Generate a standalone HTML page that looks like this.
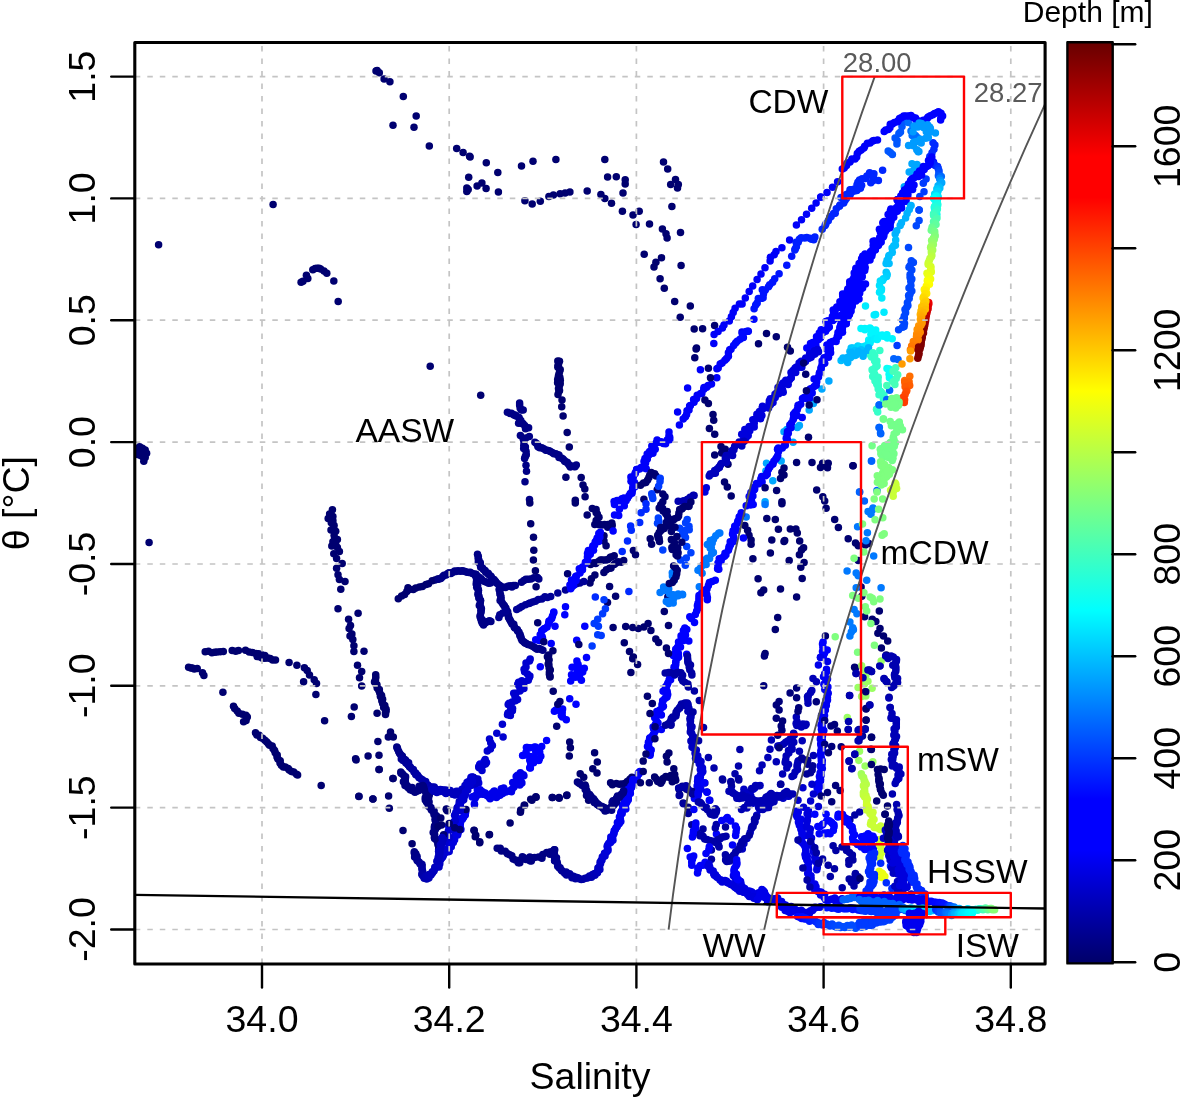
<!DOCTYPE html>
<html><head><meta charset="utf-8"><title>T-S diagram</title>
<style>html,body{margin:0;padding:0;background:#fff}svg{display:block}text{font-family:"Liberation Sans",Arial,Helvetica,sans-serif}</style>
</head><body>
<svg width="1181" height="1099" viewBox="0 0 1181 1099">
<rect width="1181" height="1099" fill="#fff"/>
<defs><clipPath id="cp"><rect x="134.8" y="42.5" width="910.3" height="921.5"/></clipPath>
<linearGradient id="jet" x1="0" y1="1" x2="0" y2="0">
<stop offset="0.0012" stop-color="#00006a"/>
<stop offset="0.0621" stop-color="#0000b4"/>
<stop offset="0.1230" stop-color="#0000ff"/>
<stop offset="0.1784" stop-color="#0000ff"/>
<stop offset="0.3832" stop-color="#00ffff"/>
<stop offset="0.5022" stop-color="#7fff7f"/>
<stop offset="0.6213" stop-color="#ffff00"/>
<stop offset="0.8316" stop-color="#ff0000"/>
<stop offset="0.8759" stop-color="#ff0000"/>
<stop offset="0.9977" stop-color="#6a0000"/>
</linearGradient></defs>
<g clip-path="url(#cp)">
<circle cx="377.1" cy="70.5" r="3.75" fill="#000070"/>
<circle cx="379.3" cy="72.7" r="3.75" fill="#000070"/>
<circle cx="376.0" cy="71.1" r="3.75" fill="#000070"/>
<circle cx="384.1" cy="78.9" r="3.75" fill="#000070"/>
<circle cx="389.9" cy="81.7" r="3.75" fill="#000070"/>
<circle cx="403.3" cy="96.5" r="3.75" fill="#000070"/>
<circle cx="416.2" cy="116.0" r="3.75" fill="#000070"/>
<circle cx="393.0" cy="125.3" r="3.75" fill="#000070"/>
<circle cx="414.0" cy="127.2" r="3.75" fill="#000070"/>
<circle cx="429.3" cy="145.9" r="3.75" fill="#000070"/>
<circle cx="273.1" cy="204.6" r="3.75" fill="#000070"/>
<circle cx="158.6" cy="244.8" r="3.75" fill="#000070"/>
<circle cx="301.1" cy="282.3" r="3.75" fill="#000070"/>
<circle cx="303.0" cy="281.2" r="3.75" fill="#000070"/>
<circle cx="306.4" cy="275.3" r="3.75" fill="#000070"/>
<circle cx="307.8" cy="278.4" r="3.75" fill="#000070"/>
<circle cx="312.8" cy="269.7" r="3.75" fill="#000070"/>
<circle cx="315.1" cy="268.6" r="3.75" fill="#000070"/>
<circle cx="317.0" cy="268.3" r="3.75" fill="#000070"/>
<circle cx="319.0" cy="268.3" r="3.75" fill="#000070"/>
<circle cx="320.6" cy="268.9" r="3.75" fill="#000070"/>
<circle cx="324.0" cy="271.1" r="3.75" fill="#000070"/>
<circle cx="326.8" cy="273.3" r="3.75" fill="#000070"/>
<circle cx="333.8" cy="280.9" r="3.75" fill="#000070"/>
<circle cx="338.2" cy="301.6" r="3.75" fill="#000070"/>
<circle cx="456.7" cy="148.5" r="3.75" fill="#000070"/>
<circle cx="463.1" cy="152.6" r="3.75" fill="#000070"/>
<circle cx="469.6" cy="156.3" r="3.75" fill="#000070"/>
<circle cx="470.1" cy="157.1" r="3.75" fill="#000070"/>
<circle cx="486.3" cy="162.7" r="3.75" fill="#000070"/>
<circle cx="497.8" cy="172.5" r="3.75" fill="#000070"/>
<circle cx="468.7" cy="177.2" r="3.75" fill="#000070"/>
<circle cx="481.9" cy="183.1" r="3.75" fill="#000070"/>
<circle cx="477.1" cy="185.9" r="3.75" fill="#000070"/>
<circle cx="486.1" cy="188.4" r="3.75" fill="#000070"/>
<circle cx="466.8" cy="188.1" r="3.75" fill="#000070"/>
<circle cx="466.8" cy="191.5" r="3.75" fill="#000070"/>
<circle cx="468.2" cy="189.5" r="3.75" fill="#000070"/>
<circle cx="498.4" cy="192.0" r="3.75" fill="#000070"/>
<circle cx="521.5" cy="166.1" r="3.75" fill="#000070"/>
<circle cx="533.0" cy="161.3" r="3.75" fill="#000070"/>
<circle cx="555.9" cy="159.4" r="3.75" fill="#000070"/>
<circle cx="524.9" cy="200.7" r="3.75" fill="#000070"/>
<circle cx="532.2" cy="204.1" r="3.75" fill="#000070"/>
<circle cx="540.3" cy="201.3" r="3.75" fill="#000070"/>
<circle cx="548.9" cy="196.5" r="3.75" fill="#000070"/>
<circle cx="553.4" cy="195.1" r="3.75" fill="#000070"/>
<circle cx="560.1" cy="193.7" r="3.75" fill="#000070"/>
<circle cx="565.1" cy="192.9" r="3.75" fill="#000070"/>
<circle cx="569.9" cy="192.0" r="3.75" fill="#000070"/>
<circle cx="587.2" cy="190.9" r="3.75" fill="#000070"/>
<circle cx="604.8" cy="159.4" r="3.75" fill="#000070"/>
<circle cx="607.6" cy="177.0" r="3.75" fill="#000070"/>
<circle cx="616.3" cy="176.7" r="3.75" fill="#000070"/>
<circle cx="625.2" cy="179.7" r="3.75" fill="#000070"/>
<circle cx="625.2" cy="183.9" r="3.75" fill="#000070"/>
<circle cx="623.0" cy="192.9" r="3.75" fill="#000070"/>
<circle cx="600.9" cy="194.6" r="3.75" fill="#000070"/>
<circle cx="604.8" cy="198.5" r="3.75" fill="#000070"/>
<circle cx="611.5" cy="203.2" r="3.75" fill="#000070"/>
<circle cx="622.4" cy="211.3" r="3.75" fill="#000070"/>
<circle cx="633.0" cy="215.0" r="3.75" fill="#000070"/>
<circle cx="639.2" cy="211.3" r="3.75" fill="#000070"/>
<circle cx="636.1" cy="224.5" r="3.75" fill="#000070"/>
<circle cx="649.5" cy="223.9" r="3.75" fill="#000070"/>
<circle cx="663.5" cy="161.9" r="3.75" fill="#000070"/>
<circle cx="667.7" cy="169.1" r="3.75" fill="#000070"/>
<circle cx="675.5" cy="179.5" r="3.75" fill="#000070"/>
<circle cx="670.7" cy="184.5" r="3.75" fill="#000070"/>
<circle cx="678.3" cy="184.5" r="3.75" fill="#000070"/>
<circle cx="677.5" cy="187.9" r="3.75" fill="#000070"/>
<circle cx="671.9" cy="206.6" r="3.75" fill="#000070"/>
<circle cx="680.5" cy="232.6" r="3.75" fill="#000070"/>
<circle cx="662.4" cy="228.9" r="3.75" fill="#000070"/>
<circle cx="666.0" cy="233.7" r="3.75" fill="#000070"/>
<circle cx="667.1" cy="238.1" r="3.75" fill="#000070"/>
<circle cx="644.2" cy="254.3" r="3.75" fill="#000070"/>
<circle cx="661.5" cy="257.7" r="3.75" fill="#000070"/>
<circle cx="655.9" cy="262.2" r="3.75" fill="#000070"/>
<circle cx="654.0" cy="266.9" r="3.75" fill="#000070"/>
<circle cx="681.1" cy="265.5" r="3.75" fill="#000070"/>
<circle cx="660.1" cy="278.7" r="3.75" fill="#000070"/>
<circle cx="664.3" cy="288.2" r="3.75" fill="#000070"/>
<circle cx="674.7" cy="301.6" r="3.75" fill="#000070"/>
<circle cx="690.3" cy="306.0" r="3.75" fill="#000070"/>
<circle cx="680.2" cy="317.2" r="3.75" fill="#000070"/>
<circle cx="694.2" cy="329.0" r="3.75" fill="#000070"/>
<circle cx="702.6" cy="328.7" r="3.75" fill="#000070"/>
<circle cx="714.6" cy="325.6" r="3.75" fill="#000070"/>
<circle cx="696.5" cy="348.0" r="3.75" fill="#000070"/>
<circle cx="139.6" cy="451.0" r="3.75" fill="#000070"/>
<circle cx="141.8" cy="452.9" r="3.75" fill="#000070"/>
<circle cx="142.4" cy="456.6" r="3.75" fill="#000070"/>
<circle cx="140.1" cy="455.2" r="3.75" fill="#000070"/>
<circle cx="138.2" cy="452.4" r="3.75" fill="#000070"/>
<circle cx="430.2" cy="366.3" r="3.75" fill="#000070"/>
<circle cx="136.2" cy="451.0" r="3.75" fill="#000070"/>
<circle cx="139.6" cy="446.8" r="3.75" fill="#000070"/>
<circle cx="142.4" cy="448.2" r="3.75" fill="#000070"/>
<circle cx="145.2" cy="450.1" r="3.75" fill="#000070"/>
<circle cx="146.6" cy="453.2" r="3.75" fill="#000070"/>
<circle cx="145.2" cy="457.4" r="3.75" fill="#000070"/>
<circle cx="143.8" cy="461.3" r="3.75" fill="#000070"/>
<circle cx="137.4" cy="454.6" r="3.75" fill="#000070"/>
<circle cx="149.1" cy="542.4" r="3.75" fill="#000070"/>
<circle cx="332.4" cy="509.7" r="3.75" fill="#000070"/>
<circle cx="329.6" cy="513.9" r="3.75" fill="#000070"/>
<circle cx="328.2" cy="518.6" r="3.75" fill="#000070"/>
<circle cx="332.9" cy="520.8" r="3.75" fill="#000070"/>
<circle cx="334.1" cy="525.6" r="3.75" fill="#000070"/>
<circle cx="331.0" cy="530.1" r="3.75" fill="#000070"/>
<circle cx="335.7" cy="531.2" r="3.75" fill="#000070"/>
<circle cx="334.6" cy="539.0" r="3.75" fill="#000070"/>
<circle cx="337.4" cy="539.6" r="3.75" fill="#000070"/>
<circle cx="332.9" cy="541.8" r="3.75" fill="#000070"/>
<circle cx="331.8" cy="546.0" r="3.75" fill="#000070"/>
<circle cx="337.4" cy="547.4" r="3.75" fill="#000070"/>
<circle cx="339.4" cy="551.6" r="3.75" fill="#000070"/>
<circle cx="333.8" cy="553.8" r="3.75" fill="#000070"/>
<circle cx="336.6" cy="558.6" r="3.75" fill="#000070"/>
<circle cx="342.2" cy="563.6" r="3.75" fill="#000070"/>
<circle cx="336.6" cy="568.3" r="3.75" fill="#000070"/>
<circle cx="338.0" cy="574.8" r="3.75" fill="#000070"/>
<circle cx="339.4" cy="579.5" r="3.75" fill="#000070"/>
<circle cx="345.0" cy="581.5" r="3.75" fill="#000070"/>
<circle cx="340.8" cy="589.3" r="3.75" fill="#000070"/>
<circle cx="332.9" cy="516.6" r="3.75" fill="#000070"/>
<circle cx="331.3" cy="522.8" r="3.75" fill="#000070"/>
<circle cx="333.5" cy="528.4" r="3.75" fill="#000070"/>
<circle cx="334.1" cy="535.6" r="3.75" fill="#000070"/>
<circle cx="335.7" cy="544.6" r="3.75" fill="#000070"/>
<circle cx="338.0" cy="608.8" r="3.75" fill="#000070"/>
<circle cx="358.1" cy="613.3" r="3.75" fill="#000070"/>
<circle cx="348.6" cy="619.2" r="3.75" fill="#000070"/>
<circle cx="350.5" cy="625.6" r="3.75" fill="#000070"/>
<circle cx="349.1" cy="628.4" r="3.75" fill="#000070"/>
<circle cx="351.9" cy="634.0" r="3.75" fill="#000070"/>
<circle cx="350.0" cy="636.0" r="3.75" fill="#000070"/>
<circle cx="352.8" cy="639.6" r="3.75" fill="#000070"/>
<circle cx="353.9" cy="645.7" r="3.75" fill="#000070"/>
<circle cx="353.9" cy="651.6" r="3.75" fill="#000070"/>
<circle cx="364.0" cy="651.3" r="3.75" fill="#000070"/>
<circle cx="398.3" cy="598.8" r="3.75" fill="#000070"/>
<circle cx="401.6" cy="596.1" r="3.75" fill="#000070"/>
<circle cx="404.6" cy="594.4" r="3.75" fill="#000070"/>
<circle cx="406.8" cy="591.5" r="3.75" fill="#000070"/>
<circle cx="408.3" cy="589.1" r="3.75" fill="#000070"/>
<circle cx="408.0" cy="587.7" r="3.75" fill="#000070"/>
<circle cx="409.3" cy="589.4" r="3.75" fill="#000070"/>
<circle cx="413.3" cy="589.4" r="3.75" fill="#000070"/>
<circle cx="415.8" cy="587.9" r="3.75" fill="#000070"/>
<circle cx="419.5" cy="587.0" r="3.75" fill="#000070"/>
<circle cx="422.4" cy="586.4" r="3.75" fill="#000070"/>
<circle cx="426.0" cy="584.6" r="3.75" fill="#000070"/>
<circle cx="428.5" cy="583.7" r="3.75" fill="#000070"/>
<circle cx="432.2" cy="580.7" r="3.75" fill="#000070"/>
<circle cx="435.0" cy="580.1" r="3.75" fill="#000070"/>
<circle cx="437.7" cy="579.0" r="3.75" fill="#000070"/>
<circle cx="205.2" cy="651.7" r="3.75" fill="#000070"/>
<circle cx="208.5" cy="651.3" r="3.75" fill="#000070"/>
<circle cx="211.9" cy="652.7" r="3.75" fill="#000070"/>
<circle cx="214.6" cy="652.3" r="3.75" fill="#000070"/>
<circle cx="216.9" cy="652.0" r="3.75" fill="#000070"/>
<circle cx="220.1" cy="651.8" r="3.75" fill="#000070"/>
<circle cx="223.3" cy="651.4" r="3.75" fill="#000070"/>
<circle cx="232.2" cy="650.5" r="3.75" fill="#000070"/>
<circle cx="235.7" cy="651.3" r="3.75" fill="#000070"/>
<circle cx="238.5" cy="650.4" r="3.75" fill="#000070"/>
<circle cx="245.5" cy="650.2" r="3.75" fill="#000070"/>
<circle cx="249.2" cy="652.0" r="3.75" fill="#000070"/>
<circle cx="252.5" cy="652.5" r="3.75" fill="#000070"/>
<circle cx="255.9" cy="653.6" r="3.75" fill="#000070"/>
<circle cx="258.7" cy="653.7" r="3.75" fill="#000070"/>
<circle cx="261.6" cy="654.7" r="3.75" fill="#000070"/>
<circle cx="264.8" cy="655.5" r="3.75" fill="#000070"/>
<circle cx="903.3" cy="121.9" r="3.75" fill="#0057ff"/>
<circle cx="902.0" cy="126.6" r="3.75" fill="#0057ff"/>
<circle cx="900.5" cy="132.0" r="3.75" fill="#0057ff"/>
<circle cx="898.9" cy="133.5" r="3.75" fill="#0057ff"/>
<circle cx="895.1" cy="137.9" r="3.75" fill="#0057ff"/>
<circle cx="897.1" cy="140.4" r="3.75" fill="#0057ff"/>
<circle cx="896.9" cy="144.1" r="3.75" fill="#0057ff"/>
<circle cx="888.2" cy="151.1" r="3.75" fill="#0057ff"/>
<circle cx="892.4" cy="154.6" r="3.75" fill="#0057ff"/>
<circle cx="890.3" cy="152.5" r="3.75" fill="#0057ff"/>
<circle cx="908.3" cy="122.6" r="3.75" fill="#006eff"/>
<circle cx="913.0" cy="126.2" r="3.75" fill="#006eff"/>
<circle cx="911.0" cy="131.0" r="3.75" fill="#006eff"/>
<circle cx="912.2" cy="135.4" r="3.75" fill="#006eff"/>
<circle cx="915.4" cy="135.5" r="3.75" fill="#006eff"/>
<circle cx="917.3" cy="137.6" r="3.75" fill="#006eff"/>
<circle cx="933.0" cy="142.7" r="3.75" fill="#002aff"/>
<circle cx="934.9" cy="145.1" r="3.75" fill="#002aff"/>
<circle cx="933.9" cy="149.3" r="3.75" fill="#002aff"/>
<circle cx="932.0" cy="152.8" r="3.75" fill="#002aff"/>
<circle cx="929.8" cy="156.6" r="3.75" fill="#002aff"/>
<circle cx="912.0" cy="163.7" r="3.75" fill="#00a7ff"/>
<circle cx="909.2" cy="172.1" r="3.75" fill="#00a7ff"/>
<circle cx="914.8" cy="166.5" r="3.75" fill="#00a7ff"/>
<circle cx="917.0" cy="164.4" r="3.75" fill="#00a7ff"/>
<circle cx="913.4" cy="170.7" r="3.75" fill="#00a7ff"/>
<circle cx="904.3" cy="186.8" r="3.75" fill="#00a7ff"/>
<circle cx="923.3" cy="183.3" r="3.75" fill="#003bff"/>
<circle cx="924.0" cy="191.7" r="3.75" fill="#003bff"/>
<circle cx="919.8" cy="196.6" r="3.75" fill="#003bff"/>
<circle cx="919.1" cy="209.9" r="3.75" fill="#003bff"/>
<circle cx="926.1" cy="179.1" r="3.75" fill="#003bff"/>
<circle cx="910.6" cy="205.7" r="3.75" fill="#00a7ff"/>
<circle cx="842.3" cy="169.1" r="3.75" fill="#0000f9"/>
<circle cx="844.2" cy="167.9" r="3.75" fill="#0000f9"/>
<circle cx="846.5" cy="165.6" r="3.75" fill="#0000f9"/>
<circle cx="846.8" cy="163.6" r="3.75" fill="#0000f9"/>
<circle cx="850.0" cy="161.9" r="3.75" fill="#0000f9"/>
<circle cx="851.9" cy="159.1" r="3.75" fill="#0000f9"/>
<circle cx="855.0" cy="159.0" r="3.75" fill="#0000f9"/>
<circle cx="856.7" cy="156.9" r="3.75" fill="#0000f9"/>
<circle cx="857.3" cy="153.6" r="3.75" fill="#0000f9"/>
<circle cx="859.2" cy="151.3" r="3.75" fill="#0000f9"/>
<circle cx="861.2" cy="150.0" r="3.75" fill="#0000f9"/>
<circle cx="863.9" cy="147.9" r="3.75" fill="#0000f9"/>
<circle cx="864.7" cy="146.3" r="3.75" fill="#0000f9"/>
<circle cx="867.4" cy="143.3" r="3.75" fill="#0000f9"/>
<circle cx="870.1" cy="143.0" r="3.75" fill="#0000f9"/>
<circle cx="872.6" cy="141.1" r="3.75" fill="#0000f9"/>
<circle cx="874.0" cy="140.4" r="3.75" fill="#0000f9"/>
<circle cx="877.5" cy="139.9" r="3.75" fill="#0000f9"/>
<circle cx="884.2" cy="131.6" r="3.75" fill="#0000ff"/>
<circle cx="885.7" cy="129.9" r="3.75" fill="#0000ff"/>
<circle cx="888.3" cy="129.5" r="3.75" fill="#0000ff"/>
<circle cx="889.9" cy="127.7" r="3.75" fill="#0000ff"/>
<circle cx="890.3" cy="124.3" r="3.75" fill="#0000ff"/>
<circle cx="892.4" cy="124.1" r="3.75" fill="#0000ff"/>
<circle cx="894.4" cy="122.6" r="3.75" fill="#0000ff"/>
<circle cx="897.4" cy="121.8" r="3.75" fill="#0000ff"/>
<circle cx="897.9" cy="120.9" r="3.75" fill="#0000ff"/>
<circle cx="899.5" cy="118.5" r="3.75" fill="#0000ff"/>
<circle cx="901.2" cy="117.7" r="3.75" fill="#0000ff"/>
<circle cx="903.7" cy="116.1" r="3.75" fill="#0000ff"/>
<circle cx="906.0" cy="115.9" r="3.75" fill="#0000ff"/>
<circle cx="908.8" cy="116.0" r="3.75" fill="#0000ff"/>
<circle cx="911.0" cy="115.4" r="3.75" fill="#0000ff"/>
<circle cx="913.2" cy="117.6" r="3.75" fill="#0000ff"/>
<circle cx="915.5" cy="118.0" r="3.75" fill="#0000ff"/>
<circle cx="915.8" cy="119.6" r="3.75" fill="#0000ff"/>
<circle cx="918.8" cy="121.1" r="3.75" fill="#0000ff"/>
<circle cx="920.3" cy="121.8" r="3.75" fill="#0000ff"/>
<circle cx="920.4" cy="124.3" r="3.75" fill="#0000ff"/>
<circle cx="921.6" cy="122.6" r="3.75" fill="#0000ff"/>
<circle cx="923.3" cy="120.2" r="3.75" fill="#0000ff"/>
<circle cx="925.5" cy="120.3" r="3.75" fill="#0000ff"/>
<circle cx="927.2" cy="118.4" r="3.75" fill="#0000ff"/>
<circle cx="928.1" cy="117.0" r="3.75" fill="#0000ff"/>
<circle cx="930.4" cy="115.7" r="3.75" fill="#0000ff"/>
<circle cx="932.8" cy="114.8" r="3.75" fill="#0000ff"/>
<circle cx="934.6" cy="113.4" r="3.75" fill="#0000ff"/>
<circle cx="937.2" cy="112.4" r="3.75" fill="#0000ff"/>
<circle cx="938.5" cy="111.7" r="3.75" fill="#0000ff"/>
<circle cx="941.0" cy="113.3" r="3.75" fill="#0000ff"/>
<circle cx="942.6" cy="116.1" r="3.75" fill="#0000ff"/>
<circle cx="940.8" cy="117.9" r="3.75" fill="#0000ff"/>
<circle cx="940.6" cy="120.1" r="3.75" fill="#0000ff"/>
<circle cx="913.0" cy="131.8" r="3.75" fill="#009bff"/>
<circle cx="914.1" cy="126.1" r="3.75" fill="#009bff"/>
<circle cx="917.9" cy="127.0" r="3.75" fill="#009bff"/>
<circle cx="919.2" cy="123.0" r="3.75" fill="#009bff"/>
<circle cx="921.5" cy="123.4" r="3.75" fill="#009bff"/>
<circle cx="927.2" cy="127.7" r="3.75" fill="#009bff"/>
<circle cx="929.6" cy="126.9" r="3.75" fill="#009bff"/>
<circle cx="926.3" cy="131.7" r="3.75" fill="#009bff"/>
<circle cx="935.4" cy="133.1" r="3.75" fill="#009bff"/>
<circle cx="929.8" cy="132.0" r="3.75" fill="#009bff"/>
<circle cx="928.3" cy="137.6" r="3.75" fill="#009bff"/>
<circle cx="925.7" cy="138.2" r="3.75" fill="#009bff"/>
<circle cx="920.4" cy="139.3" r="3.75" fill="#009bff"/>
<circle cx="921.2" cy="143.0" r="3.75" fill="#009bff"/>
<circle cx="916.5" cy="141.5" r="3.75" fill="#009bff"/>
<circle cx="913.6" cy="142.2" r="3.75" fill="#009bff"/>
<circle cx="908.6" cy="145.5" r="3.75" fill="#009bff"/>
<circle cx="913.5" cy="145.7" r="3.75" fill="#009bff"/>
<circle cx="916.8" cy="149.8" r="3.75" fill="#009bff"/>
<circle cx="918.9" cy="151.5" r="3.75" fill="#009bff"/>
<circle cx="918.2" cy="151.7" r="3.75" fill="#009bff"/>
<circle cx="923.4" cy="127.6" r="3.75" fill="#009bff"/>
<circle cx="927.5" cy="124.8" r="3.75" fill="#009bff"/>
<circle cx="930.4" cy="128.4" r="3.75" fill="#009bff"/>
<circle cx="841.0" cy="197.6" r="3.75" fill="#0025ff"/>
<circle cx="846.3" cy="194.4" r="3.75" fill="#0025ff"/>
<circle cx="848.5" cy="193.4" r="3.75" fill="#0025ff"/>
<circle cx="850.0" cy="189.8" r="3.75" fill="#0025ff"/>
<circle cx="851.2" cy="189.7" r="3.75" fill="#0025ff"/>
<circle cx="854.5" cy="188.9" r="3.75" fill="#0025ff"/>
<circle cx="857.0" cy="184.8" r="3.75" fill="#0025ff"/>
<circle cx="857.9" cy="182.3" r="3.75" fill="#0025ff"/>
<circle cx="859.5" cy="180.0" r="3.75" fill="#0025ff"/>
<circle cx="862.1" cy="178.7" r="3.75" fill="#0025ff"/>
<circle cx="865.8" cy="178.6" r="3.75" fill="#0025ff"/>
<circle cx="866.9" cy="176.1" r="3.75" fill="#0025ff"/>
<circle cx="869.6" cy="172.7" r="3.75" fill="#0025ff"/>
<circle cx="873.9" cy="173.7" r="3.75" fill="#0025ff"/>
<circle cx="873.5" cy="177.4" r="3.75" fill="#0025ff"/>
<circle cx="873.3" cy="180.6" r="3.75" fill="#0025ff"/>
<circle cx="870.8" cy="182.8" r="3.75" fill="#0025ff"/>
<circle cx="878.4" cy="180.5" r="3.75" fill="#0025ff"/>
<circle cx="882.6" cy="170.3" r="3.75" fill="#0025ff"/>
<circle cx="928.7" cy="302.6" r="3.75" fill="#f10000"/>
<circle cx="928.7" cy="304.3" r="3.75" fill="#e90000"/>
<circle cx="927.8" cy="306.4" r="3.75" fill="#e20000"/>
<circle cx="928.1" cy="308.8" r="3.75" fill="#db0000"/>
<circle cx="927.2" cy="310.6" r="3.75" fill="#d40000"/>
<circle cx="927.0" cy="312.4" r="3.75" fill="#cc0000"/>
<circle cx="926.4" cy="314.8" r="3.75" fill="#c50000"/>
<circle cx="926.0" cy="316.4" r="3.75" fill="#bd0000"/>
<circle cx="925.7" cy="318.5" r="3.75" fill="#b50000"/>
<circle cx="925.6" cy="320.8" r="3.75" fill="#ad0000"/>
<circle cx="925.1" cy="322.6" r="3.75" fill="#a40000"/>
<circle cx="924.8" cy="325.0" r="3.75" fill="#9c0000"/>
<circle cx="924.3" cy="326.9" r="3.75" fill="#940000"/>
<circle cx="923.9" cy="328.7" r="3.75" fill="#8c0000"/>
<circle cx="923.4" cy="330.9" r="3.75" fill="#890000"/>
<circle cx="923.5" cy="333.1" r="3.75" fill="#870000"/>
<circle cx="922.3" cy="334.7" r="3.75" fill="#850000"/>
<circle cx="922.3" cy="337.1" r="3.75" fill="#830000"/>
<circle cx="921.9" cy="338.9" r="3.75" fill="#820000"/>
<circle cx="921.3" cy="340.9" r="3.75" fill="#800000"/>
<circle cx="921.1" cy="342.6" r="3.75" fill="#7f0000"/>
<circle cx="921.1" cy="345.1" r="3.75" fill="#7f0000"/>
<circle cx="920.4" cy="347.1" r="3.75" fill="#7f0000"/>
<circle cx="919.9" cy="349.0" r="3.75" fill="#7f0000"/>
<circle cx="931.5" cy="160.1" r="3.75" fill="#0008ff"/>
<circle cx="933.5" cy="162.1" r="3.75" fill="#0011ff"/>
<circle cx="933.6" cy="163.7" r="3.75" fill="#001aff"/>
<circle cx="935.2" cy="165.6" r="3.75" fill="#0022ff"/>
<circle cx="937.6" cy="166.5" r="3.75" fill="#002bff"/>
<circle cx="938.2" cy="168.4" r="3.75" fill="#0036ff"/>
<circle cx="939.0" cy="170.8" r="3.75" fill="#0041ff"/>
<circle cx="938.9" cy="173.0" r="3.75" fill="#004cff"/>
<circle cx="938.4" cy="175.7" r="3.75" fill="#0057ff"/>
<circle cx="941.3" cy="176.5" r="3.75" fill="#006aff"/>
<circle cx="939.6" cy="178.6" r="3.75" fill="#007eff"/>
<circle cx="940.3" cy="180.6" r="3.75" fill="#0093ff"/>
<circle cx="941.7" cy="182.7" r="3.75" fill="#00a7ff"/>
<circle cx="940.3" cy="184.1" r="3.75" fill="#00a7ff"/>
<circle cx="938.1" cy="185.8" r="3.75" fill="#00b2ff"/>
<circle cx="939.8" cy="187.9" r="3.75" fill="#00bdff"/>
<circle cx="936.8" cy="189.1" r="3.75" fill="#00c8ff"/>
<circle cx="937.9" cy="191.3" r="3.75" fill="#00d3ff"/>
<circle cx="934.7" cy="193.9" r="3.75" fill="#00daff"/>
<circle cx="937.8" cy="196.0" r="3.75" fill="#00e1ff"/>
<circle cx="938.2" cy="197.6" r="3.75" fill="#00e8ff"/>
<circle cx="937.2" cy="200.3" r="3.75" fill="#00efff"/>
<circle cx="936.9" cy="202.0" r="3.75" fill="#00f4ff"/>
<circle cx="937.3" cy="204.3" r="3.75" fill="#00f8ff"/>
<circle cx="935.6" cy="205.5" r="3.75" fill="#00fcff"/>
<circle cx="934.3" cy="207.4" r="3.75" fill="#02fffd"/>
<circle cx="936.4" cy="209.2" r="3.75" fill="#06fff9"/>
<circle cx="934.4" cy="212.5" r="3.75" fill="#0afff5"/>
<circle cx="936.9" cy="214.6" r="3.75" fill="#0efff1"/>
<circle cx="936.0" cy="195.9" r="3.75" fill="#00f6ff"/>
<circle cx="933.5" cy="198.2" r="3.75" fill="#00feff"/>
<circle cx="934.8" cy="199.7" r="3.75" fill="#06fff9"/>
<circle cx="936.4" cy="201.8" r="3.75" fill="#0dfff2"/>
<circle cx="937.4" cy="202.9" r="3.75" fill="#15ffea"/>
<circle cx="937.8" cy="204.8" r="3.75" fill="#1cffe3"/>
<circle cx="934.6" cy="206.5" r="3.75" fill="#23ffdc"/>
<circle cx="937.4" cy="209.0" r="3.75" fill="#2affd4"/>
<circle cx="936.6" cy="210.7" r="3.75" fill="#31ffcd"/>
<circle cx="934.8" cy="212.4" r="3.75" fill="#37ffc7"/>
<circle cx="933.5" cy="214.0" r="3.75" fill="#3dffc2"/>
<circle cx="933.6" cy="215.4" r="3.75" fill="#43ffbc"/>
<circle cx="937.0" cy="217.9" r="3.75" fill="#49ffb6"/>
<circle cx="935.9" cy="219.5" r="3.75" fill="#4effb0"/>
<circle cx="933.5" cy="221.8" r="3.75" fill="#54ffaa"/>
<circle cx="935.0" cy="223.5" r="3.75" fill="#5affa4"/>
<circle cx="936.0" cy="224.5" r="3.75" fill="#60ff9f"/>
<circle cx="932.2" cy="227.0" r="3.75" fill="#65ff99"/>
<circle cx="932.3" cy="227.9" r="3.75" fill="#6bff93"/>
<circle cx="931.3" cy="230.2" r="3.75" fill="#71ff8d"/>
<circle cx="934.7" cy="231.6" r="3.75" fill="#76ff88"/>
<circle cx="934.7" cy="234.1" r="3.75" fill="#7bff83"/>
<circle cx="935.2" cy="236.1" r="3.75" fill="#80ff7e"/>
<circle cx="933.5" cy="237.9" r="3.75" fill="#85ff79"/>
<circle cx="934.3" cy="239.2" r="3.75" fill="#8aff74"/>
<circle cx="931.6" cy="240.5" r="3.75" fill="#8fff70"/>
<circle cx="932.7" cy="242.5" r="3.75" fill="#93ff6b"/>
<circle cx="933.3" cy="244.5" r="3.75" fill="#98ff66"/>
<circle cx="931.3" cy="246.0" r="3.75" fill="#9dff61"/>
<circle cx="930.6" cy="247.4" r="3.75" fill="#a2ff5c"/>
<circle cx="932.7" cy="249.9" r="3.75" fill="#a7ff57"/>
<circle cx="931.4" cy="251.1" r="3.75" fill="#acff53"/>
<circle cx="931.4" cy="252.9" r="3.75" fill="#b1ff4e"/>
<circle cx="931.8" cy="254.9" r="3.75" fill="#b5ff49"/>
<circle cx="931.5" cy="256.6" r="3.75" fill="#baff44"/>
<circle cx="930.1" cy="258.3" r="3.75" fill="#bfff3f"/>
<circle cx="929.3" cy="260.4" r="3.75" fill="#c4ff3b"/>
<circle cx="928.3" cy="262.8" r="3.75" fill="#c9ff36"/>
<circle cx="928.2" cy="264.5" r="3.75" fill="#ceff31"/>
<circle cx="930.8" cy="266.6" r="3.75" fill="#d3ff2c"/>
<circle cx="930.8" cy="268.1" r="3.75" fill="#d7ff27"/>
<circle cx="930.7" cy="270.2" r="3.75" fill="#dcff23"/>
<circle cx="931.3" cy="272.1" r="3.75" fill="#e0ff1f"/>
<circle cx="927.0" cy="273.2" r="3.75" fill="#e4ff1a"/>
<circle cx="928.0" cy="274.9" r="3.75" fill="#e9ff16"/>
<circle cx="929.1" cy="276.8" r="3.75" fill="#edff12"/>
<circle cx="930.6" cy="278.9" r="3.75" fill="#f1ff0e"/>
<circle cx="927.4" cy="280.2" r="3.75" fill="#f5ff0a"/>
<circle cx="927.5" cy="281.7" r="3.75" fill="#faff05"/>
<circle cx="929.4" cy="284.2" r="3.75" fill="#feff01"/>
<circle cx="926.3" cy="286.0" r="3.75" fill="#fffc00"/>
<circle cx="926.4" cy="287.5" r="3.75" fill="#fff700"/>
<circle cx="924.3" cy="289.4" r="3.75" fill="#fff200"/>
<circle cx="925.8" cy="290.5" r="3.75" fill="#ffed00"/>
<circle cx="926.7" cy="293.4" r="3.75" fill="#ffe800"/>
<circle cx="925.0" cy="293.8" r="3.75" fill="#ffe300"/>
<circle cx="923.7" cy="296.7" r="3.75" fill="#ffde00"/>
<circle cx="923.1" cy="297.9" r="3.75" fill="#ffd900"/>
<circle cx="925.5" cy="300.2" r="3.75" fill="#ffd400"/>
<circle cx="925.8" cy="301.6" r="3.75" fill="#ffcf00"/>
<circle cx="923.7" cy="302.9" r="3.75" fill="#ffcb00"/>
<circle cx="925.3" cy="305.8" r="3.75" fill="#ffc600"/>
<circle cx="921.7" cy="306.8" r="3.75" fill="#ffc200"/>
<circle cx="925.3" cy="309.3" r="3.75" fill="#ffbd00"/>
<circle cx="921.0" cy="311.0" r="3.75" fill="#ffb900"/>
<circle cx="923.3" cy="312.4" r="3.75" fill="#ffb400"/>
<circle cx="920.3" cy="314.4" r="3.75" fill="#ffb000"/>
<circle cx="921.7" cy="315.9" r="3.75" fill="#ffab00"/>
<circle cx="921.4" cy="317.2" r="3.75" fill="#ffa700"/>
<circle cx="920.4" cy="319.4" r="3.75" fill="#ffa200"/>
<circle cx="921.8" cy="321.7" r="3.75" fill="#ff9e00"/>
<circle cx="922.1" cy="323.0" r="3.75" fill="#ff9a00"/>
<circle cx="921.0" cy="325.2" r="3.75" fill="#ff9800"/>
<circle cx="918.7" cy="325.8" r="3.75" fill="#ff9600"/>
<circle cx="919.4" cy="327.9" r="3.75" fill="#ff9300"/>
<circle cx="917.2" cy="329.4" r="3.75" fill="#ff9100"/>
<circle cx="920.2" cy="332.3" r="3.75" fill="#ff8e00"/>
<circle cx="916.7" cy="333.9" r="3.75" fill="#ff8c00"/>
<circle cx="918.6" cy="334.8" r="3.75" fill="#ff8a00"/>
<circle cx="916.5" cy="336.4" r="3.75" fill="#ff8700"/>
<circle cx="918.2" cy="339.8" r="3.75" fill="#ff8500"/>
<circle cx="917.0" cy="340.8" r="3.75" fill="#ff8300"/>
<circle cx="913.3" cy="341.5" r="3.75" fill="#ff8000"/>
<circle cx="916.7" cy="345.2" r="3.75" fill="#ff7e00"/>
<circle cx="915.8" cy="346.8" r="3.75" fill="#ff7b00"/>
<circle cx="911.6" cy="345.9" r="3.75" fill="#ff7900"/>
<circle cx="911.9" cy="348.8" r="3.75" fill="#ff7600"/>
<circle cx="910.4" cy="349.8" r="3.75" fill="#ff7400"/>
<circle cx="892.6" cy="214.7" r="3.75" fill="#0000ff"/>
<circle cx="892.3" cy="212.7" r="3.75" fill="#0000ff"/>
<circle cx="895.3" cy="212.1" r="3.75" fill="#0000ff"/>
<circle cx="897.3" cy="211.3" r="3.75" fill="#0000ff"/>
<circle cx="897.6" cy="209.4" r="3.75" fill="#0000ff"/>
<circle cx="897.9" cy="208.0" r="3.75" fill="#0000ff"/>
<circle cx="898.2" cy="206.1" r="3.75" fill="#0000ff"/>
<circle cx="898.7" cy="204.4" r="3.75" fill="#0000ff"/>
<circle cx="898.1" cy="201.3" r="3.75" fill="#0000ff"/>
<circle cx="897.5" cy="199.8" r="3.75" fill="#0000ff"/>
<circle cx="899.6" cy="199.0" r="3.75" fill="#0000ff"/>
<circle cx="903.4" cy="200.2" r="3.75" fill="#0000ff"/>
<circle cx="900.8" cy="196.0" r="3.75" fill="#0000ff"/>
<circle cx="906.3" cy="196.6" r="3.75" fill="#0000ff"/>
<circle cx="907.8" cy="195.7" r="3.75" fill="#0000ff"/>
<circle cx="902.6" cy="193.0" r="3.75" fill="#0000ff"/>
<circle cx="907.9" cy="193.1" r="3.75" fill="#0000ff"/>
<circle cx="904.5" cy="190.1" r="3.75" fill="#0000ff"/>
<circle cx="907.2" cy="188.1" r="3.75" fill="#0000ff"/>
<circle cx="908.5" cy="187.4" r="3.75" fill="#0000ff"/>
<circle cx="912.6" cy="189.5" r="3.75" fill="#0000ff"/>
<circle cx="908.4" cy="183.9" r="3.75" fill="#0000ff"/>
<circle cx="911.6" cy="184.0" r="3.75" fill="#0000ff"/>
<circle cx="914.0" cy="185.1" r="3.75" fill="#0000ff"/>
<circle cx="910.6" cy="180.5" r="3.75" fill="#0000ff"/>
<circle cx="912.1" cy="178.7" r="3.75" fill="#0000ff"/>
<circle cx="914.0" cy="177.7" r="3.75" fill="#0000ff"/>
<circle cx="916.2" cy="176.5" r="3.75" fill="#0000ff"/>
<circle cx="918.5" cy="176.5" r="3.75" fill="#0000ff"/>
<circle cx="917.0" cy="174.0" r="3.75" fill="#0000ff"/>
<circle cx="919.8" cy="174.3" r="3.75" fill="#0000ff"/>
<circle cx="921.6" cy="175.1" r="3.75" fill="#0000ff"/>
<circle cx="919.6" cy="171.1" r="3.75" fill="#0000ff"/>
<circle cx="922.7" cy="169.2" r="3.75" fill="#0000ff"/>
<circle cx="924.2" cy="169.6" r="3.75" fill="#0000ff"/>
<circle cx="923.4" cy="166.4" r="3.75" fill="#0000ff"/>
<circle cx="926.8" cy="166.4" r="3.75" fill="#0000ff"/>
<circle cx="928.1" cy="165.5" r="3.75" fill="#0000ff"/>
<circle cx="928.9" cy="164.9" r="3.75" fill="#0000ff"/>
<circle cx="930.2" cy="162.8" r="3.75" fill="#0000ff"/>
<circle cx="928.5" cy="160.4" r="3.75" fill="#0000ff"/>
<circle cx="929.8" cy="160.7" r="3.75" fill="#0000ff"/>
<circle cx="931.8" cy="156.9" r="3.75" fill="#0000ff"/>
<circle cx="846.1" cy="323.6" r="3.75" fill="#0000ff"/>
<circle cx="840.5" cy="319.2" r="3.75" fill="#0000ff"/>
<circle cx="841.1" cy="318.8" r="3.75" fill="#0000ff"/>
<circle cx="844.7" cy="318.4" r="3.75" fill="#0000ff"/>
<circle cx="841.3" cy="315.3" r="3.75" fill="#0000ff"/>
<circle cx="847.0" cy="315.9" r="3.75" fill="#0000ff"/>
<circle cx="843.5" cy="313.7" r="3.75" fill="#0000ff"/>
<circle cx="847.4" cy="313.3" r="3.75" fill="#0000ff"/>
<circle cx="846.4" cy="310.5" r="3.75" fill="#0000ff"/>
<circle cx="842.8" cy="308.8" r="3.75" fill="#0000ff"/>
<circle cx="846.8" cy="307.8" r="3.75" fill="#0000ff"/>
<circle cx="847.5" cy="306.8" r="3.75" fill="#0000ff"/>
<circle cx="845.2" cy="304.6" r="3.75" fill="#0000ff"/>
<circle cx="848.5" cy="302.4" r="3.75" fill="#0000ff"/>
<circle cx="846.2" cy="302.0" r="3.75" fill="#0000ff"/>
<circle cx="845.7" cy="299.6" r="3.75" fill="#0000ff"/>
<circle cx="849.3" cy="299.7" r="3.75" fill="#0000ff"/>
<circle cx="849.6" cy="296.7" r="3.75" fill="#0000ff"/>
<circle cx="849.5" cy="295.1" r="3.75" fill="#0000ff"/>
<circle cx="848.3" cy="293.9" r="3.75" fill="#0000ff"/>
<circle cx="847.2" cy="291.6" r="3.75" fill="#0000ff"/>
<circle cx="849.9" cy="290.8" r="3.75" fill="#0000ff"/>
<circle cx="855.1" cy="291.3" r="3.75" fill="#0000ff"/>
<circle cx="851.3" cy="288.0" r="3.75" fill="#0000ff"/>
<circle cx="855.7" cy="288.6" r="3.75" fill="#0000ff"/>
<circle cx="852.9" cy="285.2" r="3.75" fill="#0000ff"/>
<circle cx="857.3" cy="285.9" r="3.75" fill="#0000ff"/>
<circle cx="854.7" cy="284.4" r="3.75" fill="#0000ff"/>
<circle cx="857.7" cy="283.1" r="3.75" fill="#0000ff"/>
<circle cx="855.2" cy="279.6" r="3.75" fill="#0000ff"/>
<circle cx="854.9" cy="278.4" r="3.75" fill="#0000ff"/>
<circle cx="857.4" cy="278.2" r="3.75" fill="#0000ff"/>
<circle cx="861.9" cy="277.2" r="3.75" fill="#0000ff"/>
<circle cx="862.2" cy="275.9" r="3.75" fill="#0000ff"/>
<circle cx="859.4" cy="273.4" r="3.75" fill="#0000ff"/>
<circle cx="860.6" cy="272.3" r="3.75" fill="#0000ff"/>
<circle cx="859.4" cy="270.1" r="3.75" fill="#0000ff"/>
<circle cx="864.7" cy="270.4" r="3.75" fill="#0000ff"/>
<circle cx="863.2" cy="269.1" r="3.75" fill="#0000ff"/>
<circle cx="865.2" cy="267.4" r="3.75" fill="#0000ff"/>
<circle cx="863.9" cy="265.7" r="3.75" fill="#0000ff"/>
<circle cx="863.9" cy="264.1" r="3.75" fill="#0000ff"/>
<circle cx="863.8" cy="263.0" r="3.75" fill="#0000ff"/>
<circle cx="865.4" cy="261.9" r="3.75" fill="#0000ff"/>
<circle cx="863.7" cy="258.6" r="3.75" fill="#0000ff"/>
<circle cx="868.8" cy="259.6" r="3.75" fill="#0000ff"/>
<circle cx="870.0" cy="260.0" r="3.75" fill="#0000ff"/>
<circle cx="865.7" cy="255.2" r="3.75" fill="#0000ff"/>
<circle cx="869.2" cy="254.7" r="3.75" fill="#0000ff"/>
<circle cx="871.8" cy="256.0" r="3.75" fill="#0000ff"/>
<circle cx="870.5" cy="251.8" r="3.75" fill="#0000ff"/>
<circle cx="872.3" cy="251.0" r="3.75" fill="#0000ff"/>
<circle cx="872.0" cy="250.5" r="3.75" fill="#0000ff"/>
<circle cx="875.1" cy="250.1" r="3.75" fill="#0000ff"/>
<circle cx="874.9" cy="247.9" r="3.75" fill="#0000ff"/>
<circle cx="873.2" cy="245.2" r="3.75" fill="#0000ff"/>
<circle cx="876.9" cy="244.5" r="3.75" fill="#0000ff"/>
<circle cx="878.8" cy="244.2" r="3.75" fill="#0000ff"/>
<circle cx="873.1" cy="241.3" r="3.75" fill="#0000ff"/>
<circle cx="879.3" cy="242.4" r="3.75" fill="#0000ff"/>
<circle cx="879.4" cy="240.5" r="3.75" fill="#0000ff"/>
<circle cx="879.7" cy="239.3" r="3.75" fill="#0000ff"/>
<circle cx="880.7" cy="237.3" r="3.75" fill="#0000ff"/>
<circle cx="883.2" cy="236.9" r="3.75" fill="#0000ff"/>
<circle cx="883.9" cy="235.6" r="3.75" fill="#0000ff"/>
<circle cx="880.4" cy="231.9" r="3.75" fill="#0000ff"/>
<circle cx="884.4" cy="231.3" r="3.75" fill="#0000ff"/>
<circle cx="879.4" cy="229.3" r="3.75" fill="#0000ff"/>
<circle cx="886.7" cy="229.5" r="3.75" fill="#0000ff"/>
<circle cx="886.2" cy="228.9" r="3.75" fill="#0000ff"/>
<circle cx="884.0" cy="226.3" r="3.75" fill="#0000ff"/>
<circle cx="882.8" cy="222.8" r="3.75" fill="#0000ff"/>
<circle cx="885.2" cy="221.5" r="3.75" fill="#0000ff"/>
<circle cx="884.0" cy="221.4" r="3.75" fill="#0000ff"/>
<circle cx="889.2" cy="220.9" r="3.75" fill="#0000ff"/>
<circle cx="891.1" cy="220.9" r="3.75" fill="#0000ff"/>
<circle cx="890.9" cy="218.7" r="3.75" fill="#0000ff"/>
<circle cx="889.6" cy="216.5" r="3.75" fill="#0000ff"/>
<circle cx="888.1" cy="214.6" r="3.75" fill="#0000ff"/>
<circle cx="891.2" cy="212.9" r="3.75" fill="#0000ff"/>
<circle cx="891.8" cy="212.9" r="3.75" fill="#0000ff"/>
<circle cx="893.6" cy="211.0" r="3.75" fill="#0000ff"/>
<circle cx="894.0" cy="210.4" r="3.75" fill="#0000ff"/>
<circle cx="895.3" cy="209.9" r="3.75" fill="#0000ff"/>
<circle cx="896.3" cy="207.7" r="3.75" fill="#0000ff"/>
<circle cx="899.1" cy="207.6" r="3.75" fill="#0000ff"/>
<circle cx="901.6" cy="208.1" r="3.75" fill="#0000ff"/>
<circle cx="899.2" cy="204.0" r="3.75" fill="#0000ff"/>
<circle cx="901.2" cy="204.4" r="3.75" fill="#0000ff"/>
<circle cx="897.1" cy="199.8" r="3.75" fill="#0000ff"/>
<circle cx="904.3" cy="201.4" r="3.75" fill="#0000ff"/>
<circle cx="905.1" cy="201.2" r="3.75" fill="#0000ff"/>
<circle cx="906.1" cy="200.4" r="3.75" fill="#0000ff"/>
<circle cx="902.4" cy="196.7" r="3.75" fill="#0000ff"/>
<circle cx="903.7" cy="195.5" r="3.75" fill="#0000ff"/>
<circle cx="838.6" cy="336.3" r="3.75" fill="#0000ff"/>
<circle cx="838.5" cy="334.3" r="3.75" fill="#0000ff"/>
<circle cx="839.2" cy="332.2" r="3.75" fill="#0000ff"/>
<circle cx="842.5" cy="332.3" r="3.75" fill="#0000ff"/>
<circle cx="842.4" cy="328.9" r="3.75" fill="#0000ff"/>
<circle cx="841.8" cy="326.9" r="3.75" fill="#0000ff"/>
<circle cx="843.1" cy="324.8" r="3.75" fill="#0000ff"/>
<circle cx="846.2" cy="323.7" r="3.75" fill="#0000ff"/>
<circle cx="845.4" cy="322.5" r="3.75" fill="#0000ff"/>
<circle cx="844.4" cy="319.0" r="3.75" fill="#0000ff"/>
<circle cx="847.6" cy="318.7" r="3.75" fill="#0000ff"/>
<circle cx="847.7" cy="317.4" r="3.75" fill="#0000ff"/>
<circle cx="849.5" cy="314.2" r="3.75" fill="#0000ff"/>
<circle cx="845.6" cy="311.0" r="3.75" fill="#0000ff"/>
<circle cx="849.3" cy="310.4" r="3.75" fill="#0000ff"/>
<circle cx="850.0" cy="309.3" r="3.75" fill="#0000ff"/>
<circle cx="848.9" cy="305.3" r="3.75" fill="#0000ff"/>
<circle cx="852.2" cy="305.5" r="3.75" fill="#0000ff"/>
<circle cx="850.6" cy="303.9" r="3.75" fill="#0000ff"/>
<circle cx="850.3" cy="300.1" r="3.75" fill="#0000ff"/>
<circle cx="855.9" cy="301.0" r="3.75" fill="#0000ff"/>
<circle cx="855.9" cy="298.6" r="3.75" fill="#0000ff"/>
<circle cx="852.4" cy="295.4" r="3.75" fill="#0000ff"/>
<circle cx="856.4" cy="294.6" r="3.75" fill="#0000ff"/>
<circle cx="806.8" cy="347.9" r="3.75" fill="#0000ff"/>
<circle cx="809.5" cy="348.1" r="3.75" fill="#0000ff"/>
<circle cx="811.2" cy="348.6" r="3.75" fill="#0000ff"/>
<circle cx="810.5" cy="343.6" r="3.75" fill="#0000ff"/>
<circle cx="815.9" cy="345.6" r="3.75" fill="#0000ff"/>
<circle cx="812.8" cy="342.6" r="3.75" fill="#0000ff"/>
<circle cx="814.5" cy="342.7" r="3.75" fill="#0000ff"/>
<circle cx="816.0" cy="340.9" r="3.75" fill="#0000ff"/>
<circle cx="818.3" cy="339.8" r="3.75" fill="#0000ff"/>
<circle cx="816.5" cy="336.8" r="3.75" fill="#0000ff"/>
<circle cx="820.5" cy="337.8" r="3.75" fill="#0000ff"/>
<circle cx="819.7" cy="334.3" r="3.75" fill="#0000ff"/>
<circle cx="819.3" cy="333.1" r="3.75" fill="#0000ff"/>
<circle cx="821.3" cy="332.7" r="3.75" fill="#0000ff"/>
<circle cx="823.1" cy="332.4" r="3.75" fill="#0000ff"/>
<circle cx="821.2" cy="329.8" r="3.75" fill="#0000ff"/>
<circle cx="825.6" cy="331.3" r="3.75" fill="#0000ff"/>
<circle cx="827.1" cy="328.7" r="3.75" fill="#0000ff"/>
<circle cx="828.6" cy="327.3" r="3.75" fill="#0000ff"/>
<circle cx="829.3" cy="327.0" r="3.75" fill="#0000ff"/>
<circle cx="827.0" cy="323.3" r="3.75" fill="#0000ff"/>
<circle cx="825.9" cy="321.4" r="3.75" fill="#0000ff"/>
<circle cx="828.1" cy="320.7" r="3.75" fill="#0000ff"/>
<circle cx="832.9" cy="320.5" r="3.75" fill="#0000ff"/>
<circle cx="832.9" cy="319.9" r="3.75" fill="#0000ff"/>
<circle cx="834.1" cy="319.0" r="3.75" fill="#0000ff"/>
<circle cx="832.4" cy="316.6" r="3.75" fill="#0000ff"/>
<circle cx="836.0" cy="315.2" r="3.75" fill="#0000ff"/>
<circle cx="833.7" cy="312.4" r="3.75" fill="#0000ff"/>
<circle cx="833.2" cy="309.9" r="3.75" fill="#0000ff"/>
<circle cx="835.1" cy="309.7" r="3.75" fill="#0000ff"/>
<circle cx="837.1" cy="308.1" r="3.75" fill="#0000ff"/>
<circle cx="836.8" cy="307.0" r="3.75" fill="#0000ff"/>
<circle cx="839.6" cy="306.4" r="3.75" fill="#0000ff"/>
<circle cx="842.6" cy="305.5" r="3.75" fill="#0000ff"/>
<circle cx="839.9" cy="301.8" r="3.75" fill="#0000ff"/>
<circle cx="842.1" cy="301.5" r="3.75" fill="#0000ff"/>
<circle cx="842.7" cy="301.1" r="3.75" fill="#0000ff"/>
<circle cx="845.5" cy="299.1" r="3.75" fill="#0000ff"/>
<circle cx="843.4" cy="297.0" r="3.75" fill="#0000ff"/>
<circle cx="842.7" cy="296.0" r="3.75" fill="#0000ff"/>
<circle cx="842.6" cy="294.1" r="3.75" fill="#0000ff"/>
<circle cx="848.2" cy="293.7" r="3.75" fill="#0000ff"/>
<circle cx="848.1" cy="292.3" r="3.75" fill="#0000ff"/>
<circle cx="848.0" cy="290.3" r="3.75" fill="#0000ff"/>
<circle cx="847.8" cy="289.1" r="3.75" fill="#0000ff"/>
<circle cx="850.5" cy="287.1" r="3.75" fill="#0000ff"/>
<circle cx="852.0" cy="286.7" r="3.75" fill="#0000ff"/>
<circle cx="849.8" cy="284.8" r="3.75" fill="#0000ff"/>
<circle cx="849.7" cy="281.7" r="3.75" fill="#0000ff"/>
<circle cx="854.2" cy="284.0" r="3.75" fill="#0000ff"/>
<circle cx="854.3" cy="281.9" r="3.75" fill="#0000ff"/>
<circle cx="852.9" cy="279.6" r="3.75" fill="#0000ff"/>
<circle cx="854.5" cy="277.7" r="3.75" fill="#0000ff"/>
<circle cx="854.2" cy="276.9" r="3.75" fill="#0000ff"/>
<circle cx="854.2" cy="273.1" r="3.75" fill="#0000ff"/>
<circle cx="858.5" cy="274.3" r="3.75" fill="#0000ff"/>
<circle cx="856.1" cy="271.1" r="3.75" fill="#0000ff"/>
<circle cx="856.1" cy="269.3" r="3.75" fill="#0000ff"/>
<circle cx="855.9" cy="268.3" r="3.75" fill="#0000ff"/>
<circle cx="859.8" cy="267.3" r="3.75" fill="#0000ff"/>
<circle cx="859.8" cy="266.3" r="3.75" fill="#0000ff"/>
<circle cx="859.1" cy="263.6" r="3.75" fill="#0000ff"/>
<circle cx="861.0" cy="262.1" r="3.75" fill="#0000ff"/>
<circle cx="863.9" cy="263.4" r="3.75" fill="#0000ff"/>
<circle cx="863.1" cy="259.5" r="3.75" fill="#0000ff"/>
<circle cx="861.6" cy="258.8" r="3.75" fill="#0000ff"/>
<circle cx="862.7" cy="256.3" r="3.75" fill="#0000ff"/>
<circle cx="863.6" cy="256.2" r="3.75" fill="#0000ff"/>
<circle cx="865.0" cy="253.9" r="3.75" fill="#0000ff"/>
<circle cx="869.5" cy="255.5" r="3.75" fill="#0000ff"/>
<circle cx="871.0" cy="254.6" r="3.75" fill="#0000ff"/>
<circle cx="872.1" cy="253.8" r="3.75" fill="#0000ff"/>
<circle cx="872.2" cy="252.6" r="3.75" fill="#0000ff"/>
<circle cx="873.1" cy="249.4" r="3.75" fill="#0000ff"/>
<circle cx="875.4" cy="249.4" r="3.75" fill="#0000ff"/>
<circle cx="873.8" cy="247.0" r="3.75" fill="#0000ff"/>
<circle cx="874.6" cy="244.8" r="3.75" fill="#0000ff"/>
<circle cx="878.3" cy="245.4" r="3.75" fill="#0000ff"/>
<circle cx="874.7" cy="241.1" r="3.75" fill="#0000ff"/>
<circle cx="877.4" cy="242.6" r="3.75" fill="#0000ff"/>
<circle cx="881.2" cy="242.1" r="3.75" fill="#0000ff"/>
<circle cx="879.7" cy="237.4" r="3.75" fill="#0000ff"/>
<circle cx="880.5" cy="238.3" r="3.75" fill="#0000ff"/>
<circle cx="882.2" cy="236.0" r="3.75" fill="#0000ff"/>
<circle cx="882.6" cy="234.8" r="3.75" fill="#0000ff"/>
<circle cx="882.6" cy="232.9" r="3.75" fill="#0000ff"/>
<circle cx="880.7" cy="230.1" r="3.75" fill="#0000ff"/>
<circle cx="885.3" cy="231.4" r="3.75" fill="#0000ff"/>
<circle cx="884.8" cy="229.6" r="3.75" fill="#0000ff"/>
<circle cx="886.5" cy="226.9" r="3.75" fill="#0000ff"/>
<circle cx="890.0" cy="227.7" r="3.75" fill="#0000ff"/>
<circle cx="890.0" cy="226.6" r="3.75" fill="#0000ff"/>
<circle cx="890.3" cy="223.6" r="3.75" fill="#0000ff"/>
<circle cx="888.8" cy="221.2" r="3.75" fill="#0000ff"/>
<circle cx="890.4" cy="220.4" r="3.75" fill="#0000ff"/>
<circle cx="890.0" cy="219.0" r="3.75" fill="#0000ff"/>
<circle cx="889.9" cy="215.8" r="3.75" fill="#0000ff"/>
<circle cx="893.7" cy="217.2" r="3.75" fill="#0000ff"/>
<circle cx="892.1" cy="213.9" r="3.75" fill="#0000ff"/>
<circle cx="893.9" cy="213.2" r="3.75" fill="#0000ff"/>
<circle cx="890.3" cy="210.9" r="3.75" fill="#0000ff"/>
<circle cx="890.9" cy="208.9" r="3.75" fill="#0000ff"/>
<circle cx="827.1" cy="349.4" r="3.75" fill="#0000ff"/>
<circle cx="828.0" cy="349.7" r="3.75" fill="#0000ff"/>
<circle cx="826.9" cy="345.0" r="3.75" fill="#0000ff"/>
<circle cx="829.9" cy="345.4" r="3.75" fill="#0000ff"/>
<circle cx="830.2" cy="342.4" r="3.75" fill="#0000ff"/>
<circle cx="832.5" cy="341.4" r="3.75" fill="#0000ff"/>
<circle cx="836.1" cy="341.4" r="3.75" fill="#0000ff"/>
<circle cx="835.8" cy="340.1" r="3.75" fill="#0000ff"/>
<circle cx="837.2" cy="336.8" r="3.75" fill="#0000ff"/>
<circle cx="837.9" cy="335.8" r="3.75" fill="#0000ff"/>
<circle cx="838.9" cy="333.3" r="3.75" fill="#0000ff"/>
<circle cx="838.0" cy="332.6" r="3.75" fill="#0000ff"/>
<circle cx="839.7" cy="330.4" r="3.75" fill="#0000ff"/>
<circle cx="839.8" cy="327.4" r="3.75" fill="#0000ff"/>
<circle cx="840.9" cy="325.6" r="3.75" fill="#0000ff"/>
<circle cx="840.8" cy="324.5" r="3.75" fill="#0000ff"/>
<circle cx="842.7" cy="321.3" r="3.75" fill="#0000ff"/>
<circle cx="845.5" cy="321.7" r="3.75" fill="#0000ff"/>
<circle cx="846.4" cy="319.7" r="3.75" fill="#0000ff"/>
<circle cx="847.0" cy="316.6" r="3.75" fill="#0000ff"/>
<circle cx="847.0" cy="315.5" r="3.75" fill="#0000ff"/>
<circle cx="848.9" cy="315.1" r="3.75" fill="#0000ff"/>
<circle cx="848.2" cy="311.9" r="3.75" fill="#0000ff"/>
<circle cx="851.1" cy="311.0" r="3.75" fill="#0000ff"/>
<circle cx="850.7" cy="307.6" r="3.75" fill="#0000ff"/>
<circle cx="852.0" cy="306.5" r="3.75" fill="#0000ff"/>
<circle cx="852.2" cy="303.6" r="3.75" fill="#0000ff"/>
<circle cx="852.2" cy="301.7" r="3.75" fill="#0000ff"/>
<circle cx="853.0" cy="300.2" r="3.75" fill="#0000ff"/>
<circle cx="854.5" cy="298.0" r="3.75" fill="#0000ff"/>
<circle cx="859.0" cy="299.1" r="3.75" fill="#0000ff"/>
<circle cx="855.4" cy="293.8" r="3.75" fill="#0000ff"/>
<circle cx="858.9" cy="294.0" r="3.75" fill="#0000ff"/>
<circle cx="859.7" cy="293.1" r="3.75" fill="#0000ff"/>
<circle cx="860.2" cy="289.7" r="3.75" fill="#0000ff"/>
<circle cx="862.6" cy="287.9" r="3.75" fill="#0000ff"/>
<circle cx="859.9" cy="285.4" r="3.75" fill="#0000ff"/>
<circle cx="860.5" cy="283.9" r="3.75" fill="#0000ff"/>
<circle cx="865.5" cy="284.1" r="3.75" fill="#0000ff"/>
<circle cx="911.0" cy="205.5" r="3.75" fill="#00b2ff"/>
<circle cx="909.3" cy="209.6" r="3.75" fill="#00b2ff"/>
<circle cx="907.1" cy="213.4" r="3.75" fill="#00b2ff"/>
<circle cx="905.6" cy="217.9" r="3.75" fill="#00b2ff"/>
<circle cx="901.5" cy="222.7" r="3.75" fill="#00b2ff"/>
<circle cx="900.2" cy="225.6" r="3.75" fill="#00b2ff"/>
<circle cx="896.8" cy="230.8" r="3.75" fill="#00b2ff"/>
<circle cx="895.2" cy="234.1" r="3.75" fill="#00b2ff"/>
<circle cx="895.7" cy="240.1" r="3.75" fill="#00beff"/>
<circle cx="893.8" cy="245.8" r="3.75" fill="#00beff"/>
<circle cx="895.4" cy="245.2" r="3.75" fill="#00beff"/>
<circle cx="892.1" cy="248.1" r="3.75" fill="#00beff"/>
<circle cx="892.3" cy="252.5" r="3.75" fill="#00beff"/>
<circle cx="889.0" cy="255.4" r="3.75" fill="#00beff"/>
<circle cx="888.7" cy="257.0" r="3.75" fill="#00beff"/>
<circle cx="887.1" cy="260.2" r="3.75" fill="#00beff"/>
<circle cx="889.1" cy="263.5" r="3.75" fill="#00beff"/>
<circle cx="886.1" cy="263.5" r="3.75" fill="#00beff"/>
<circle cx="886.2" cy="272.3" r="3.75" fill="#00c9ff"/>
<circle cx="887.2" cy="274.4" r="3.75" fill="#00ccff"/>
<circle cx="886.6" cy="276.5" r="3.75" fill="#00d0ff"/>
<circle cx="883.4" cy="278.8" r="3.75" fill="#00d3ff"/>
<circle cx="882.6" cy="280.6" r="3.75" fill="#00d8ff"/>
<circle cx="880.3" cy="281.1" r="3.75" fill="#00deff"/>
<circle cx="879.5" cy="285.5" r="3.75" fill="#00e1ff"/>
<circle cx="881.5" cy="288.9" r="3.75" fill="#00e3ff"/>
<circle cx="881.3" cy="290.4" r="3.75" fill="#00e6ff"/>
<circle cx="879.5" cy="292.2" r="3.75" fill="#00e8ff"/>
<circle cx="881.8" cy="298.0" r="3.75" fill="#00ebff"/>
<circle cx="865.5" cy="306.0" r="3.75" fill="#00ebff"/>
<circle cx="874.2" cy="315.1" r="3.75" fill="#00ebff"/>
<circle cx="884.0" cy="312.3" r="3.75" fill="#00ebff"/>
<circle cx="875.6" cy="314.4" r="3.75" fill="#00ebff"/>
<circle cx="861.0" cy="328.6" r="3.75" fill="#00f6ff"/>
<circle cx="864.9" cy="328.6" r="3.75" fill="#00f6ff"/>
<circle cx="864.9" cy="329.7" r="3.75" fill="#00f6ff"/>
<circle cx="869.9" cy="327.9" r="3.75" fill="#00f6ff"/>
<circle cx="870.5" cy="328.8" r="3.75" fill="#00f6ff"/>
<circle cx="876.5" cy="333.9" r="3.75" fill="#00f6ff"/>
<circle cx="875.7" cy="330.0" r="3.75" fill="#00f6ff"/>
<circle cx="870.9" cy="334.3" r="3.75" fill="#00f6ff"/>
<circle cx="874.0" cy="334.2" r="3.75" fill="#00f6ff"/>
<circle cx="868.7" cy="340.1" r="3.75" fill="#00f6ff"/>
<circle cx="849.9" cy="351.6" r="3.75" fill="#00beff"/>
<circle cx="851.2" cy="347.9" r="3.75" fill="#00c3ff"/>
<circle cx="853.0" cy="348.0" r="3.75" fill="#00c8ff"/>
<circle cx="855.2" cy="348.4" r="3.75" fill="#00ceff"/>
<circle cx="857.9" cy="346.1" r="3.75" fill="#00d3ff"/>
<circle cx="860.3" cy="346.8" r="3.75" fill="#00d8ff"/>
<circle cx="865.0" cy="348.0" r="3.75" fill="#00ddff"/>
<circle cx="864.6" cy="346.2" r="3.75" fill="#00e2ff"/>
<circle cx="867.9" cy="344.3" r="3.75" fill="#00e7ff"/>
<circle cx="870.0" cy="343.0" r="3.75" fill="#00ebff"/>
<circle cx="870.8" cy="340.6" r="3.75" fill="#00edff"/>
<circle cx="874.6" cy="338.8" r="3.75" fill="#00efff"/>
<circle cx="877.1" cy="339.4" r="3.75" fill="#00f1ff"/>
<circle cx="877.8" cy="338.2" r="3.75" fill="#00f3ff"/>
<circle cx="882.1" cy="335.1" r="3.75" fill="#00f5ff"/>
<circle cx="883.3" cy="336.2" r="3.75" fill="#00f6ff"/>
<circle cx="886.9" cy="334.8" r="3.75" fill="#00f6ff"/>
<circle cx="887.3" cy="338.0" r="3.75" fill="#00f6ff"/>
<circle cx="892.2" cy="338.8" r="3.75" fill="#00f6ff"/>
<circle cx="919.1" cy="210.0" r="3.75" fill="#0047ff"/>
<circle cx="919.1" cy="220.5" r="3.75" fill="#0047ff"/>
<circle cx="916.3" cy="225.7" r="3.75" fill="#0047ff"/>
<circle cx="908.5" cy="247.4" r="3.75" fill="#0047ff"/>
<circle cx="911.3" cy="260.8" r="3.75" fill="#0047ff"/>
<circle cx="913.4" cy="262.4" r="3.75" fill="#0047ff"/>
<circle cx="910.2" cy="265.5" r="3.75" fill="#0047ff"/>
<circle cx="909.0" cy="267.3" r="3.75" fill="#0047ff"/>
<circle cx="911.8" cy="270.1" r="3.75" fill="#0047ff"/>
<circle cx="910.1" cy="274.5" r="3.75" fill="#0047ff"/>
<circle cx="910.1" cy="277.4" r="3.75" fill="#0047ff"/>
<circle cx="911.8" cy="278.9" r="3.75" fill="#0047ff"/>
<circle cx="910.8" cy="281.2" r="3.75" fill="#0047ff"/>
<circle cx="910.9" cy="285.5" r="3.75" fill="#0047ff"/>
<circle cx="909.0" cy="287.9" r="3.75" fill="#0047ff"/>
<circle cx="911.8" cy="291.1" r="3.75" fill="#0047ff"/>
<circle cx="910.0" cy="294.3" r="3.75" fill="#0047ff"/>
<circle cx="908.6" cy="295.4" r="3.75" fill="#0047ff"/>
<circle cx="909.2" cy="298.6" r="3.75" fill="#0047ff"/>
<circle cx="907.4" cy="302.7" r="3.75" fill="#0047ff"/>
<circle cx="907.9" cy="305.6" r="3.75" fill="#0047ff"/>
<circle cx="906.6" cy="307.5" r="3.75" fill="#0047ff"/>
<circle cx="905.0" cy="309.4" r="3.75" fill="#0047ff"/>
<circle cx="905.6" cy="312.8" r="3.75" fill="#0047ff"/>
<circle cx="904.2" cy="316.3" r="3.75" fill="#0047ff"/>
<circle cx="904.4" cy="317.9" r="3.75" fill="#0047ff"/>
<circle cx="902.6" cy="320.2" r="3.75" fill="#0047ff"/>
<circle cx="904.5" cy="323.5" r="3.75" fill="#0047ff"/>
<circle cx="904.1" cy="326.5" r="3.75" fill="#0047ff"/>
<circle cx="902.5" cy="327.3" r="3.75" fill="#0047ff"/>
<circle cx="898.6" cy="329.7" r="3.75" fill="#0047ff"/>
<circle cx="897.1" cy="345.6" r="3.75" fill="#003bff"/>
<circle cx="742.1" cy="303.9" r="3.75" fill="#0000f9"/>
<circle cx="745.3" cy="297.9" r="3.75" fill="#0000f9"/>
<circle cx="749.2" cy="291.6" r="3.75" fill="#0000f9"/>
<circle cx="752.7" cy="285.9" r="3.75" fill="#0000f9"/>
<circle cx="757.1" cy="279.6" r="3.75" fill="#0000f9"/>
<circle cx="761.0" cy="274.1" r="3.75" fill="#0000f9"/>
<circle cx="765.0" cy="267.7" r="3.75" fill="#0000f9"/>
<circle cx="770.1" cy="261.1" r="3.75" fill="#0000f9"/>
<circle cx="770.4" cy="257.3" r="3.75" fill="#0000f9"/>
<circle cx="774.2" cy="254.7" r="3.75" fill="#0000f9"/>
<circle cx="776.0" cy="251.5" r="3.75" fill="#0000f9"/>
<circle cx="781.9" cy="247.8" r="3.75" fill="#0000f9"/>
<circle cx="789.6" cy="240.1" r="3.75" fill="#0000f9"/>
<circle cx="796.4" cy="224.9" r="3.75" fill="#0000f9"/>
<circle cx="801.5" cy="219.8" r="3.75" fill="#0000f9"/>
<circle cx="806.5" cy="214.2" r="3.75" fill="#0000f9"/>
<circle cx="811.7" cy="208.3" r="3.75" fill="#0000f9"/>
<circle cx="816.1" cy="203.1" r="3.75" fill="#0000f9"/>
<circle cx="820.7" cy="197.1" r="3.75" fill="#0000f9"/>
<circle cx="820.9" cy="197.3" r="3.75" fill="#0000f9"/>
<circle cx="827.0" cy="192.5" r="3.75" fill="#0000f9"/>
<circle cx="832.5" cy="187.3" r="3.75" fill="#0000f9"/>
<circle cx="837.6" cy="181.8" r="3.75" fill="#0000f9"/>
<circle cx="753.9" cy="319.3" r="3.75" fill="#0008ff"/>
<circle cx="754.1" cy="308.8" r="3.75" fill="#0014ff"/>
<circle cx="755.7" cy="305.0" r="3.75" fill="#0014ff"/>
<circle cx="757.2" cy="303.1" r="3.75" fill="#0014ff"/>
<circle cx="758.3" cy="298.4" r="3.75" fill="#0014ff"/>
<circle cx="761.6" cy="298.3" r="3.75" fill="#0014ff"/>
<circle cx="763.1" cy="297.8" r="3.75" fill="#0014ff"/>
<circle cx="763.5" cy="293.7" r="3.75" fill="#0014ff"/>
<circle cx="762.3" cy="289.8" r="3.75" fill="#0014ff"/>
<circle cx="765.3" cy="290.0" r="3.75" fill="#0014ff"/>
<circle cx="768.5" cy="286.8" r="3.75" fill="#0014ff"/>
<circle cx="769.7" cy="284.8" r="3.75" fill="#0014ff"/>
<circle cx="772.6" cy="282.3" r="3.75" fill="#0014ff"/>
<circle cx="774.7" cy="278.8" r="3.75" fill="#0014ff"/>
<circle cx="779.1" cy="273.8" r="3.75" fill="#0014ff"/>
<circle cx="786.8" cy="265.3" r="3.75" fill="#0014ff"/>
<circle cx="791.7" cy="256.2" r="3.75" fill="#0014ff"/>
<circle cx="794.8" cy="249.9" r="3.75" fill="#001fff"/>
<circle cx="795.3" cy="248.8" r="3.75" fill="#001fff"/>
<circle cx="796.4" cy="246.8" r="3.75" fill="#001fff"/>
<circle cx="796.1" cy="242.3" r="3.75" fill="#001fff"/>
<circle cx="798.2" cy="242.2" r="3.75" fill="#001fff"/>
<circle cx="799.4" cy="239.3" r="3.75" fill="#001fff"/>
<circle cx="801.2" cy="237.7" r="3.75" fill="#001fff"/>
<circle cx="804.6" cy="237.9" r="3.75" fill="#001fff"/>
<circle cx="806.8" cy="237.4" r="3.75" fill="#001fff"/>
<circle cx="809.9" cy="238.3" r="3.75" fill="#001fff"/>
<circle cx="811.5" cy="239.3" r="3.75" fill="#001fff"/>
<circle cx="813.8" cy="239.7" r="3.75" fill="#001fff"/>
<circle cx="814.9" cy="237.1" r="3.75" fill="#001fff"/>
<circle cx="822.2" cy="229.2" r="3.75" fill="#0025ff"/>
<circle cx="825.1" cy="225.4" r="3.75" fill="#0025ff"/>
<circle cx="825.8" cy="223.9" r="3.75" fill="#0025ff"/>
<circle cx="828.3" cy="220.7" r="3.75" fill="#0025ff"/>
<circle cx="829.7" cy="217.6" r="3.75" fill="#0025ff"/>
<circle cx="831.1" cy="216.5" r="3.75" fill="#0025ff"/>
<circle cx="833.6" cy="213.4" r="3.75" fill="#0025ff"/>
<circle cx="835.2" cy="213.2" r="3.75" fill="#0025ff"/>
<circle cx="836.3" cy="208.7" r="3.75" fill="#0025ff"/>
<circle cx="839.5" cy="206.2" r="3.75" fill="#0025ff"/>
<circle cx="840.0" cy="205.0" r="3.75" fill="#0025ff"/>
<circle cx="843.7" cy="202.9" r="3.75" fill="#0025ff"/>
<circle cx="844.9" cy="200.5" r="3.75" fill="#0025ff"/>
<circle cx="846.4" cy="198.4" r="3.75" fill="#0025ff"/>
<circle cx="846.2" cy="197.0" r="3.75" fill="#0025ff"/>
<circle cx="850.0" cy="194.9" r="3.75" fill="#0025ff"/>
<circle cx="851.3" cy="192.6" r="3.75" fill="#0025ff"/>
<circle cx="854.4" cy="191.0" r="3.75" fill="#0025ff"/>
<circle cx="856.9" cy="190.4" r="3.75" fill="#0025ff"/>
<circle cx="860.4" cy="188.3" r="3.75" fill="#0025ff"/>
<circle cx="861.6" cy="185.3" r="3.75" fill="#0025ff"/>
<circle cx="742.0" cy="331.9" r="3.75" fill="#0000ef"/>
<circle cx="748.3" cy="331.2" r="3.75" fill="#0000ef"/>
<circle cx="743.4" cy="337.5" r="3.75" fill="#0000ef"/>
<circle cx="766.5" cy="333.6" r="3.75" fill="#000070"/>
<circle cx="776.3" cy="336.8" r="3.75" fill="#000070"/>
<circle cx="758.5" cy="343.8" r="3.75" fill="#000070"/>
<circle cx="787.5" cy="347.3" r="3.75" fill="#000070"/>
<circle cx="739.4" cy="304.1" r="3.75" fill="#0000f9"/>
<circle cx="735.1" cy="308.2" r="3.75" fill="#0000f9"/>
<circle cx="733.2" cy="312.5" r="3.75" fill="#0000f9"/>
<circle cx="731.4" cy="316.7" r="3.75" fill="#0000f9"/>
<circle cx="729.3" cy="320.9" r="3.75" fill="#0000f9"/>
<circle cx="724.0" cy="325.0" r="3.75" fill="#0000f9"/>
<circle cx="722.4" cy="328.0" r="3.75" fill="#0000f9"/>
<circle cx="718.1" cy="331.6" r="3.75" fill="#0000f9"/>
<circle cx="714.1" cy="334.4" r="3.75" fill="#0000f9"/>
<circle cx="713.8" cy="343.6" r="3.75" fill="#0000f9"/>
<circle cx="747.7" cy="331.2" r="3.75" fill="#0008ff"/>
<circle cx="746.1" cy="331.4" r="3.75" fill="#0008ff"/>
<circle cx="742.3" cy="333.8" r="3.75" fill="#0008ff"/>
<circle cx="742.5" cy="337.5" r="3.75" fill="#0008ff"/>
<circle cx="740.0" cy="339.2" r="3.75" fill="#0008ff"/>
<circle cx="737.2" cy="341.3" r="3.75" fill="#0008ff"/>
<circle cx="735.6" cy="342.9" r="3.75" fill="#0008ff"/>
<circle cx="733.6" cy="345.6" r="3.75" fill="#0008ff"/>
<circle cx="731.0" cy="349.2" r="3.75" fill="#0008ff"/>
<circle cx="828.9" cy="380.9" r="3.75" fill="#00a7ff"/>
<circle cx="821.9" cy="388.9" r="3.75" fill="#00a7ff"/>
<circle cx="813.4" cy="403.6" r="3.75" fill="#00a7ff"/>
<circle cx="809.2" cy="409.9" r="3.75" fill="#00a7ff"/>
<circle cx="799.4" cy="425.4" r="3.75" fill="#00a7ff"/>
<circle cx="786.8" cy="429.6" r="3.75" fill="#00a7ff"/>
<circle cx="793.1" cy="442.2" r="3.75" fill="#00a7ff"/>
<circle cx="766.5" cy="463.2" r="3.75" fill="#00a7ff"/>
<circle cx="781.2" cy="461.1" r="3.75" fill="#00a7ff"/>
<circle cx="765.8" cy="470.9" r="3.75" fill="#00a7ff"/>
<circle cx="772.8" cy="480.7" r="3.75" fill="#00a7ff"/>
<circle cx="765.1" cy="501.7" r="3.75" fill="#00a7ff"/>
<circle cx="784.0" cy="431.7" r="3.75" fill="#00a7ff"/>
<circle cx="797.3" cy="427.5" r="3.75" fill="#00a7ff"/>
<circle cx="817.6" cy="349.6" r="3.75" fill="#0000dc"/>
<circle cx="818.5" cy="351.7" r="3.75" fill="#0000dc"/>
<circle cx="814.5" cy="350.8" r="3.75" fill="#0000dc"/>
<circle cx="814.9" cy="354.0" r="3.75" fill="#0000dc"/>
<circle cx="813.1" cy="354.6" r="3.75" fill="#0000dc"/>
<circle cx="809.6" cy="353.6" r="3.75" fill="#0000dc"/>
<circle cx="811.1" cy="357.3" r="3.75" fill="#0000dc"/>
<circle cx="809.0" cy="358.3" r="3.75" fill="#0000dc"/>
<circle cx="805.7" cy="358.0" r="3.75" fill="#0000dc"/>
<circle cx="805.6" cy="360.3" r="3.75" fill="#0000dc"/>
<circle cx="805.5" cy="361.6" r="3.75" fill="#0000dc"/>
<circle cx="801.2" cy="361.2" r="3.75" fill="#0000dc"/>
<circle cx="799.1" cy="362.9" r="3.75" fill="#0000dc"/>
<circle cx="801.8" cy="367.3" r="3.75" fill="#0000dc"/>
<circle cx="798.9" cy="367.2" r="3.75" fill="#0000dc"/>
<circle cx="796.6" cy="367.1" r="3.75" fill="#0000dc"/>
<circle cx="795.1" cy="368.0" r="3.75" fill="#0000dc"/>
<circle cx="793.0" cy="370.4" r="3.75" fill="#0000dc"/>
<circle cx="795.7" cy="372.5" r="3.75" fill="#0000dc"/>
<circle cx="791.9" cy="372.8" r="3.75" fill="#0000dc"/>
<circle cx="791.0" cy="372.4" r="3.75" fill="#0000dc"/>
<circle cx="791.2" cy="377.6" r="3.75" fill="#0000dc"/>
<circle cx="791.1" cy="378.0" r="3.75" fill="#0000dc"/>
<circle cx="789.5" cy="379.8" r="3.75" fill="#0000dc"/>
<circle cx="787.1" cy="381.7" r="3.75" fill="#0000dc"/>
<circle cx="785.8" cy="380.2" r="3.75" fill="#0000dc"/>
<circle cx="788.2" cy="384.4" r="3.75" fill="#0000dc"/>
<circle cx="783.1" cy="383.0" r="3.75" fill="#0000dc"/>
<circle cx="782.0" cy="384.6" r="3.75" fill="#0000dc"/>
<circle cx="782.5" cy="389.4" r="3.75" fill="#0000dc"/>
<circle cx="778.0" cy="387.4" r="3.75" fill="#0000dc"/>
<circle cx="783.2" cy="392.2" r="3.75" fill="#0000dc"/>
<circle cx="778.8" cy="393.7" r="3.75" fill="#0000dc"/>
<circle cx="777.0" cy="392.4" r="3.75" fill="#0000dc"/>
<circle cx="775.0" cy="394.2" r="3.75" fill="#0000dc"/>
<circle cx="775.2" cy="397.6" r="3.75" fill="#0000dc"/>
<circle cx="773.8" cy="398.0" r="3.75" fill="#0000dc"/>
<circle cx="770.3" cy="398.8" r="3.75" fill="#0000dc"/>
<circle cx="773.0" cy="402.4" r="3.75" fill="#0000dc"/>
<circle cx="769.3" cy="401.0" r="3.75" fill="#0000dc"/>
<circle cx="770.4" cy="404.8" r="3.75" fill="#0000dc"/>
<circle cx="768.9" cy="404.6" r="3.75" fill="#0000dc"/>
<circle cx="768.6" cy="408.0" r="3.75" fill="#0000dc"/>
<circle cx="762.5" cy="406.2" r="3.75" fill="#0000dc"/>
<circle cx="762.3" cy="407.9" r="3.75" fill="#0000dc"/>
<circle cx="762.7" cy="409.1" r="3.75" fill="#0000dc"/>
<circle cx="759.5" cy="411.4" r="3.75" fill="#0000dc"/>
<circle cx="761.9" cy="415.4" r="3.75" fill="#0000dc"/>
<circle cx="760.6" cy="414.4" r="3.75" fill="#0000dc"/>
<circle cx="756.9" cy="414.3" r="3.75" fill="#0000dc"/>
<circle cx="760.6" cy="418.8" r="3.75" fill="#0000dc"/>
<circle cx="755.6" cy="418.8" r="3.75" fill="#0000dc"/>
<circle cx="752.8" cy="419.8" r="3.75" fill="#0000dc"/>
<circle cx="753.9" cy="420.6" r="3.75" fill="#0000dc"/>
<circle cx="754.2" cy="423.2" r="3.75" fill="#0000dc"/>
<circle cx="754.2" cy="427.0" r="3.75" fill="#0000dc"/>
<circle cx="749.3" cy="426.5" r="3.75" fill="#0000dc"/>
<circle cx="749.0" cy="427.5" r="3.75" fill="#0000dc"/>
<circle cx="749.8" cy="430.8" r="3.75" fill="#0000dc"/>
<circle cx="744.8" cy="429.4" r="3.75" fill="#0000dc"/>
<circle cx="746.6" cy="431.1" r="3.75" fill="#0000dc"/>
<circle cx="748.2" cy="435.6" r="3.75" fill="#0000dc"/>
<circle cx="741.7" cy="434.2" r="3.75" fill="#0000dc"/>
<circle cx="745.9" cy="438.0" r="3.75" fill="#0000dc"/>
<circle cx="743.8" cy="438.5" r="3.75" fill="#0000dc"/>
<circle cx="744.4" cy="440.7" r="3.75" fill="#0000dc"/>
<circle cx="830.4" cy="349.0" r="3.75" fill="#0000f9"/>
<circle cx="829.9" cy="349.5" r="3.75" fill="#0000f9"/>
<circle cx="830.6" cy="352.8" r="3.75" fill="#0000f9"/>
<circle cx="827.7" cy="355.8" r="3.75" fill="#0000f9"/>
<circle cx="828.5" cy="357.2" r="3.75" fill="#0000f9"/>
<circle cx="824.0" cy="357.8" r="3.75" fill="#0000f9"/>
<circle cx="822.1" cy="361.0" r="3.75" fill="#0000f9"/>
<circle cx="824.7" cy="363.3" r="3.75" fill="#0000f9"/>
<circle cx="822.0" cy="365.0" r="3.75" fill="#0000f9"/>
<circle cx="821.1" cy="367.8" r="3.75" fill="#0000f9"/>
<circle cx="821.1" cy="368.7" r="3.75" fill="#0000f9"/>
<circle cx="819.7" cy="372.4" r="3.75" fill="#0000f9"/>
<circle cx="819.3" cy="373.5" r="3.75" fill="#0000f9"/>
<circle cx="818.5" cy="377.0" r="3.75" fill="#0000f9"/>
<circle cx="814.1" cy="379.0" r="3.75" fill="#0000f9"/>
<circle cx="816.7" cy="381.8" r="3.75" fill="#0000f9"/>
<circle cx="816.2" cy="385.3" r="3.75" fill="#0000f9"/>
<circle cx="814.2" cy="386.4" r="3.75" fill="#0000f9"/>
<circle cx="811.8" cy="388.5" r="3.75" fill="#0000f9"/>
<circle cx="810.2" cy="389.1" r="3.75" fill="#0000f9"/>
<circle cx="812.2" cy="393.1" r="3.75" fill="#0000f9"/>
<circle cx="809.2" cy="393.8" r="3.75" fill="#0000f9"/>
<circle cx="809.8" cy="398.0" r="3.75" fill="#0000f9"/>
<circle cx="806.3" cy="398.5" r="3.75" fill="#0000f9"/>
<circle cx="804.2" cy="397.6" r="3.75" fill="#0000f9"/>
<circle cx="802.5" cy="398.5" r="3.75" fill="#0000f9"/>
<circle cx="800.7" cy="404.2" r="3.75" fill="#0000f9"/>
<circle cx="798.1" cy="405.2" r="3.75" fill="#0000f9"/>
<circle cx="798.1" cy="407.0" r="3.75" fill="#0000f9"/>
<circle cx="797.2" cy="409.8" r="3.75" fill="#0000f9"/>
<circle cx="795.1" cy="412.2" r="3.75" fill="#0000f9"/>
<circle cx="793.5" cy="414.3" r="3.75" fill="#0000f9"/>
<circle cx="796.9" cy="415.4" r="3.75" fill="#0000f9"/>
<circle cx="793.6" cy="418.1" r="3.75" fill="#0000f9"/>
<circle cx="793.2" cy="419.5" r="3.75" fill="#0000f9"/>
<circle cx="791.5" cy="423.0" r="3.75" fill="#0000f9"/>
<circle cx="789.8" cy="424.9" r="3.75" fill="#0000f9"/>
<circle cx="790.4" cy="427.5" r="3.75" fill="#0000f9"/>
<circle cx="791.0" cy="427.8" r="3.75" fill="#0000f9"/>
<circle cx="787.5" cy="431.4" r="3.75" fill="#0000f9"/>
<circle cx="788.3" cy="433.3" r="3.75" fill="#0000f9"/>
<circle cx="787.2" cy="434.6" r="3.75" fill="#0000f9"/>
<circle cx="786.2" cy="438.2" r="3.75" fill="#0000f9"/>
<circle cx="787.4" cy="439.6" r="3.75" fill="#0000f9"/>
<circle cx="784.9" cy="444.2" r="3.75" fill="#0000f9"/>
<circle cx="785.3" cy="445.2" r="3.75" fill="#0000f9"/>
<circle cx="782.3" cy="447.9" r="3.75" fill="#0000f9"/>
<circle cx="778.3" cy="448.1" r="3.75" fill="#0000f9"/>
<circle cx="777.5" cy="449.2" r="3.75" fill="#0000f9"/>
<circle cx="778.5" cy="451.5" r="3.75" fill="#0000f9"/>
<circle cx="777.7" cy="455.8" r="3.75" fill="#0000f9"/>
<circle cx="776.8" cy="457.6" r="3.75" fill="#0000f9"/>
<circle cx="775.8" cy="459.0" r="3.75" fill="#0000f9"/>
<circle cx="773.9" cy="461.2" r="3.75" fill="#0000f9"/>
<circle cx="772.5" cy="464.0" r="3.75" fill="#0000f9"/>
<circle cx="773.0" cy="464.1" r="3.75" fill="#0000f9"/>
<circle cx="769.9" cy="467.0" r="3.75" fill="#0000f9"/>
<circle cx="768.5" cy="469.2" r="3.75" fill="#0000f9"/>
<circle cx="767.0" cy="472.9" r="3.75" fill="#0000f9"/>
<circle cx="767.2" cy="474.2" r="3.75" fill="#0000f9"/>
<circle cx="765.5" cy="475.7" r="3.75" fill="#0000f9"/>
<circle cx="761.7" cy="476.6" r="3.75" fill="#0000f9"/>
<circle cx="760.8" cy="479.0" r="3.75" fill="#0000f9"/>
<circle cx="762.1" cy="481.9" r="3.75" fill="#0000f9"/>
<circle cx="758.8" cy="483.7" r="3.75" fill="#0000f9"/>
<circle cx="756.5" cy="483.6" r="3.75" fill="#0000f9"/>
<circle cx="754.5" cy="487.2" r="3.75" fill="#0000f9"/>
<circle cx="754.7" cy="489.1" r="3.75" fill="#0000f9"/>
<circle cx="754.0" cy="489.9" r="3.75" fill="#0000f9"/>
<circle cx="750.9" cy="492.5" r="3.75" fill="#0000f9"/>
<circle cx="752.9" cy="496.1" r="3.75" fill="#0000f9"/>
<circle cx="749.2" cy="496.6" r="3.75" fill="#0000f9"/>
<circle cx="751.5" cy="500.8" r="3.75" fill="#0000f9"/>
<circle cx="802.2" cy="417.6" r="3.75" fill="#0000f9"/>
<circle cx="790.3" cy="351.1" r="3.75" fill="#000070"/>
<circle cx="803.6" cy="363.0" r="3.75" fill="#000070"/>
<circle cx="805.7" cy="374.2" r="3.75" fill="#000070"/>
<circle cx="806.4" cy="390.7" r="3.75" fill="#000070"/>
<circle cx="817.0" cy="399.7" r="3.75" fill="#000070"/>
<circle cx="809.2" cy="405.0" r="3.75" fill="#000070"/>
<circle cx="808.5" cy="437.3" r="3.75" fill="#000070"/>
<circle cx="796.6" cy="462.5" r="3.75" fill="#000070"/>
<circle cx="812.0" cy="462.5" r="3.75" fill="#000070"/>
<circle cx="822.6" cy="463.2" r="3.75" fill="#000070"/>
<circle cx="828.2" cy="463.2" r="3.75" fill="#000070"/>
<circle cx="820.5" cy="467.4" r="3.75" fill="#000070"/>
<circle cx="827.5" cy="467.8" r="3.75" fill="#000070"/>
<circle cx="853.1" cy="465.7" r="3.75" fill="#000070"/>
<circle cx="784.0" cy="468.1" r="3.75" fill="#000070"/>
<circle cx="781.9" cy="472.3" r="3.75" fill="#000070"/>
<circle cx="784.0" cy="475.1" r="3.75" fill="#000070"/>
<circle cx="780.5" cy="478.6" r="3.75" fill="#000070"/>
<circle cx="765.1" cy="487.7" r="3.75" fill="#000070"/>
<circle cx="776.6" cy="490.5" r="3.75" fill="#000070"/>
<circle cx="816.7" cy="490.1" r="3.75" fill="#000070"/>
<circle cx="822.8" cy="496.8" r="3.75" fill="#000070"/>
<circle cx="824.7" cy="501.0" r="3.75" fill="#000070"/>
<circle cx="781.9" cy="501.7" r="3.75" fill="#000070"/>
<circle cx="841.1" cy="360.4" r="3.75" fill="#00beff"/>
<circle cx="846.4" cy="360.1" r="3.75" fill="#00beff"/>
<circle cx="849.7" cy="357.0" r="3.75" fill="#00beff"/>
<circle cx="850.4" cy="357.8" r="3.75" fill="#00beff"/>
<circle cx="854.9" cy="355.6" r="3.75" fill="#00beff"/>
<circle cx="855.1" cy="350.6" r="3.75" fill="#00beff"/>
<circle cx="860.6" cy="352.8" r="3.75" fill="#00beff"/>
<circle cx="861.1" cy="349.8" r="3.75" fill="#00beff"/>
<circle cx="866.2" cy="352.1" r="3.75" fill="#00beff"/>
<circle cx="870.5" cy="354.9" r="3.75" fill="#36ffc9"/>
<circle cx="871.5" cy="356.9" r="3.75" fill="#36ffc9"/>
<circle cx="874.6" cy="360.7" r="3.75" fill="#36ffc9"/>
<circle cx="876.9" cy="361.0" r="3.75" fill="#36ffc9"/>
<circle cx="876.3" cy="366.5" r="3.75" fill="#36ffc9"/>
<circle cx="874.4" cy="368.4" r="3.75" fill="#36ffc9"/>
<circle cx="872.8" cy="370.7" r="3.75" fill="#36ffc9"/>
<circle cx="872.7" cy="376.6" r="3.75" fill="#36ffc9"/>
<circle cx="875.2" cy="378.8" r="3.75" fill="#36ffc9"/>
<circle cx="878.0" cy="381.1" r="3.75" fill="#36ffc9"/>
<circle cx="876.8" cy="384.3" r="3.75" fill="#36ffc9"/>
<circle cx="878.3" cy="386.3" r="3.75" fill="#36ffc9"/>
<circle cx="880.6" cy="391.6" r="3.75" fill="#36ffc9"/>
<circle cx="879.0" cy="394.8" r="3.75" fill="#36ffc9"/>
<circle cx="883.9" cy="395.0" r="3.75" fill="#36ffc9"/>
<circle cx="876.5" cy="409.2" r="3.75" fill="#57ffa7"/>
<circle cx="883.5" cy="419.0" r="3.75" fill="#57ffa7"/>
<circle cx="879.3" cy="405.0" r="3.75" fill="#0063ff"/>
<circle cx="879.3" cy="427.5" r="3.75" fill="#0063ff"/>
<circle cx="880.7" cy="433.8" r="3.75" fill="#0063ff"/>
<circle cx="871.6" cy="461.1" r="3.75" fill="#0063ff"/>
<circle cx="859.7" cy="491.9" r="3.75" fill="#0063ff"/>
<circle cx="843.0" cy="358.1" r="3.75" fill="#00b2ff"/>
<circle cx="847.4" cy="357.6" r="3.75" fill="#00b2ff"/>
<circle cx="847.7" cy="362.6" r="3.75" fill="#00b2ff"/>
<circle cx="848.4" cy="358.2" r="3.75" fill="#00b2ff"/>
<circle cx="851.8" cy="355.9" r="3.75" fill="#00b2ff"/>
<circle cx="850.9" cy="352.3" r="3.75" fill="#00b2ff"/>
<circle cx="856.2" cy="354.8" r="3.75" fill="#00b2ff"/>
<circle cx="858.3" cy="351.5" r="3.75" fill="#00b2ff"/>
<circle cx="863.1" cy="356.2" r="3.75" fill="#00b2ff"/>
<circle cx="863.1" cy="353.2" r="3.75" fill="#00b2ff"/>
<circle cx="867.6" cy="350.3" r="3.75" fill="#00b2ff"/>
<circle cx="868.5" cy="347.7" r="3.75" fill="#00b2ff"/>
<circle cx="872.9" cy="352.8" r="3.75" fill="#36ffc9"/>
<circle cx="874.7" cy="355.6" r="3.75" fill="#36ffc9"/>
<circle cx="875.6" cy="362.2" r="3.75" fill="#36ffc9"/>
<circle cx="877.1" cy="365.7" r="3.75" fill="#36ffc9"/>
<circle cx="872.1" cy="369.7" r="3.75" fill="#36ffc9"/>
<circle cx="874.6" cy="374.1" r="3.75" fill="#36ffc9"/>
<circle cx="878.2" cy="377.2" r="3.75" fill="#36ffc9"/>
<circle cx="877.3" cy="379.4" r="3.75" fill="#36ffc9"/>
<circle cx="875.0" cy="381.1" r="3.75" fill="#36ffc9"/>
<circle cx="878.3" cy="384.9" r="3.75" fill="#36ffc9"/>
<circle cx="878.2" cy="389.0" r="3.75" fill="#36ffc9"/>
<circle cx="879.8" cy="391.0" r="3.75" fill="#36ffc9"/>
<circle cx="881.5" cy="392.4" r="3.75" fill="#36ffc9"/>
<circle cx="883.4" cy="399.0" r="3.75" fill="#36ffc9"/>
<circle cx="877.0" cy="409.2" r="3.75" fill="#36ffc9"/>
<circle cx="877.7" cy="412.0" r="3.75" fill="#36ffc9"/>
<circle cx="879.8" cy="350.4" r="3.75" fill="#36ffc9"/>
<circle cx="893.8" cy="358.8" r="3.75" fill="#0063ff"/>
<circle cx="898.0" cy="359.5" r="3.75" fill="#0063ff"/>
<circle cx="889.6" cy="390.3" r="3.75" fill="#0063ff"/>
<circle cx="886.8" cy="399.4" r="3.75" fill="#0063ff"/>
<circle cx="879.1" cy="405.0" r="3.75" fill="#0063ff"/>
<circle cx="879.1" cy="427.5" r="3.75" fill="#0063ff"/>
<circle cx="880.5" cy="433.1" r="3.75" fill="#0063ff"/>
<circle cx="871.4" cy="461.1" r="3.75" fill="#0063ff"/>
<circle cx="859.5" cy="491.9" r="3.75" fill="#0063ff"/>
<circle cx="864.4" cy="501.0" r="3.75" fill="#0063ff"/>
<circle cx="877.0" cy="490.5" r="3.75" fill="#0063ff"/>
<circle cx="887.0" cy="368.4" r="3.75" fill="#08fff6"/>
<circle cx="889.1" cy="369.0" r="3.75" fill="#08fff6"/>
<circle cx="889.1" cy="374.3" r="3.75" fill="#08fff6"/>
<circle cx="889.4" cy="377.8" r="3.75" fill="#08fff6"/>
<circle cx="892.2" cy="380.0" r="3.75" fill="#08fff6"/>
<circle cx="895.7" cy="367.7" r="3.75" fill="#47ffb8"/>
<circle cx="893.0" cy="371.2" r="3.75" fill="#47ffb8"/>
<circle cx="897.7" cy="374.8" r="3.75" fill="#47ffb8"/>
<circle cx="896.2" cy="378.4" r="3.75" fill="#47ffb8"/>
<circle cx="893.1" cy="381.8" r="3.75" fill="#47ffb8"/>
<circle cx="894.9" cy="384.5" r="3.75" fill="#47ffb8"/>
<circle cx="886.8" cy="385.4" r="3.75" fill="#47ffb8"/>
<circle cx="910.6" cy="351.1" r="3.75" fill="#ff9b00"/>
<circle cx="909.9" cy="358.8" r="3.75" fill="#ff9b00"/>
<circle cx="902.0" cy="364.1" r="3.75" fill="#ff9b00"/>
<circle cx="918.6" cy="347.1" r="3.75" fill="#7f0000"/>
<circle cx="918.2" cy="350.1" r="3.75" fill="#7f0000"/>
<circle cx="919.1" cy="353.6" r="3.75" fill="#7f0000"/>
<circle cx="918.5" cy="355.4" r="3.75" fill="#7f0000"/>
<circle cx="917.8" cy="358.2" r="3.75" fill="#7f0000"/>
<circle cx="909.8" cy="376.2" r="3.75" fill="#ff6e00"/>
<circle cx="904.7" cy="380.5" r="3.75" fill="#ff6a00"/>
<circle cx="909.1" cy="381.7" r="3.75" fill="#ff6500"/>
<circle cx="904.8" cy="382.6" r="3.75" fill="#ff6100"/>
<circle cx="909.7" cy="385.5" r="3.75" fill="#ff5d00"/>
<circle cx="905.1" cy="386.8" r="3.75" fill="#ff5a00"/>
<circle cx="906.8" cy="390.4" r="3.75" fill="#ff5500"/>
<circle cx="906.1" cy="391.7" r="3.75" fill="#ff4e00"/>
<circle cx="905.1" cy="394.6" r="3.75" fill="#ff4800"/>
<circle cx="902.8" cy="397.4" r="3.75" fill="#ff4300"/>
<circle cx="904.6" cy="399.7" r="3.75" fill="#ff3f00"/>
<circle cx="904.3" cy="402.6" r="3.75" fill="#ff3b00"/>
<circle cx="885.7" cy="403.9" r="3.75" fill="#74ff8a"/>
<circle cx="889.7" cy="403.3" r="3.75" fill="#74ff8a"/>
<circle cx="891.0" cy="402.4" r="3.75" fill="#74ff8a"/>
<circle cx="891.9" cy="398.6" r="3.75" fill="#74ff8a"/>
<circle cx="895.6" cy="398.7" r="3.75" fill="#74ff8a"/>
<circle cx="896.5" cy="397.8" r="3.75" fill="#74ff8a"/>
<circle cx="895.6" cy="401.6" r="3.75" fill="#74ff8a"/>
<circle cx="892.9" cy="402.6" r="3.75" fill="#74ff8a"/>
<circle cx="899.1" cy="402.0" r="3.75" fill="#74ff8a"/>
<circle cx="898.8" cy="404.4" r="3.75" fill="#74ff8a"/>
<circle cx="898.2" cy="405.6" r="3.75" fill="#74ff8a"/>
<circle cx="895.9" cy="407.1" r="3.75" fill="#74ff8a"/>
<circle cx="895.7" cy="408.0" r="3.75" fill="#74ff8a"/>
<circle cx="891.0" cy="407.2" r="3.75" fill="#74ff8a"/>
<circle cx="894.9" cy="403.9" r="3.75" fill="#74ff8a"/>
<circle cx="892.7" cy="405.0" r="3.75" fill="#74ff8a"/>
<circle cx="883.3" cy="419.0" r="3.75" fill="#74ff8a"/>
<circle cx="872.1" cy="445.7" r="3.75" fill="#74ff8a"/>
<circle cx="890.2" cy="421.5" r="3.75" fill="#74ff8a"/>
<circle cx="891.4" cy="425.8" r="3.75" fill="#74ff8a"/>
<circle cx="894.2" cy="424.7" r="3.75" fill="#74ff8a"/>
<circle cx="897.0" cy="423.9" r="3.75" fill="#74ff8a"/>
<circle cx="899.3" cy="422.1" r="3.75" fill="#74ff8a"/>
<circle cx="900.3" cy="425.9" r="3.75" fill="#74ff8a"/>
<circle cx="899.9" cy="427.9" r="3.75" fill="#74ff8a"/>
<circle cx="896.9" cy="428.3" r="3.75" fill="#74ff8a"/>
<circle cx="902.5" cy="429.7" r="3.75" fill="#74ff8a"/>
<circle cx="897.1" cy="430.1" r="3.75" fill="#74ff8a"/>
<circle cx="896.6" cy="432.3" r="3.75" fill="#74ff8a"/>
<circle cx="893.3" cy="437.2" r="3.75" fill="#74ff8a"/>
<circle cx="893.4" cy="440.3" r="3.75" fill="#74ff8a"/>
<circle cx="894.1" cy="433.9" r="3.75" fill="#74ff8a"/>
<circle cx="893.5" cy="437.9" r="3.75" fill="#74ff8a"/>
<circle cx="890.6" cy="442.6" r="3.75" fill="#74ff8a"/>
<circle cx="890.8" cy="444.2" r="3.75" fill="#74ff8a"/>
<circle cx="894.0" cy="440.2" r="3.75" fill="#74ff8a"/>
<circle cx="891.9" cy="448.2" r="3.75" fill="#74ff8a"/>
<circle cx="889.9" cy="443.1" r="3.75" fill="#74ff8a"/>
<circle cx="888.5" cy="444.4" r="3.75" fill="#74ff8a"/>
<circle cx="889.2" cy="445.4" r="3.75" fill="#74ff8a"/>
<circle cx="895.4" cy="442.8" r="3.75" fill="#74ff8a"/>
<circle cx="894.3" cy="446.2" r="3.75" fill="#74ff8a"/>
<circle cx="892.5" cy="451.8" r="3.75" fill="#74ff8a"/>
<circle cx="892.5" cy="450.3" r="3.75" fill="#74ff8a"/>
<circle cx="889.2" cy="445.3" r="3.75" fill="#74ff8a"/>
<circle cx="887.0" cy="449.7" r="3.75" fill="#74ff8a"/>
<circle cx="884.8" cy="445.5" r="3.75" fill="#74ff8a"/>
<circle cx="881.4" cy="448.8" r="3.75" fill="#74ff8a"/>
<circle cx="884.0" cy="447.1" r="3.75" fill="#74ff8a"/>
<circle cx="880.3" cy="449.2" r="3.75" fill="#74ff8a"/>
<circle cx="881.0" cy="453.1" r="3.75" fill="#74ff8a"/>
<circle cx="881.0" cy="454.3" r="3.75" fill="#74ff8a"/>
<circle cx="883.1" cy="456.3" r="3.75" fill="#74ff8a"/>
<circle cx="883.1" cy="457.5" r="3.75" fill="#74ff8a"/>
<circle cx="885.4" cy="452.2" r="3.75" fill="#74ff8a"/>
<circle cx="887.8" cy="451.2" r="3.75" fill="#74ff8a"/>
<circle cx="886.6" cy="454.3" r="3.75" fill="#74ff8a"/>
<circle cx="893.9" cy="453.8" r="3.75" fill="#74ff8a"/>
<circle cx="888.4" cy="457.6" r="3.75" fill="#74ff8a"/>
<circle cx="891.8" cy="457.5" r="3.75" fill="#74ff8a"/>
<circle cx="892.2" cy="460.6" r="3.75" fill="#74ff8a"/>
<circle cx="893.0" cy="458.3" r="3.75" fill="#74ff8a"/>
<circle cx="892.1" cy="458.3" r="3.75" fill="#74ff8a"/>
<circle cx="887.6" cy="455.3" r="3.75" fill="#74ff8a"/>
<circle cx="880.6" cy="461.7" r="3.75" fill="#7fff7f"/>
<circle cx="881.0" cy="465.4" r="3.75" fill="#7fff7f"/>
<circle cx="882.2" cy="466.6" r="3.75" fill="#7fff7f"/>
<circle cx="884.5" cy="464.5" r="3.75" fill="#7fff7f"/>
<circle cx="884.4" cy="469.7" r="3.75" fill="#7fff7f"/>
<circle cx="882.6" cy="472.9" r="3.75" fill="#7fff7f"/>
<circle cx="884.0" cy="473.6" r="3.75" fill="#7fff7f"/>
<circle cx="886.0" cy="470.0" r="3.75" fill="#7fff7f"/>
<circle cx="885.2" cy="466.4" r="3.75" fill="#7fff7f"/>
<circle cx="892.4" cy="469.7" r="3.75" fill="#7fff7f"/>
<circle cx="888.7" cy="467.6" r="3.75" fill="#7fff7f"/>
<circle cx="890.3" cy="471.3" r="3.75" fill="#7fff7f"/>
<circle cx="885.2" cy="473.8" r="3.75" fill="#7fff7f"/>
<circle cx="883.2" cy="475.3" r="3.75" fill="#7fff7f"/>
<circle cx="884.1" cy="476.1" r="3.75" fill="#7fff7f"/>
<circle cx="877.3" cy="475.8" r="3.75" fill="#7fff7f"/>
<circle cx="882.8" cy="478.2" r="3.75" fill="#7fff7f"/>
<circle cx="877.4" cy="482.2" r="3.75" fill="#7fff7f"/>
<circle cx="878.8" cy="481.3" r="3.75" fill="#7fff7f"/>
<circle cx="879.4" cy="480.6" r="3.75" fill="#7fff7f"/>
<circle cx="881.3" cy="484.9" r="3.75" fill="#7fff7f"/>
<circle cx="884.1" cy="483.4" r="3.75" fill="#7fff7f"/>
<circle cx="883.5" cy="482.7" r="3.75" fill="#7fff7f"/>
<circle cx="884.1" cy="478.9" r="3.75" fill="#7fff7f"/>
<circle cx="886.4" cy="477.1" r="3.75" fill="#7fff7f"/>
<circle cx="889.4" cy="474.2" r="3.75" fill="#7fff7f"/>
<circle cx="887.3" cy="475.8" r="3.75" fill="#7fff7f"/>
<circle cx="887.1" cy="471.2" r="3.75" fill="#7fff7f"/>
<circle cx="890.6" cy="490.2" r="3.75" fill="#c9ff36"/>
<circle cx="892.5" cy="488.2" r="3.75" fill="#c9ff36"/>
<circle cx="895.2" cy="482.9" r="3.75" fill="#c9ff36"/>
<circle cx="895.9" cy="484.5" r="3.75" fill="#c9ff36"/>
<circle cx="896.6" cy="488.6" r="3.75" fill="#c9ff36"/>
<circle cx="893.3" cy="491.6" r="3.75" fill="#c9ff36"/>
<circle cx="893.2" cy="496.2" r="3.75" fill="#c9ff36"/>
<circle cx="877.0" cy="491.9" r="3.75" fill="#7fff7f"/>
<circle cx="874.2" cy="498.9" r="3.75" fill="#7fff7f"/>
<circle cx="882.6" cy="498.9" r="3.75" fill="#7fff7f"/>
<circle cx="852.9" cy="465.7" r="3.75" fill="#000070"/>
<circle cx="781.9" cy="503.7" r="3.75" fill="#000070"/>
<circle cx="826.1" cy="508.3" r="3.75" fill="#000070"/>
<circle cx="766.8" cy="518.4" r="3.75" fill="#000070"/>
<circle cx="775.3" cy="519.5" r="3.75" fill="#000070"/>
<circle cx="834.7" cy="519.5" r="3.75" fill="#000070"/>
<circle cx="838.4" cy="527.5" r="3.75" fill="#000070"/>
<circle cx="778.4" cy="529.3" r="3.75" fill="#000070"/>
<circle cx="790.3" cy="528.9" r="3.75" fill="#000070"/>
<circle cx="795.9" cy="528.9" r="3.75" fill="#000070"/>
<circle cx="797.3" cy="533.1" r="3.75" fill="#000070"/>
<circle cx="771.8" cy="540.1" r="3.75" fill="#000070"/>
<circle cx="784.0" cy="541.5" r="3.75" fill="#000070"/>
<circle cx="784.7" cy="540.5" r="3.75" fill="#000070"/>
<circle cx="799.7" cy="541.1" r="3.75" fill="#000070"/>
<circle cx="848.2" cy="538.7" r="3.75" fill="#000070"/>
<circle cx="855.5" cy="542.9" r="3.75" fill="#000070"/>
<circle cx="858.3" cy="545.7" r="3.75" fill="#000070"/>
<circle cx="803.6" cy="547.8" r="3.75" fill="#000070"/>
<circle cx="801.5" cy="549.9" r="3.75" fill="#000070"/>
<circle cx="799.4" cy="554.8" r="3.75" fill="#000070"/>
<circle cx="770.4" cy="553.0" r="3.75" fill="#000070"/>
<circle cx="752.9" cy="558.8" r="3.75" fill="#000070"/>
<circle cx="789.2" cy="560.4" r="3.75" fill="#000070"/>
<circle cx="804.1" cy="562.5" r="3.75" fill="#000070"/>
<circle cx="800.8" cy="567.2" r="3.75" fill="#000070"/>
<circle cx="758.1" cy="578.7" r="3.75" fill="#000070"/>
<circle cx="802.2" cy="578.4" r="3.75" fill="#000070"/>
<circle cx="780.5" cy="588.9" r="3.75" fill="#000070"/>
<circle cx="763.7" cy="590.1" r="3.75" fill="#000070"/>
<circle cx="760.9" cy="592.7" r="3.75" fill="#000070"/>
<circle cx="796.6" cy="597.1" r="3.75" fill="#000070"/>
<circle cx="777.7" cy="617.5" r="3.75" fill="#000070"/>
<circle cx="775.3" cy="629.4" r="3.75" fill="#000070"/>
<circle cx="765.1" cy="653.6" r="3.75" fill="#000070"/>
<circle cx="825.4" cy="636.1" r="3.75" fill="#000070"/>
<circle cx="865.3" cy="545.0" r="3.75" fill="#000070"/>
<circle cx="868.8" cy="543.6" r="3.75" fill="#000070"/>
<circle cx="858.3" cy="560.4" r="3.75" fill="#000070"/>
<circle cx="861.1" cy="587.1" r="3.75" fill="#000070"/>
<circle cx="861.8" cy="596.2" r="3.75" fill="#000070"/>
<circle cx="864.6" cy="616.8" r="3.75" fill="#000070"/>
<circle cx="879.3" cy="610.9" r="3.75" fill="#000070"/>
<circle cx="872.3" cy="619.3" r="3.75" fill="#000070"/>
<circle cx="875.8" cy="621.4" r="3.75" fill="#000070"/>
<circle cx="880.0" cy="628.4" r="3.75" fill="#000070"/>
<circle cx="877.9" cy="633.3" r="3.75" fill="#000070"/>
<circle cx="883.5" cy="636.1" r="3.75" fill="#000070"/>
<circle cx="887.7" cy="641.0" r="3.75" fill="#000070"/>
<circle cx="881.4" cy="648.0" r="3.75" fill="#000070"/>
<circle cx="886.3" cy="655.0" r="3.75" fill="#000070"/>
<circle cx="744.8" cy="525.4" r="3.75" fill="#000070"/>
<circle cx="747.6" cy="530.3" r="3.75" fill="#000070"/>
<circle cx="749.0" cy="535.2" r="3.75" fill="#000070"/>
<circle cx="751.1" cy="540.1" r="3.75" fill="#000070"/>
<circle cx="751.1" cy="544.3" r="3.75" fill="#000070"/>
<circle cx="743.4" cy="538.0" r="3.75" fill="#0000ff"/>
<circle cx="746.2" cy="505.8" r="3.75" fill="#0000ff"/>
<circle cx="750.4" cy="505.1" r="3.75" fill="#0000ff"/>
<circle cx="753.2" cy="504.4" r="3.75" fill="#0000ff"/>
<circle cx="820.5" cy="657.2" r="3.75" fill="#0000ff"/>
<circle cx="823.4" cy="656.1" r="3.75" fill="#0000ff"/>
<circle cx="824.5" cy="653.2" r="3.75" fill="#0000ff"/>
<circle cx="822.5" cy="651.5" r="3.75" fill="#0000ff"/>
<circle cx="827.2" cy="650.0" r="3.75" fill="#0000ff"/>
<circle cx="822.9" cy="647.3" r="3.75" fill="#0000ff"/>
<circle cx="822.5" cy="644.1" r="3.75" fill="#0000ff"/>
<circle cx="823.1" cy="642.1" r="3.75" fill="#0000ff"/>
<circle cx="765.1" cy="504.4" r="3.75" fill="#0079ff"/>
<circle cx="746.2" cy="517.0" r="3.75" fill="#0079ff"/>
<circle cx="872.3" cy="510.0" r="3.75" fill="#0079ff"/>
<circle cx="868.1" cy="511.4" r="3.75" fill="#0079ff"/>
<circle cx="870.9" cy="514.2" r="3.75" fill="#0079ff"/>
<circle cx="873.0" cy="507.9" r="3.75" fill="#0079ff"/>
<circle cx="857.6" cy="526.8" r="3.75" fill="#0079ff"/>
<circle cx="867.4" cy="532.7" r="3.75" fill="#0079ff"/>
<circle cx="866.0" cy="540.8" r="3.75" fill="#0079ff"/>
<circle cx="873.7" cy="556.0" r="3.75" fill="#0079ff"/>
<circle cx="847.1" cy="570.9" r="3.75" fill="#0079ff"/>
<circle cx="856.2" cy="573.0" r="3.75" fill="#0079ff"/>
<circle cx="858.3" cy="575.8" r="3.75" fill="#0079ff"/>
<circle cx="866.7" cy="580.3" r="3.75" fill="#0079ff"/>
<circle cx="881.1" cy="587.8" r="3.75" fill="#0079ff"/>
<circle cx="856.2" cy="587.8" r="3.75" fill="#0079ff"/>
<circle cx="854.1" cy="609.5" r="3.75" fill="#0079ff"/>
<circle cx="856.9" cy="613.7" r="3.75" fill="#0079ff"/>
<circle cx="849.9" cy="622.1" r="3.75" fill="#0079ff"/>
<circle cx="852.7" cy="627.7" r="3.75" fill="#0079ff"/>
<circle cx="851.3" cy="631.9" r="3.75" fill="#0079ff"/>
<circle cx="849.9" cy="636.1" r="3.75" fill="#0079ff"/>
<circle cx="853.4" cy="629.8" r="3.75" fill="#0079ff"/>
<circle cx="878.6" cy="509.3" r="3.75" fill="#7fff7f"/>
<circle cx="882.8" cy="517.7" r="3.75" fill="#7fff7f"/>
<circle cx="875.1" cy="519.8" r="3.75" fill="#7fff7f"/>
<circle cx="862.5" cy="524.0" r="3.75" fill="#7fff7f"/>
<circle cx="882.1" cy="535.2" r="3.75" fill="#7fff7f"/>
<circle cx="884.2" cy="533.8" r="3.75" fill="#7fff7f"/>
<circle cx="863.9" cy="552.0" r="3.75" fill="#7fff7f"/>
<circle cx="854.1" cy="558.3" r="3.75" fill="#7fff7f"/>
<circle cx="852.7" cy="595.5" r="3.75" fill="#7fff7f"/>
<circle cx="858.3" cy="598.3" r="3.75" fill="#7fff7f"/>
<circle cx="863.9" cy="592.7" r="3.75" fill="#7fff7f"/>
<circle cx="872.3" cy="598.3" r="3.75" fill="#7fff7f"/>
<circle cx="880.0" cy="599.0" r="3.75" fill="#7fff7f"/>
<circle cx="873.7" cy="601.8" r="3.75" fill="#7fff7f"/>
<circle cx="870.2" cy="596.9" r="3.75" fill="#7fff7f"/>
<circle cx="865.3" cy="606.7" r="3.75" fill="#7fff7f"/>
<circle cx="866.7" cy="610.9" r="3.75" fill="#7fff7f"/>
<circle cx="870.9" cy="623.5" r="3.75" fill="#7fff7f"/>
<circle cx="835.2" cy="636.8" r="3.75" fill="#7fff7f"/>
<circle cx="874.4" cy="645.2" r="3.75" fill="#7fff7f"/>
<circle cx="857.6" cy="652.2" r="3.75" fill="#7fff7f"/>
<circle cx="729.7" cy="349.8" r="3.75" fill="#0000f9"/>
<circle cx="728.4" cy="352.8" r="3.75" fill="#0000f9"/>
<circle cx="728.4" cy="356.3" r="3.75" fill="#0000f9"/>
<circle cx="726.6" cy="358.5" r="3.75" fill="#0000f9"/>
<circle cx="724.9" cy="360.3" r="3.75" fill="#0000f9"/>
<circle cx="722.1" cy="362.9" r="3.75" fill="#0000f9"/>
<circle cx="720.2" cy="364.0" r="3.75" fill="#0000f9"/>
<circle cx="718.2" cy="367.9" r="3.75" fill="#0000f9"/>
<circle cx="716.9" cy="368.8" r="3.75" fill="#0000f9"/>
<circle cx="716.8" cy="377.7" r="3.75" fill="#0000f9"/>
<circle cx="677.6" cy="412.0" r="3.75" fill="#0000f9"/>
<circle cx="687.6" cy="387.9" r="3.75" fill="#0000f9"/>
<circle cx="700.4" cy="369.7" r="3.75" fill="#0000f9"/>
<circle cx="679.4" cy="425.1" r="3.75" fill="#0000f9"/>
<circle cx="711.5" cy="383.9" r="3.75" fill="#0000f9"/>
<circle cx="708.1" cy="385.4" r="3.75" fill="#0000f9"/>
<circle cx="706.6" cy="387.2" r="3.75" fill="#0000f9"/>
<circle cx="704.0" cy="387.5" r="3.75" fill="#0000f9"/>
<circle cx="703.8" cy="389.3" r="3.75" fill="#0000f9"/>
<circle cx="701.8" cy="393.5" r="3.75" fill="#0000f9"/>
<circle cx="700.7" cy="393.6" r="3.75" fill="#0000f9"/>
<circle cx="697.2" cy="395.3" r="3.75" fill="#0000f9"/>
<circle cx="696.6" cy="398.5" r="3.75" fill="#0000f9"/>
<circle cx="693.6" cy="399.5" r="3.75" fill="#0000f9"/>
<circle cx="694.0" cy="402.2" r="3.75" fill="#0000f9"/>
<circle cx="690.4" cy="405.6" r="3.75" fill="#0000f9"/>
<circle cx="689.6" cy="406.1" r="3.75" fill="#0000f9"/>
<circle cx="689.0" cy="410.0" r="3.75" fill="#0000f9"/>
<circle cx="687.0" cy="410.8" r="3.75" fill="#0000f9"/>
<circle cx="686.6" cy="414.6" r="3.75" fill="#0000f9"/>
<circle cx="685.4" cy="416.8" r="3.75" fill="#0000f9"/>
<circle cx="683.2" cy="418.9" r="3.75" fill="#0000f9"/>
<circle cx="669.0" cy="432.0" r="3.75" fill="#0000f9"/>
<circle cx="668.9" cy="436.1" r="3.75" fill="#0000f9"/>
<circle cx="669.7" cy="437.3" r="3.75" fill="#0000f9"/>
<circle cx="669.7" cy="439.8" r="3.75" fill="#0000f9"/>
<circle cx="667.2" cy="439.9" r="3.75" fill="#0000f9"/>
<circle cx="665.6" cy="443.7" r="3.75" fill="#0000f9"/>
<circle cx="663.3" cy="443.4" r="3.75" fill="#0000f9"/>
<circle cx="661.2" cy="441.8" r="3.75" fill="#0000f9"/>
<circle cx="659.1" cy="442.2" r="3.75" fill="#0000f9"/>
<circle cx="657.1" cy="440.0" r="3.75" fill="#0000f9"/>
<circle cx="656.3" cy="442.7" r="3.75" fill="#0000f9"/>
<circle cx="654.0" cy="445.1" r="3.75" fill="#0000f9"/>
<circle cx="651.8" cy="446.0" r="3.75" fill="#0000f9"/>
<circle cx="655.2" cy="449.3" r="3.75" fill="#0000f9"/>
<circle cx="652.9" cy="453.2" r="3.75" fill="#0000f9"/>
<circle cx="649.6" cy="451.4" r="3.75" fill="#0000f9"/>
<circle cx="648.9" cy="455.0" r="3.75" fill="#0000f9"/>
<circle cx="647.2" cy="454.0" r="3.75" fill="#0000f9"/>
<circle cx="647.3" cy="459.0" r="3.75" fill="#0000f9"/>
<circle cx="645.0" cy="458.5" r="3.75" fill="#0000f9"/>
<circle cx="644.0" cy="461.6" r="3.75" fill="#0000f9"/>
<circle cx="645.6" cy="462.9" r="3.75" fill="#0000f9"/>
<circle cx="644.2" cy="465.5" r="3.75" fill="#0000f9"/>
<circle cx="646.2" cy="468.7" r="3.75" fill="#0000f9"/>
<circle cx="643.6" cy="467.7" r="3.75" fill="#0000f9"/>
<circle cx="641.1" cy="467.6" r="3.75" fill="#0000f9"/>
<circle cx="639.5" cy="468.9" r="3.75" fill="#0000f9"/>
<circle cx="636.7" cy="469.4" r="3.75" fill="#0000f9"/>
<circle cx="636.7" cy="469.5" r="3.75" fill="#0000f9"/>
<circle cx="635.5" cy="472.5" r="3.75" fill="#0000f9"/>
<circle cx="635.0" cy="473.8" r="3.75" fill="#0000f9"/>
<circle cx="633.3" cy="476.9" r="3.75" fill="#0000f9"/>
<circle cx="630.9" cy="477.1" r="3.75" fill="#0000f9"/>
<circle cx="631.0" cy="481.2" r="3.75" fill="#0000f9"/>
<circle cx="634.5" cy="482.6" r="3.75" fill="#0000f9"/>
<circle cx="633.1" cy="484.7" r="3.75" fill="#0000f9"/>
<circle cx="634.9" cy="486.7" r="3.75" fill="#0000f9"/>
<circle cx="632.7" cy="487.9" r="3.75" fill="#0000f9"/>
<circle cx="632.4" cy="490.6" r="3.75" fill="#0000f9"/>
<circle cx="630.3" cy="493.6" r="3.75" fill="#0000f9"/>
<circle cx="632.0" cy="493.2" r="3.75" fill="#0000f9"/>
<circle cx="629.0" cy="495.8" r="3.75" fill="#0000f9"/>
<circle cx="627.5" cy="498.2" r="3.75" fill="#0000f9"/>
<circle cx="626.0" cy="500.8" r="3.75" fill="#0000f9"/>
<circle cx="623.9" cy="498.1" r="3.75" fill="#0000f9"/>
<circle cx="621.9" cy="498.7" r="3.75" fill="#0000f9"/>
<circle cx="619.6" cy="500.7" r="3.75" fill="#0000f9"/>
<circle cx="617.1" cy="500.6" r="3.75" fill="#0000f9"/>
<circle cx="614.1" cy="501.6" r="3.75" fill="#0000f9"/>
<circle cx="696.1" cy="349.0" r="3.75" fill="#000070"/>
<circle cx="694.8" cy="357.7" r="3.75" fill="#000070"/>
<circle cx="708.4" cy="368.3" r="3.75" fill="#000070"/>
<circle cx="710.5" cy="377.7" r="3.75" fill="#000070"/>
<circle cx="704.9" cy="400.1" r="3.75" fill="#000070"/>
<circle cx="708.4" cy="403.4" r="3.75" fill="#000070"/>
<circle cx="713.0" cy="414.6" r="3.75" fill="#000070"/>
<circle cx="713.7" cy="420.2" r="3.75" fill="#000070"/>
<circle cx="709.4" cy="428.6" r="3.75" fill="#000070"/>
<circle cx="714.7" cy="434.2" r="3.75" fill="#000070"/>
<circle cx="721.0" cy="446.4" r="3.75" fill="#000070"/>
<circle cx="725.2" cy="449.2" r="3.75" fill="#000070"/>
<circle cx="721.7" cy="453.0" r="3.75" fill="#000070"/>
<circle cx="714.7" cy="455.1" r="3.75" fill="#000070"/>
<circle cx="728.0" cy="464.2" r="3.75" fill="#000070"/>
<circle cx="724.5" cy="482.1" r="3.75" fill="#000070"/>
<circle cx="727.3" cy="487.0" r="3.75" fill="#000070"/>
<circle cx="731.2" cy="496.1" r="3.75" fill="#000070"/>
<circle cx="640.5" cy="485.3" r="3.75" fill="#000070"/>
<circle cx="643.5" cy="483.0" r="3.75" fill="#000070"/>
<circle cx="645.8" cy="482.6" r="3.75" fill="#000070"/>
<circle cx="647.6" cy="480.0" r="3.75" fill="#000070"/>
<circle cx="648.9" cy="477.4" r="3.75" fill="#000070"/>
<circle cx="649.7" cy="475.2" r="3.75" fill="#000070"/>
<circle cx="651.3" cy="472.6" r="3.75" fill="#000070"/>
<circle cx="654.6" cy="473.8" r="3.75" fill="#000070"/>
<circle cx="656.0" cy="476.0" r="3.75" fill="#000070"/>
<circle cx="657.2" cy="489.8" r="3.75" fill="#000070"/>
<circle cx="662.8" cy="494.0" r="3.75" fill="#000070"/>
<circle cx="665.0" cy="496.8" r="3.75" fill="#000070"/>
<circle cx="662.8" cy="501.7" r="3.75" fill="#000070"/>
<circle cx="643.9" cy="499.2" r="3.75" fill="#000070"/>
<circle cx="660.2" cy="478.2" r="3.75" fill="#003bff"/>
<circle cx="660.0" cy="481.4" r="3.75" fill="#003bff"/>
<circle cx="658.6" cy="486.3" r="3.75" fill="#003bff"/>
<circle cx="651.7" cy="493.8" r="3.75" fill="#003bff"/>
<circle cx="652.3" cy="496.3" r="3.75" fill="#003bff"/>
<circle cx="652.8" cy="498.5" r="3.75" fill="#003bff"/>
<circle cx="709.2" cy="476.1" r="3.75" fill="#0000bc"/>
<circle cx="710.2" cy="473.9" r="3.75" fill="#0000bc"/>
<circle cx="712.6" cy="473.5" r="3.75" fill="#0000bc"/>
<circle cx="715.3" cy="473.3" r="3.75" fill="#0000bc"/>
<circle cx="715.2" cy="472.5" r="3.75" fill="#0000bc"/>
<circle cx="714.7" cy="470.4" r="3.75" fill="#0000bc"/>
<circle cx="717.2" cy="468.9" r="3.75" fill="#0000bc"/>
<circle cx="719.4" cy="467.6" r="3.75" fill="#0000bc"/>
<circle cx="719.1" cy="467.1" r="3.75" fill="#0000bc"/>
<circle cx="720.5" cy="465.1" r="3.75" fill="#0000bc"/>
<circle cx="721.4" cy="463.4" r="3.75" fill="#0000bc"/>
<circle cx="725.1" cy="462.3" r="3.75" fill="#0000bc"/>
<circle cx="726.5" cy="462.3" r="3.75" fill="#0000bc"/>
<circle cx="726.3" cy="459.2" r="3.75" fill="#0000bc"/>
<circle cx="725.3" cy="458.0" r="3.75" fill="#0000bc"/>
<circle cx="726.2" cy="455.4" r="3.75" fill="#0000bc"/>
<circle cx="729.8" cy="454.8" r="3.75" fill="#0000bc"/>
<circle cx="732.6" cy="455.4" r="3.75" fill="#0000bc"/>
<circle cx="731.5" cy="452.9" r="3.75" fill="#0000bc"/>
<circle cx="732.2" cy="450.5" r="3.75" fill="#0000bc"/>
<circle cx="733.9" cy="449.8" r="3.75" fill="#0000bc"/>
<circle cx="734.6" cy="446.5" r="3.75" fill="#0000bc"/>
<circle cx="735.8" cy="445.1" r="3.75" fill="#0000bc"/>
<circle cx="736.0" cy="445.0" r="3.75" fill="#0000bc"/>
<circle cx="741.8" cy="445.9" r="3.75" fill="#0000bc"/>
<circle cx="739.2" cy="441.9" r="3.75" fill="#0000bc"/>
<circle cx="742.8" cy="442.0" r="3.75" fill="#0000bc"/>
<circle cx="744.1" cy="441.2" r="3.75" fill="#0000bc"/>
<circle cx="706.3" cy="487.7" r="3.75" fill="#0000dc"/>
<circle cx="704.9" cy="491.9" r="3.75" fill="#0000dc"/>
<circle cx="678.2" cy="501.2" r="3.75" fill="#0000b0"/>
<circle cx="682.4" cy="501.3" r="3.75" fill="#0000b0"/>
<circle cx="684.1" cy="500.7" r="3.75" fill="#0000b0"/>
<circle cx="687.3" cy="499.4" r="3.75" fill="#0000b0"/>
<circle cx="687.6" cy="499.4" r="3.75" fill="#0000b0"/>
<circle cx="690.1" cy="497.2" r="3.75" fill="#0000b0"/>
<circle cx="693.3" cy="495.2" r="3.75" fill="#0000b0"/>
<circle cx="694.1" cy="495.6" r="3.75" fill="#0000b0"/>
<circle cx="658.3" cy="517.9" r="3.75" fill="#0041ff"/>
<circle cx="658.9" cy="521.6" r="3.75" fill="#0041ff"/>
<circle cx="657.5" cy="523.2" r="3.75" fill="#0041ff"/>
<circle cx="687.2" cy="519.4" r="3.75" fill="#0041ff"/>
<circle cx="685.6" cy="522.8" r="3.75" fill="#0041ff"/>
<circle cx="689.0" cy="526.2" r="3.75" fill="#0041ff"/>
<circle cx="689.2" cy="529.8" r="3.75" fill="#0041ff"/>
<circle cx="685.5" cy="530.3" r="3.75" fill="#0041ff"/>
<circle cx="684.4" cy="533.2" r="3.75" fill="#0041ff"/>
<circle cx="682.6" cy="534.0" r="3.75" fill="#0041ff"/>
<circle cx="685.5" cy="537.5" r="3.75" fill="#0041ff"/>
<circle cx="679.7" cy="528.2" r="3.75" fill="#0041ff"/>
<circle cx="686.7" cy="546.4" r="3.75" fill="#0041ff"/>
<circle cx="690.9" cy="552.7" r="3.75" fill="#0041ff"/>
<circle cx="662.8" cy="549.9" r="3.75" fill="#0041ff"/>
<circle cx="685.3" cy="565.3" r="3.75" fill="#0041ff"/>
<circle cx="680.5" cy="560.0" r="3.75" fill="#0041ff"/>
<circle cx="686.3" cy="558.0" r="3.75" fill="#0041ff"/>
<circle cx="660.8" cy="504.8" r="3.75" fill="#000070"/>
<circle cx="659.2" cy="508.0" r="3.75" fill="#000070"/>
<circle cx="662.7" cy="508.4" r="3.75" fill="#000070"/>
<circle cx="663.1" cy="511.0" r="3.75" fill="#000070"/>
<circle cx="667.2" cy="511.5" r="3.75" fill="#000070"/>
<circle cx="665.8" cy="513.8" r="3.75" fill="#000070"/>
<circle cx="667.5" cy="516.5" r="3.75" fill="#000070"/>
<circle cx="668.5" cy="518.4" r="3.75" fill="#000070"/>
<circle cx="671.4" cy="519.9" r="3.75" fill="#000070"/>
<circle cx="669.1" cy="523.1" r="3.75" fill="#000070"/>
<circle cx="670.0" cy="525.7" r="3.75" fill="#000070"/>
<circle cx="671.8" cy="526.2" r="3.75" fill="#000070"/>
<circle cx="675.0" cy="527.2" r="3.75" fill="#000070"/>
<circle cx="671.4" cy="531.4" r="3.75" fill="#000070"/>
<circle cx="690.9" cy="502.0" r="3.75" fill="#000070"/>
<circle cx="689.1" cy="506.1" r="3.75" fill="#000070"/>
<circle cx="688.3" cy="506.4" r="3.75" fill="#000070"/>
<circle cx="684.6" cy="506.6" r="3.75" fill="#000070"/>
<circle cx="682.4" cy="508.3" r="3.75" fill="#000070"/>
<circle cx="681.7" cy="509.0" r="3.75" fill="#000070"/>
<circle cx="679.7" cy="509.6" r="3.75" fill="#000070"/>
<circle cx="678.9" cy="512.9" r="3.75" fill="#000070"/>
<circle cx="678.6" cy="515.9" r="3.75" fill="#000070"/>
<circle cx="677.6" cy="517.4" r="3.75" fill="#000070"/>
<circle cx="674.7" cy="518.7" r="3.75" fill="#000070"/>
<circle cx="673.3" cy="520.1" r="3.75" fill="#000070"/>
<circle cx="670.3" cy="521.4" r="3.75" fill="#000070"/>
<circle cx="669.6" cy="519.8" r="3.75" fill="#000070"/>
<circle cx="666.4" cy="522.2" r="3.75" fill="#000070"/>
<circle cx="666.7" cy="525.5" r="3.75" fill="#000070"/>
<circle cx="664.3" cy="527.0" r="3.75" fill="#000070"/>
<circle cx="664.2" cy="528.4" r="3.75" fill="#000070"/>
<circle cx="660.6" cy="527.6" r="3.75" fill="#000070"/>
<circle cx="661.0" cy="530.5" r="3.75" fill="#000070"/>
<circle cx="659.2" cy="532.4" r="3.75" fill="#000070"/>
<circle cx="657.7" cy="535.3" r="3.75" fill="#000070"/>
<circle cx="659.1" cy="538.3" r="3.75" fill="#000070"/>
<circle cx="658.2" cy="537.9" r="3.75" fill="#000070"/>
<circle cx="659.5" cy="541.5" r="3.75" fill="#000070"/>
<circle cx="671.4" cy="539.6" r="3.75" fill="#000070"/>
<circle cx="671.7" cy="540.0" r="3.75" fill="#000070"/>
<circle cx="674.4" cy="542.6" r="3.75" fill="#000070"/>
<circle cx="671.9" cy="547.6" r="3.75" fill="#000070"/>
<circle cx="672.3" cy="549.5" r="3.75" fill="#000070"/>
<circle cx="677.7" cy="547.8" r="3.75" fill="#000070"/>
<circle cx="678.1" cy="552.8" r="3.75" fill="#000070"/>
<circle cx="676.1" cy="554.8" r="3.75" fill="#000070"/>
<circle cx="677.5" cy="556.0" r="3.75" fill="#000070"/>
<circle cx="676.9" cy="536.6" r="3.75" fill="#000070"/>
<circle cx="681.8" cy="542.2" r="3.75" fill="#000070"/>
<circle cx="650.2" cy="538.7" r="3.75" fill="#000070"/>
<circle cx="651.6" cy="544.3" r="3.75" fill="#000070"/>
<circle cx="667.8" cy="597.1" r="3.75" fill="#000070"/>
<circle cx="664.3" cy="611.6" r="3.75" fill="#000070"/>
<circle cx="668.5" cy="625.6" r="3.75" fill="#000070"/>
<circle cx="719.8" cy="533.0" r="3.75" fill="#0079ff"/>
<circle cx="718.7" cy="533.3" r="3.75" fill="#0079ff"/>
<circle cx="715.8" cy="535.7" r="3.75" fill="#0079ff"/>
<circle cx="713.5" cy="539.3" r="3.75" fill="#0079ff"/>
<circle cx="710.3" cy="540.4" r="3.75" fill="#0079ff"/>
<circle cx="712.2" cy="542.9" r="3.75" fill="#0079ff"/>
<circle cx="707.4" cy="544.6" r="3.75" fill="#0079ff"/>
<circle cx="710.3" cy="548.3" r="3.75" fill="#0079ff"/>
<circle cx="711.3" cy="547.7" r="3.75" fill="#0079ff"/>
<circle cx="713.4" cy="552.5" r="3.75" fill="#0079ff"/>
<circle cx="711.6" cy="553.8" r="3.75" fill="#0079ff"/>
<circle cx="709.6" cy="558.6" r="3.75" fill="#0079ff"/>
<circle cx="707.2" cy="558.2" r="3.75" fill="#0079ff"/>
<circle cx="705.6" cy="559.8" r="3.75" fill="#0079ff"/>
<circle cx="706.2" cy="564.5" r="3.75" fill="#0079ff"/>
<circle cx="702.8" cy="565.3" r="3.75" fill="#0079ff"/>
<circle cx="700.5" cy="568.1" r="3.75" fill="#0079ff"/>
<circle cx="698.0" cy="570.2" r="3.75" fill="#0079ff"/>
<circle cx="702.1" cy="573.2" r="3.75" fill="#0079ff"/>
<circle cx="699.3" cy="586.8" r="3.75" fill="#0079ff"/>
<circle cx="663.6" cy="587.1" r="3.75" fill="#0079ff"/>
<circle cx="660.1" cy="592.6" r="3.75" fill="#0079ff"/>
<circle cx="663.9" cy="590.6" r="3.75" fill="#0079ff"/>
<circle cx="664.5" cy="589.9" r="3.75" fill="#0079ff"/>
<circle cx="668.7" cy="589.1" r="3.75" fill="#0079ff"/>
<circle cx="669.6" cy="593.9" r="3.75" fill="#0079ff"/>
<circle cx="672.4" cy="595.0" r="3.75" fill="#0079ff"/>
<circle cx="673.1" cy="594.8" r="3.75" fill="#0079ff"/>
<circle cx="678.2" cy="594.1" r="3.75" fill="#0079ff"/>
<circle cx="678.0" cy="595.7" r="3.75" fill="#0079ff"/>
<circle cx="682.3" cy="594.2" r="3.75" fill="#0079ff"/>
<circle cx="682.6" cy="594.7" r="3.75" fill="#0079ff"/>
<circle cx="677.9" cy="595.3" r="3.75" fill="#0079ff"/>
<circle cx="676.9" cy="595.5" r="3.75" fill="#0079ff"/>
<circle cx="673.6" cy="598.5" r="3.75" fill="#0079ff"/>
<circle cx="673.2" cy="602.9" r="3.75" fill="#0079ff"/>
<circle cx="669.7" cy="601.6" r="3.75" fill="#0079ff"/>
<circle cx="668.8" cy="603.5" r="3.75" fill="#0079ff"/>
<circle cx="666.3" cy="601.5" r="3.75" fill="#0079ff"/>
<circle cx="672.3" cy="572.7" r="3.75" fill="#0079ff"/>
<circle cx="672.4" cy="576.1" r="3.75" fill="#0079ff"/>
<circle cx="673.9" cy="580.4" r="3.75" fill="#0079ff"/>
<circle cx="673.6" cy="565.9" r="3.75" fill="#000070"/>
<circle cx="675.5" cy="567.8" r="3.75" fill="#000070"/>
<circle cx="677.2" cy="570.3" r="3.75" fill="#000070"/>
<circle cx="676.7" cy="573.7" r="3.75" fill="#000070"/>
<circle cx="676.0" cy="576.8" r="3.75" fill="#000070"/>
<circle cx="674.2" cy="580.1" r="3.75" fill="#000070"/>
<circle cx="672.3" cy="582.5" r="3.75" fill="#000070"/>
<circle cx="669.3" cy="583.6" r="3.75" fill="#000070"/>
<circle cx="741.3" cy="512.7" r="3.75" fill="#0000ff"/>
<circle cx="741.7" cy="513.9" r="3.75" fill="#0000ff"/>
<circle cx="739.9" cy="516.4" r="3.75" fill="#0000ff"/>
<circle cx="739.2" cy="517.0" r="3.75" fill="#0000ff"/>
<circle cx="738.9" cy="520.1" r="3.75" fill="#0000ff"/>
<circle cx="737.8" cy="521.3" r="3.75" fill="#0000ff"/>
<circle cx="737.3" cy="523.6" r="3.75" fill="#0000ff"/>
<circle cx="734.7" cy="526.2" r="3.75" fill="#0000ff"/>
<circle cx="735.0" cy="528.6" r="3.75" fill="#0000ff"/>
<circle cx="737.0" cy="530.2" r="3.75" fill="#0000ff"/>
<circle cx="733.1" cy="530.7" r="3.75" fill="#0000ff"/>
<circle cx="732.5" cy="533.9" r="3.75" fill="#0000ff"/>
<circle cx="733.6" cy="536.6" r="3.75" fill="#0000ff"/>
<circle cx="733.9" cy="539.1" r="3.75" fill="#0000ff"/>
<circle cx="733.0" cy="541.7" r="3.75" fill="#0000ff"/>
<circle cx="730.2" cy="541.8" r="3.75" fill="#0000ff"/>
<circle cx="730.4" cy="544.9" r="3.75" fill="#0000ff"/>
<circle cx="729.2" cy="546.6" r="3.75" fill="#0000ff"/>
<circle cx="729.1" cy="547.7" r="3.75" fill="#0000ff"/>
<circle cx="728.4" cy="550.2" r="3.75" fill="#0000ff"/>
<circle cx="725.0" cy="553.3" r="3.75" fill="#0000ff"/>
<circle cx="725.9" cy="554.7" r="3.75" fill="#0000ff"/>
<circle cx="724.5" cy="556.3" r="3.75" fill="#0000ff"/>
<circle cx="722.2" cy="557.7" r="3.75" fill="#0000ff"/>
<circle cx="719.2" cy="558.7" r="3.75" fill="#0000ff"/>
<circle cx="721.1" cy="560.8" r="3.75" fill="#0000ff"/>
<circle cx="718.0" cy="563.1" r="3.75" fill="#0000ff"/>
<circle cx="718.0" cy="565.2" r="3.75" fill="#0000ff"/>
<circle cx="717.6" cy="568.8" r="3.75" fill="#0000ff"/>
<circle cx="718.8" cy="569.2" r="3.75" fill="#0000ff"/>
<circle cx="715.3" cy="580.2" r="3.75" fill="#0000ff"/>
<circle cx="712.2" cy="581.4" r="3.75" fill="#0000ff"/>
<circle cx="709.4" cy="582.5" r="3.75" fill="#0000ff"/>
<circle cx="708.4" cy="585.6" r="3.75" fill="#0000ff"/>
<circle cx="707.0" cy="589.0" r="3.75" fill="#0000ff"/>
<circle cx="704.6" cy="590.2" r="3.75" fill="#0000ff"/>
<circle cx="705.4" cy="591.6" r="3.75" fill="#0000ff"/>
<circle cx="706.8" cy="594.4" r="3.75" fill="#0000ff"/>
<circle cx="707.4" cy="597.7" r="3.75" fill="#0000ff"/>
<circle cx="707.3" cy="599.7" r="3.75" fill="#0000ff"/>
<circle cx="701.7" cy="593.2" r="3.75" fill="#0000ff"/>
<circle cx="699.0" cy="595.4" r="3.75" fill="#0000ff"/>
<circle cx="699.0" cy="598.0" r="3.75" fill="#0000ff"/>
<circle cx="699.0" cy="599.8" r="3.75" fill="#0000ff"/>
<circle cx="698.0" cy="603.3" r="3.75" fill="#0000ff"/>
<circle cx="697.4" cy="605.7" r="3.75" fill="#0000ff"/>
<circle cx="698.1" cy="608.2" r="3.75" fill="#0000ff"/>
<circle cx="696.7" cy="611.1" r="3.75" fill="#0000ff"/>
<circle cx="695.3" cy="614.5" r="3.75" fill="#0000ff"/>
<circle cx="689.8" cy="616.7" r="3.75" fill="#0000ff"/>
<circle cx="691.4" cy="618.4" r="3.75" fill="#0000ff"/>
<circle cx="694.5" cy="622.4" r="3.75" fill="#0000ff"/>
<circle cx="684.8" cy="628.1" r="3.75" fill="#0000ff"/>
<circle cx="686.8" cy="629.4" r="3.75" fill="#0000ff"/>
<circle cx="683.4" cy="630.6" r="3.75" fill="#0000ff"/>
<circle cx="685.5" cy="634.9" r="3.75" fill="#0000ff"/>
<circle cx="681.1" cy="635.7" r="3.75" fill="#0000ff"/>
<circle cx="681.4" cy="637.7" r="3.75" fill="#0000ff"/>
<circle cx="683.7" cy="640.4" r="3.75" fill="#0000ff"/>
<circle cx="678.5" cy="641.9" r="3.75" fill="#0000ff"/>
<circle cx="678.8" cy="642.9" r="3.75" fill="#0000ff"/>
<circle cx="680.5" cy="647.0" r="3.75" fill="#0000ff"/>
<circle cx="677.5" cy="647.2" r="3.75" fill="#0000ff"/>
<circle cx="675.7" cy="649.2" r="3.75" fill="#0000ff"/>
<circle cx="678.4" cy="653.4" r="3.75" fill="#0000ff"/>
<circle cx="674.9" cy="653.7" r="3.75" fill="#0000ff"/>
<circle cx="673.3" cy="655.5" r="3.75" fill="#0000ff"/>
<circle cx="688.8" cy="641.0" r="3.75" fill="#0000ff"/>
<circle cx="686.7" cy="654.3" r="3.75" fill="#0000ff"/>
<circle cx="592.3" cy="508.4" r="3.75" fill="#000070"/>
<circle cx="596.1" cy="509.5" r="3.75" fill="#000070"/>
<circle cx="596.1" cy="512.6" r="3.75" fill="#000070"/>
<circle cx="597.3" cy="514.1" r="3.75" fill="#000070"/>
<circle cx="599.0" cy="517.2" r="3.75" fill="#000070"/>
<circle cx="596.2" cy="520.6" r="3.75" fill="#000070"/>
<circle cx="594.8" cy="524.5" r="3.75" fill="#000070"/>
<circle cx="599.0" cy="524.0" r="3.75" fill="#000070"/>
<circle cx="599.2" cy="524.8" r="3.75" fill="#000070"/>
<circle cx="602.0" cy="524.9" r="3.75" fill="#000070"/>
<circle cx="604.5" cy="524.5" r="3.75" fill="#000070"/>
<circle cx="607.9" cy="524.4" r="3.75" fill="#000070"/>
<circle cx="611.8" cy="523.1" r="3.75" fill="#000070"/>
<circle cx="612.2" cy="525.6" r="3.75" fill="#000070"/>
<circle cx="610.0" cy="526.6" r="3.75" fill="#000070"/>
<circle cx="607.7" cy="527.2" r="3.75" fill="#000070"/>
<circle cx="604.0" cy="535.8" r="3.75" fill="#000070"/>
<circle cx="604.0" cy="540.9" r="3.75" fill="#000070"/>
<circle cx="606.1" cy="545.8" r="3.75" fill="#000070"/>
<circle cx="614.5" cy="504.4" r="3.75" fill="#0000ff"/>
<circle cx="624.3" cy="505.8" r="3.75" fill="#0000ff"/>
<circle cx="619.4" cy="509.3" r="3.75" fill="#0000ff"/>
<circle cx="614.5" cy="514.9" r="3.75" fill="#0000ff"/>
<circle cx="618.7" cy="515.6" r="3.75" fill="#0000ff"/>
<circle cx="613.1" cy="531.0" r="3.75" fill="#0000ff"/>
<circle cx="600.3" cy="532.3" r="3.75" fill="#0000ff"/>
<circle cx="598.8" cy="533.6" r="3.75" fill="#0000ff"/>
<circle cx="599.9" cy="536.9" r="3.75" fill="#0000ff"/>
<circle cx="597.2" cy="537.9" r="3.75" fill="#0000ff"/>
<circle cx="596.4" cy="540.4" r="3.75" fill="#0000ff"/>
<circle cx="598.6" cy="541.4" r="3.75" fill="#0000ff"/>
<circle cx="595.2" cy="542.1" r="3.75" fill="#0000ff"/>
<circle cx="594.6" cy="545.1" r="3.75" fill="#0000ff"/>
<circle cx="592.8" cy="546.0" r="3.75" fill="#0000ff"/>
<circle cx="592.2" cy="548.7" r="3.75" fill="#0000ff"/>
<circle cx="593.5" cy="550.3" r="3.75" fill="#0000ff"/>
<circle cx="589.3" cy="551.4" r="3.75" fill="#0000ff"/>
<circle cx="587.5" cy="553.6" r="3.75" fill="#0000ff"/>
<circle cx="588.4" cy="554.2" r="3.75" fill="#0000ff"/>
<circle cx="590.5" cy="564.5" r="3.75" fill="#000070"/>
<circle cx="592.3" cy="563.4" r="3.75" fill="#000070"/>
<circle cx="594.1" cy="562.8" r="3.75" fill="#000070"/>
<circle cx="595.7" cy="563.4" r="3.75" fill="#000070"/>
<circle cx="598.5" cy="561.4" r="3.75" fill="#000070"/>
<circle cx="600.5" cy="559.9" r="3.75" fill="#000070"/>
<circle cx="601.4" cy="560.3" r="3.75" fill="#000070"/>
<circle cx="603.3" cy="559.9" r="3.75" fill="#000070"/>
<circle cx="606.0" cy="559.9" r="3.75" fill="#000070"/>
<circle cx="607.9" cy="559.5" r="3.75" fill="#000070"/>
<circle cx="610.3" cy="557.3" r="3.75" fill="#000070"/>
<circle cx="611.5" cy="556.9" r="3.75" fill="#000070"/>
<circle cx="614.2" cy="555.8" r="3.75" fill="#000070"/>
<circle cx="603.9" cy="572.4" r="3.75" fill="#000070"/>
<circle cx="606.4" cy="569.7" r="3.75" fill="#000070"/>
<circle cx="609.6" cy="568.3" r="3.75" fill="#000070"/>
<circle cx="611.0" cy="568.1" r="3.75" fill="#000070"/>
<circle cx="614.2" cy="564.6" r="3.75" fill="#000070"/>
<circle cx="616.1" cy="562.9" r="3.75" fill="#000070"/>
<circle cx="618.2" cy="561.7" r="3.75" fill="#000070"/>
<circle cx="621.1" cy="562.2" r="3.75" fill="#000070"/>
<circle cx="623.7" cy="560.6" r="3.75" fill="#000070"/>
<circle cx="594.9" cy="575.1" r="3.75" fill="#000070"/>
<circle cx="591.4" cy="578.7" r="3.75" fill="#000070"/>
<circle cx="590.0" cy="582.9" r="3.75" fill="#000070"/>
<circle cx="646.0" cy="503.7" r="3.75" fill="#002aff"/>
<circle cx="646.0" cy="509.3" r="3.75" fill="#002aff"/>
<circle cx="641.1" cy="512.8" r="3.75" fill="#002aff"/>
<circle cx="639.7" cy="522.6" r="3.75" fill="#002aff"/>
<circle cx="630.6" cy="526.1" r="3.75" fill="#002aff"/>
<circle cx="631.3" cy="530.3" r="3.75" fill="#002aff"/>
<circle cx="627.5" cy="541.1" r="3.75" fill="#002aff"/>
<circle cx="622.2" cy="551.6" r="3.75" fill="#002aff"/>
<circle cx="628.9" cy="591.5" r="3.75" fill="#002aff"/>
<circle cx="595.3" cy="597.1" r="3.75" fill="#002aff"/>
<circle cx="633.4" cy="550.6" r="3.75" fill="#000070"/>
<circle cx="635.5" cy="554.8" r="3.75" fill="#000070"/>
<circle cx="609.6" cy="586.4" r="3.75" fill="#000070"/>
<circle cx="615.6" cy="596.2" r="3.75" fill="#000070"/>
<circle cx="607.5" cy="602.5" r="3.75" fill="#000070"/>
<circle cx="604.0" cy="599.7" r="3.75" fill="#003bff"/>
<circle cx="605.4" cy="608.8" r="3.75" fill="#003bff"/>
<circle cx="602.6" cy="613.7" r="3.75" fill="#003bff"/>
<circle cx="597.7" cy="619.3" r="3.75" fill="#003bff"/>
<circle cx="594.2" cy="623.5" r="3.75" fill="#003bff"/>
<circle cx="598.4" cy="626.3" r="3.75" fill="#003bff"/>
<circle cx="597.7" cy="634.7" r="3.75" fill="#003bff"/>
<circle cx="601.2" cy="635.4" r="3.75" fill="#003bff"/>
<circle cx="592.1" cy="645.9" r="3.75" fill="#003bff"/>
<circle cx="613.1" cy="627.4" r="3.75" fill="#000070"/>
<circle cx="625.7" cy="626.6" r="3.75" fill="#000070"/>
<circle cx="632.7" cy="627.4" r="3.75" fill="#000070"/>
<circle cx="638.3" cy="628.4" r="3.75" fill="#000070"/>
<circle cx="643.9" cy="627.0" r="3.75" fill="#000070"/>
<circle cx="648.1" cy="623.5" r="3.75" fill="#000070"/>
<circle cx="650.9" cy="630.5" r="3.75" fill="#000070"/>
<circle cx="655.8" cy="638.9" r="3.75" fill="#000070"/>
<circle cx="658.6" cy="642.4" r="3.75" fill="#000070"/>
<circle cx="666.4" cy="648.0" r="3.75" fill="#000070"/>
<circle cx="668.5" cy="653.6" r="3.75" fill="#000070"/>
<circle cx="624.3" cy="642.7" r="3.75" fill="#000070"/>
<circle cx="629.5" cy="651.5" r="3.75" fill="#000070"/>
<circle cx="633.4" cy="657.0" r="3.75" fill="#000070"/>
<circle cx="480.7" cy="395.2" r="3.75" fill="#000070"/>
<circle cx="557.8" cy="361.0" r="3.75" fill="#000070"/>
<circle cx="559.5" cy="361.3" r="3.75" fill="#000070"/>
<circle cx="558.5" cy="364.4" r="3.75" fill="#000070"/>
<circle cx="558.0" cy="365.7" r="3.75" fill="#000070"/>
<circle cx="557.9" cy="367.3" r="3.75" fill="#000070"/>
<circle cx="560.2" cy="369.6" r="3.75" fill="#000070"/>
<circle cx="559.6" cy="371.5" r="3.75" fill="#000070"/>
<circle cx="558.9" cy="374.2" r="3.75" fill="#000070"/>
<circle cx="558.4" cy="376.2" r="3.75" fill="#000070"/>
<circle cx="559.9" cy="377.4" r="3.75" fill="#000070"/>
<circle cx="557.7" cy="379.6" r="3.75" fill="#000070"/>
<circle cx="560.3" cy="380.3" r="3.75" fill="#000070"/>
<circle cx="557.6" cy="382.8" r="3.75" fill="#000070"/>
<circle cx="560.2" cy="383.7" r="3.75" fill="#000070"/>
<circle cx="559.4" cy="385.7" r="3.75" fill="#000070"/>
<circle cx="558.5" cy="388.5" r="3.75" fill="#000070"/>
<circle cx="559.5" cy="390.4" r="3.75" fill="#000070"/>
<circle cx="558.9" cy="391.3" r="3.75" fill="#000070"/>
<circle cx="558.0" cy="394.5" r="3.75" fill="#000070"/>
<circle cx="562.0" cy="400.1" r="3.75" fill="#000070"/>
<circle cx="561.7" cy="406.7" r="3.75" fill="#000070"/>
<circle cx="563.1" cy="416.0" r="3.75" fill="#000070"/>
<circle cx="567.2" cy="432.6" r="3.75" fill="#000070"/>
<circle cx="569.3" cy="447.1" r="3.75" fill="#000070"/>
<circle cx="507.4" cy="412.2" r="3.75" fill="#000086"/>
<circle cx="510.1" cy="413.5" r="3.75" fill="#000086"/>
<circle cx="511.5" cy="413.3" r="3.75" fill="#000086"/>
<circle cx="513.9" cy="415.1" r="3.75" fill="#000086"/>
<circle cx="514.9" cy="415.1" r="3.75" fill="#000086"/>
<circle cx="516.2" cy="416.0" r="3.75" fill="#000086"/>
<circle cx="519.0" cy="417.5" r="3.75" fill="#000086"/>
<circle cx="519.5" cy="419.2" r="3.75" fill="#000086"/>
<circle cx="520.8" cy="420.4" r="3.75" fill="#000086"/>
<circle cx="521.5" cy="423.5" r="3.75" fill="#000086"/>
<circle cx="522.9" cy="423.6" r="3.75" fill="#000086"/>
<circle cx="524.7" cy="425.6" r="3.75" fill="#000086"/>
<circle cx="525.5" cy="428.7" r="3.75" fill="#000086"/>
<circle cx="528.6" cy="427.7" r="3.75" fill="#000086"/>
<circle cx="519.6" cy="403.0" r="3.75" fill="#000086"/>
<circle cx="519.6" cy="405.0" r="3.75" fill="#000086"/>
<circle cx="520.1" cy="407.9" r="3.75" fill="#000086"/>
<circle cx="521.2" cy="409.9" r="3.75" fill="#000086"/>
<circle cx="523.2" cy="409.9" r="3.75" fill="#000086"/>
<circle cx="518.6" cy="423.3" r="3.75" fill="#000086"/>
<circle cx="520.4" cy="435.5" r="3.75" fill="#000086"/>
<circle cx="523.1" cy="438.6" r="3.75" fill="#000086"/>
<circle cx="525.8" cy="438.0" r="3.75" fill="#000086"/>
<circle cx="529.3" cy="436.6" r="3.75" fill="#000086"/>
<circle cx="523.9" cy="441.6" r="3.75" fill="#000086"/>
<circle cx="523.8" cy="445.3" r="3.75" fill="#000086"/>
<circle cx="525.4" cy="447.1" r="3.75" fill="#000086"/>
<circle cx="523.7" cy="448.6" r="3.75" fill="#000086"/>
<circle cx="526.1" cy="451.5" r="3.75" fill="#000086"/>
<circle cx="526.3" cy="454.7" r="3.75" fill="#000086"/>
<circle cx="525.3" cy="456.6" r="3.75" fill="#000086"/>
<circle cx="524.6" cy="458.6" r="3.75" fill="#000086"/>
<circle cx="526.0" cy="465.3" r="3.75" fill="#000086"/>
<circle cx="526.5" cy="471.2" r="3.75" fill="#000086"/>
<circle cx="525.0" cy="481.7" r="3.75" fill="#000086"/>
<circle cx="529.5" cy="499.6" r="3.75" fill="#000086"/>
<circle cx="534.9" cy="442.2" r="3.75" fill="#000086"/>
<circle cx="536.5" cy="443.4" r="3.75" fill="#000086"/>
<circle cx="538.0" cy="445.7" r="3.75" fill="#000086"/>
<circle cx="538.0" cy="446.7" r="3.75" fill="#000086"/>
<circle cx="539.7" cy="447.7" r="3.75" fill="#000086"/>
<circle cx="541.8" cy="447.7" r="3.75" fill="#000086"/>
<circle cx="543.7" cy="448.7" r="3.75" fill="#000086"/>
<circle cx="545.8" cy="450.2" r="3.75" fill="#000086"/>
<circle cx="547.1" cy="450.2" r="3.75" fill="#000086"/>
<circle cx="549.1" cy="450.8" r="3.75" fill="#000086"/>
<circle cx="550.3" cy="451.6" r="3.75" fill="#000086"/>
<circle cx="552.3" cy="452.5" r="3.75" fill="#000086"/>
<circle cx="553.8" cy="453.8" r="3.75" fill="#000086"/>
<circle cx="555.7" cy="453.7" r="3.75" fill="#000086"/>
<circle cx="557.1" cy="454.5" r="3.75" fill="#000086"/>
<circle cx="558.9" cy="455.1" r="3.75" fill="#000086"/>
<circle cx="559.0" cy="457.4" r="3.75" fill="#000086"/>
<circle cx="561.4" cy="457.9" r="3.75" fill="#000086"/>
<circle cx="563.0" cy="459.0" r="3.75" fill="#000086"/>
<circle cx="564.3" cy="460.6" r="3.75" fill="#000086"/>
<circle cx="564.9" cy="461.5" r="3.75" fill="#000086"/>
<circle cx="567.2" cy="462.2" r="3.75" fill="#000086"/>
<circle cx="568.1" cy="463.7" r="3.75" fill="#000086"/>
<circle cx="569.4" cy="465.2" r="3.75" fill="#000086"/>
<circle cx="570.3" cy="467.1" r="3.75" fill="#000086"/>
<circle cx="571.6" cy="466.1" r="3.75" fill="#000086"/>
<circle cx="573.9" cy="466.4" r="3.75" fill="#000086"/>
<circle cx="575.0" cy="466.7" r="3.75" fill="#000086"/>
<circle cx="576.3" cy="464.9" r="3.75" fill="#000086"/>
<circle cx="565.9" cy="477.2" r="3.75" fill="#000070"/>
<circle cx="581.2" cy="477.6" r="3.75" fill="#000070"/>
<circle cx="583.0" cy="484.9" r="3.75" fill="#000070"/>
<circle cx="584.8" cy="489.1" r="3.75" fill="#000070"/>
<circle cx="585.1" cy="496.8" r="3.75" fill="#000070"/>
<circle cx="575.3" cy="500.3" r="3.75" fill="#000070"/>
<circle cx="438.2" cy="579.3" r="3.75" fill="#000086"/>
<circle cx="440.0" cy="578.8" r="3.75" fill="#000086"/>
<circle cx="441.1" cy="578.2" r="3.75" fill="#000086"/>
<circle cx="442.8" cy="576.5" r="3.75" fill="#000086"/>
<circle cx="444.0" cy="575.3" r="3.75" fill="#000086"/>
<circle cx="446.1" cy="574.9" r="3.75" fill="#000086"/>
<circle cx="447.8" cy="573.6" r="3.75" fill="#000086"/>
<circle cx="449.0" cy="572.8" r="3.75" fill="#000086"/>
<circle cx="450.9" cy="573.4" r="3.75" fill="#000086"/>
<circle cx="452.4" cy="572.4" r="3.75" fill="#000086"/>
<circle cx="454.7" cy="571.1" r="3.75" fill="#000086"/>
<circle cx="455.9" cy="571.4" r="3.75" fill="#000086"/>
<circle cx="458.0" cy="570.8" r="3.75" fill="#000086"/>
<circle cx="460.2" cy="571.3" r="3.75" fill="#000086"/>
<circle cx="462.0" cy="570.7" r="3.75" fill="#000086"/>
<circle cx="463.3" cy="571.1" r="3.75" fill="#000086"/>
<circle cx="465.1" cy="571.6" r="3.75" fill="#000086"/>
<circle cx="467.0" cy="572.2" r="3.75" fill="#000086"/>
<circle cx="469.0" cy="572.5" r="3.75" fill="#000086"/>
<circle cx="470.3" cy="572.3" r="3.75" fill="#000086"/>
<circle cx="472.4" cy="573.4" r="3.75" fill="#000086"/>
<circle cx="474.6" cy="574.2" r="3.75" fill="#000086"/>
<circle cx="476.1" cy="574.4" r="3.75" fill="#000086"/>
<circle cx="477.5" cy="554.2" r="3.75" fill="#000086"/>
<circle cx="478.3" cy="556.4" r="3.75" fill="#000086"/>
<circle cx="478.2" cy="558.4" r="3.75" fill="#000086"/>
<circle cx="478.8" cy="560.1" r="3.75" fill="#000086"/>
<circle cx="478.3" cy="561.9" r="3.75" fill="#000086"/>
<circle cx="480.3" cy="562.8" r="3.75" fill="#000086"/>
<circle cx="480.2" cy="564.6" r="3.75" fill="#000086"/>
<circle cx="480.7" cy="567.2" r="3.75" fill="#000086"/>
<circle cx="482.5" cy="567.9" r="3.75" fill="#000086"/>
<circle cx="483.4" cy="569.5" r="3.75" fill="#000086"/>
<circle cx="485.1" cy="570.6" r="3.75" fill="#000086"/>
<circle cx="485.7" cy="572.3" r="3.75" fill="#000086"/>
<circle cx="488.2" cy="573.3" r="3.75" fill="#000086"/>
<circle cx="488.5" cy="574.5" r="3.75" fill="#000086"/>
<circle cx="490.7" cy="576.1" r="3.75" fill="#000086"/>
<circle cx="491.3" cy="576.9" r="3.75" fill="#000086"/>
<circle cx="492.1" cy="579.3" r="3.75" fill="#000086"/>
<circle cx="494.0" cy="579.5" r="3.75" fill="#000086"/>
<circle cx="495.4" cy="581.3" r="3.75" fill="#000086"/>
<circle cx="496.0" cy="582.4" r="3.75" fill="#000086"/>
<circle cx="497.3" cy="583.6" r="3.75" fill="#000086"/>
<circle cx="499.5" cy="585.3" r="3.75" fill="#000086"/>
<circle cx="500.0" cy="586.0" r="3.75" fill="#000086"/>
<circle cx="502.1" cy="587.1" r="3.75" fill="#000086"/>
<circle cx="504.1" cy="587.2" r="3.75" fill="#000086"/>
<circle cx="505.5" cy="587.4" r="3.75" fill="#000086"/>
<circle cx="507.9" cy="586.3" r="3.75" fill="#000086"/>
<circle cx="510.0" cy="585.8" r="3.75" fill="#000086"/>
<circle cx="511.9" cy="587.1" r="3.75" fill="#000086"/>
<circle cx="513.4" cy="585.6" r="3.75" fill="#000086"/>
<circle cx="515.3" cy="585.6" r="3.75" fill="#000086"/>
<circle cx="475.4" cy="575.4" r="3.75" fill="#000086"/>
<circle cx="476.7" cy="576.2" r="3.75" fill="#000086"/>
<circle cx="478.8" cy="577.1" r="3.75" fill="#000086"/>
<circle cx="481.2" cy="578.7" r="3.75" fill="#000086"/>
<circle cx="482.1" cy="580.3" r="3.75" fill="#000086"/>
<circle cx="484.6" cy="581.6" r="3.75" fill="#000086"/>
<circle cx="486.7" cy="582.3" r="3.75" fill="#000086"/>
<circle cx="488.6" cy="583.2" r="3.75" fill="#000086"/>
<circle cx="490.4" cy="582.9" r="3.75" fill="#000086"/>
<circle cx="521.5" cy="582.3" r="3.75" fill="#000086"/>
<circle cx="523.9" cy="580.6" r="3.75" fill="#000086"/>
<circle cx="525.9" cy="579.3" r="3.75" fill="#000086"/>
<circle cx="528.2" cy="579.2" r="3.75" fill="#000086"/>
<circle cx="530.9" cy="579.1" r="3.75" fill="#000086"/>
<circle cx="533.8" cy="577.7" r="3.75" fill="#000086"/>
<circle cx="537.4" cy="577.4" r="3.75" fill="#000086"/>
<circle cx="538.8" cy="579.0" r="3.75" fill="#000086"/>
<circle cx="475.7" cy="574.3" r="3.75" fill="#000086"/>
<circle cx="476.0" cy="576.3" r="3.75" fill="#000086"/>
<circle cx="476.5" cy="578.4" r="3.75" fill="#000086"/>
<circle cx="477.1" cy="580.2" r="3.75" fill="#000086"/>
<circle cx="476.5" cy="581.3" r="3.75" fill="#000086"/>
<circle cx="476.2" cy="584.1" r="3.75" fill="#000086"/>
<circle cx="477.7" cy="585.0" r="3.75" fill="#000086"/>
<circle cx="476.7" cy="587.3" r="3.75" fill="#000086"/>
<circle cx="478.1" cy="588.9" r="3.75" fill="#000086"/>
<circle cx="478.5" cy="590.2" r="3.75" fill="#000086"/>
<circle cx="478.3" cy="592.6" r="3.75" fill="#000086"/>
<circle cx="477.9" cy="594.6" r="3.75" fill="#000086"/>
<circle cx="479.1" cy="596.4" r="3.75" fill="#000086"/>
<circle cx="478.8" cy="598.0" r="3.75" fill="#000086"/>
<circle cx="480.5" cy="600.2" r="3.75" fill="#000086"/>
<circle cx="480.5" cy="601.1" r="3.75" fill="#000086"/>
<circle cx="480.2" cy="603.6" r="3.75" fill="#000086"/>
<circle cx="479.3" cy="605.6" r="3.75" fill="#000086"/>
<circle cx="480.7" cy="607.0" r="3.75" fill="#000086"/>
<circle cx="481.4" cy="608.8" r="3.75" fill="#000086"/>
<circle cx="480.9" cy="610.5" r="3.75" fill="#000086"/>
<circle cx="481.1" cy="612.1" r="3.75" fill="#000086"/>
<circle cx="480.4" cy="615.0" r="3.75" fill="#000086"/>
<circle cx="480.0" cy="616.6" r="3.75" fill="#000086"/>
<circle cx="480.7" cy="618.5" r="3.75" fill="#000086"/>
<circle cx="482.0" cy="619.6" r="3.75" fill="#000086"/>
<circle cx="481.4" cy="621.1" r="3.75" fill="#000086"/>
<circle cx="482.3" cy="623.2" r="3.75" fill="#000086"/>
<circle cx="483.5" cy="625.1" r="3.75" fill="#000086"/>
<circle cx="485.1" cy="623.0" r="3.75" fill="#000086"/>
<circle cx="486.5" cy="621.8" r="3.75" fill="#000086"/>
<circle cx="488.1" cy="621.6" r="3.75" fill="#000086"/>
<circle cx="489.5" cy="620.8" r="3.75" fill="#000086"/>
<circle cx="490.9" cy="621.4" r="3.75" fill="#000086"/>
<circle cx="499.6" cy="586.3" r="3.75" fill="#000086"/>
<circle cx="500.2" cy="588.2" r="3.75" fill="#000086"/>
<circle cx="499.1" cy="589.5" r="3.75" fill="#000086"/>
<circle cx="499.9" cy="591.7" r="3.75" fill="#000086"/>
<circle cx="499.9" cy="594.1" r="3.75" fill="#000086"/>
<circle cx="500.6" cy="595.2" r="3.75" fill="#000086"/>
<circle cx="501.0" cy="597.3" r="3.75" fill="#000086"/>
<circle cx="501.0" cy="599.4" r="3.75" fill="#000086"/>
<circle cx="500.1" cy="600.6" r="3.75" fill="#000086"/>
<circle cx="502.1" cy="602.7" r="3.75" fill="#000086"/>
<circle cx="503.2" cy="604.4" r="3.75" fill="#000086"/>
<circle cx="504.2" cy="605.4" r="3.75" fill="#000086"/>
<circle cx="504.8" cy="606.7" r="3.75" fill="#000086"/>
<circle cx="506.0" cy="608.3" r="3.75" fill="#000086"/>
<circle cx="506.4" cy="610.8" r="3.75" fill="#000086"/>
<circle cx="507.7" cy="611.7" r="3.75" fill="#000086"/>
<circle cx="507.3" cy="613.4" r="3.75" fill="#000086"/>
<circle cx="508.4" cy="615.3" r="3.75" fill="#000086"/>
<circle cx="508.5" cy="617.5" r="3.75" fill="#000086"/>
<circle cx="509.5" cy="619.0" r="3.75" fill="#000086"/>
<circle cx="510.1" cy="620.2" r="3.75" fill="#000086"/>
<circle cx="511.1" cy="622.0" r="3.75" fill="#000086"/>
<circle cx="512.0" cy="623.9" r="3.75" fill="#000086"/>
<circle cx="513.8" cy="624.3" r="3.75" fill="#000086"/>
<circle cx="514.2" cy="627.0" r="3.75" fill="#000086"/>
<circle cx="514.9" cy="628.1" r="3.75" fill="#000086"/>
<circle cx="517.3" cy="629.5" r="3.75" fill="#000086"/>
<circle cx="517.6" cy="630.9" r="3.75" fill="#000086"/>
<circle cx="518.9" cy="632.1" r="3.75" fill="#000086"/>
<circle cx="520.1" cy="634.5" r="3.75" fill="#000086"/>
<circle cx="519.8" cy="635.5" r="3.75" fill="#000086"/>
<circle cx="520.8" cy="636.7" r="3.75" fill="#000086"/>
<circle cx="521.3" cy="638.7" r="3.75" fill="#000086"/>
<circle cx="522.1" cy="640.5" r="3.75" fill="#000086"/>
<circle cx="523.7" cy="641.8" r="3.75" fill="#000086"/>
<circle cx="524.9" cy="642.9" r="3.75" fill="#000086"/>
<circle cx="526.0" cy="643.2" r="3.75" fill="#000086"/>
<circle cx="527.8" cy="644.4" r="3.75" fill="#000086"/>
<circle cx="530.0" cy="645.0" r="3.75" fill="#000086"/>
<circle cx="531.9" cy="645.6" r="3.75" fill="#000086"/>
<circle cx="532.6" cy="646.2" r="3.75" fill="#000086"/>
<circle cx="534.7" cy="647.5" r="3.75" fill="#000086"/>
<circle cx="535.7" cy="648.2" r="3.75" fill="#000086"/>
<circle cx="537.1" cy="649.3" r="3.75" fill="#000086"/>
<circle cx="539.3" cy="648.6" r="3.75" fill="#000086"/>
<circle cx="541.1" cy="649.5" r="3.75" fill="#000086"/>
<circle cx="542.9" cy="650.2" r="3.75" fill="#000086"/>
<circle cx="498.9" cy="617.4" r="3.75" fill="#000090"/>
<circle cx="499.8" cy="614.7" r="3.75" fill="#000090"/>
<circle cx="502.8" cy="613.0" r="3.75" fill="#000090"/>
<circle cx="505.7" cy="611.3" r="3.75" fill="#000090"/>
<circle cx="530.7" cy="523.7" r="3.75" fill="#000070"/>
<circle cx="533.5" cy="537.3" r="3.75" fill="#000070"/>
<circle cx="533.8" cy="550.2" r="3.75" fill="#000070"/>
<circle cx="533.4" cy="560.0" r="3.75" fill="#000070"/>
<circle cx="535.4" cy="570.7" r="3.75" fill="#000070"/>
<circle cx="536.1" cy="586.8" r="3.75" fill="#000070"/>
<circle cx="529.8" cy="503.0" r="3.75" fill="#000070"/>
<circle cx="516.7" cy="609.4" r="3.75" fill="#000096"/>
<circle cx="519.5" cy="608.0" r="3.75" fill="#000096"/>
<circle cx="521.8" cy="606.5" r="3.75" fill="#000096"/>
<circle cx="525.5" cy="604.8" r="3.75" fill="#000096"/>
<circle cx="528.9" cy="603.6" r="3.75" fill="#000096"/>
<circle cx="530.1" cy="603.0" r="3.75" fill="#000096"/>
<circle cx="532.7" cy="602.0" r="3.75" fill="#000096"/>
<circle cx="535.4" cy="601.2" r="3.75" fill="#000096"/>
<circle cx="538.3" cy="599.5" r="3.75" fill="#000096"/>
<circle cx="541.9" cy="599.0" r="3.75" fill="#000096"/>
<circle cx="544.9" cy="596.7" r="3.75" fill="#000096"/>
<circle cx="547.4" cy="597.4" r="3.75" fill="#000096"/>
<circle cx="550.7" cy="596.5" r="3.75" fill="#000096"/>
<circle cx="557.8" cy="593.1" r="3.75" fill="#000096"/>
<circle cx="565.5" cy="589.9" r="3.75" fill="#000096"/>
<circle cx="571.6" cy="586.9" r="3.75" fill="#000096"/>
<circle cx="573.8" cy="584.9" r="3.75" fill="#000096"/>
<circle cx="576.4" cy="583.8" r="3.75" fill="#000096"/>
<circle cx="579.9" cy="582.9" r="3.75" fill="#000096"/>
<circle cx="583.8" cy="581.4" r="3.75" fill="#000096"/>
<circle cx="553.8" cy="612.0" r="3.75" fill="#0000ff"/>
<circle cx="553.6" cy="613.1" r="3.75" fill="#0000ff"/>
<circle cx="552.5" cy="616.1" r="3.75" fill="#0000ff"/>
<circle cx="551.7" cy="618.4" r="3.75" fill="#0000ff"/>
<circle cx="549.7" cy="620.8" r="3.75" fill="#0000ff"/>
<circle cx="548.9" cy="621.3" r="3.75" fill="#0000ff"/>
<circle cx="548.6" cy="623.6" r="3.75" fill="#0000ff"/>
<circle cx="547.1" cy="626.9" r="3.75" fill="#0000ff"/>
<circle cx="544.6" cy="628.5" r="3.75" fill="#0000ff"/>
<circle cx="543.5" cy="629.2" r="3.75" fill="#0000ff"/>
<circle cx="541.7" cy="630.7" r="3.75" fill="#0000ff"/>
<circle cx="540.2" cy="634.7" r="3.75" fill="#0000ff"/>
<circle cx="541.9" cy="636.2" r="3.75" fill="#0000ff"/>
<circle cx="542.5" cy="638.1" r="3.75" fill="#0000ff"/>
<circle cx="539.2" cy="640.5" r="3.75" fill="#0000ff"/>
<circle cx="535.7" cy="639.8" r="3.75" fill="#0000ff"/>
<circle cx="565.5" cy="606.7" r="3.75" fill="#0000ff"/>
<circle cx="564.8" cy="614.7" r="3.75" fill="#0000ff"/>
<circle cx="555.0" cy="626.3" r="3.75" fill="#0000ff"/>
<circle cx="551.2" cy="643.5" r="3.75" fill="#0000ff"/>
<circle cx="576.7" cy="640.3" r="3.75" fill="#0000ff"/>
<circle cx="584.8" cy="626.3" r="3.75" fill="#0000ff"/>
<circle cx="567.6" cy="573.7" r="3.75" fill="#000070"/>
<circle cx="587.2" cy="514.9" r="3.75" fill="#000070"/>
<circle cx="575.3" cy="503.0" r="3.75" fill="#000070"/>
<circle cx="537.7" cy="622.8" r="3.75" fill="#000070"/>
<circle cx="543.8" cy="641.7" r="3.75" fill="#000070"/>
<circle cx="552.9" cy="650.8" r="3.75" fill="#000070"/>
<circle cx="578.8" cy="644.5" r="3.75" fill="#000070"/>
<circle cx="548.7" cy="655.0" r="3.75" fill="#000070"/>
<circle cx="588.4" cy="550.5" r="3.75" fill="#0000ff"/>
<circle cx="590.3" cy="554.3" r="3.75" fill="#0000ff"/>
<circle cx="588.7" cy="555.0" r="3.75" fill="#0000ff"/>
<circle cx="587.4" cy="557.1" r="3.75" fill="#0000ff"/>
<circle cx="587.8" cy="559.9" r="3.75" fill="#0000ff"/>
<circle cx="585.4" cy="562.3" r="3.75" fill="#0000ff"/>
<circle cx="585.6" cy="563.3" r="3.75" fill="#0000ff"/>
<circle cx="582.5" cy="567.1" r="3.75" fill="#0000ff"/>
<circle cx="582.5" cy="569.7" r="3.75" fill="#0000ff"/>
<circle cx="579.3" cy="568.8" r="3.75" fill="#0000ff"/>
<circle cx="580.0" cy="573.1" r="3.75" fill="#0000ff"/>
<circle cx="576.5" cy="575.9" r="3.75" fill="#0000ff"/>
<circle cx="575.7" cy="576.4" r="3.75" fill="#0000ff"/>
<circle cx="576.1" cy="580.4" r="3.75" fill="#0000ff"/>
<circle cx="571.5" cy="580.1" r="3.75" fill="#0000ff"/>
<circle cx="573.6" cy="585.2" r="3.75" fill="#0000ff"/>
<circle cx="569.9" cy="585.0" r="3.75" fill="#0000ff"/>
<circle cx="570.7" cy="588.7" r="3.75" fill="#0000ff"/>
<circle cx="188.6" cy="667.3" r="3.75" fill="#000070"/>
<circle cx="190.8" cy="668.1" r="3.75" fill="#000070"/>
<circle cx="192.3" cy="668.0" r="3.75" fill="#000070"/>
<circle cx="194.3" cy="669.0" r="3.75" fill="#000070"/>
<circle cx="197.2" cy="668.6" r="3.75" fill="#000070"/>
<circle cx="202.5" cy="672.8" r="3.75" fill="#000070"/>
<circle cx="203.9" cy="675.6" r="3.75" fill="#000070"/>
<circle cx="222.9" cy="692.3" r="3.75" fill="#000070"/>
<circle cx="233.5" cy="706.3" r="3.75" fill="#000070"/>
<circle cx="234.7" cy="708.4" r="3.75" fill="#000070"/>
<circle cx="237.2" cy="711.1" r="3.75" fill="#000070"/>
<circle cx="238.9" cy="713.2" r="3.75" fill="#000070"/>
<circle cx="242.4" cy="714.2" r="3.75" fill="#000070"/>
<circle cx="245.9" cy="715.2" r="3.75" fill="#000070"/>
<circle cx="247.3" cy="717.0" r="3.75" fill="#000070"/>
<circle cx="246.1" cy="720.5" r="3.75" fill="#000070"/>
<circle cx="243.6" cy="721.8" r="3.75" fill="#000070"/>
<circle cx="255.5" cy="732.8" r="3.75" fill="#000070"/>
<circle cx="256.9" cy="735.0" r="3.75" fill="#000070"/>
<circle cx="259.2" cy="735.3" r="3.75" fill="#000070"/>
<circle cx="260.5" cy="737.6" r="3.75" fill="#000070"/>
<circle cx="262.6" cy="738.2" r="3.75" fill="#000070"/>
<circle cx="264.9" cy="740.3" r="3.75" fill="#000070"/>
<circle cx="266.8" cy="742.1" r="3.75" fill="#000070"/>
<circle cx="268.5" cy="744.1" r="3.75" fill="#000070"/>
<circle cx="269.6" cy="745.3" r="3.75" fill="#000070"/>
<circle cx="272.2" cy="746.0" r="3.75" fill="#000070"/>
<circle cx="273.1" cy="748.7" r="3.75" fill="#000070"/>
<circle cx="274.6" cy="750.4" r="3.75" fill="#000070"/>
<circle cx="275.2" cy="752.7" r="3.75" fill="#000070"/>
<circle cx="277.2" cy="755.1" r="3.75" fill="#000070"/>
<circle cx="277.0" cy="757.1" r="3.75" fill="#000070"/>
<circle cx="277.9" cy="758.9" r="3.75" fill="#000070"/>
<circle cx="280.2" cy="760.8" r="3.75" fill="#000070"/>
<circle cx="280.0" cy="763.0" r="3.75" fill="#000070"/>
<circle cx="281.4" cy="765.3" r="3.75" fill="#000070"/>
<circle cx="283.3" cy="767.1" r="3.75" fill="#000070"/>
<circle cx="285.3" cy="767.0" r="3.75" fill="#000070"/>
<circle cx="288.2" cy="768.5" r="3.75" fill="#000070"/>
<circle cx="289.2" cy="770.1" r="3.75" fill="#000070"/>
<circle cx="291.5" cy="771.5" r="3.75" fill="#000070"/>
<circle cx="293.7" cy="772.0" r="3.75" fill="#000070"/>
<circle cx="296.5" cy="774.2" r="3.75" fill="#000070"/>
<circle cx="297.6" cy="774.9" r="3.75" fill="#000070"/>
<circle cx="321.2" cy="785.4" r="3.75" fill="#000070"/>
<circle cx="257.2" cy="656.6" r="3.75" fill="#000070"/>
<circle cx="259.5" cy="656.8" r="3.75" fill="#000070"/>
<circle cx="262.1" cy="657.9" r="3.75" fill="#000070"/>
<circle cx="264.9" cy="658.3" r="3.75" fill="#000070"/>
<circle cx="267.8" cy="658.1" r="3.75" fill="#000070"/>
<circle cx="270.2" cy="658.5" r="3.75" fill="#000070"/>
<circle cx="272.6" cy="659.9" r="3.75" fill="#000070"/>
<circle cx="275.5" cy="660.1" r="3.75" fill="#000070"/>
<circle cx="289.1" cy="662.4" r="3.75" fill="#000070"/>
<circle cx="296.9" cy="665.2" r="3.75" fill="#000070"/>
<circle cx="304.4" cy="667.7" r="3.75" fill="#000070"/>
<circle cx="307.2" cy="670.5" r="3.75" fill="#000070"/>
<circle cx="309.5" cy="675.0" r="3.75" fill="#000070"/>
<circle cx="314.2" cy="679.7" r="3.75" fill="#000070"/>
<circle cx="316.5" cy="683.4" r="3.75" fill="#000070"/>
<circle cx="303.6" cy="681.7" r="3.75" fill="#000070"/>
<circle cx="315.9" cy="694.6" r="3.75" fill="#000070"/>
<circle cx="324.6" cy="720.8" r="3.75" fill="#000070"/>
<circle cx="357.5" cy="665.2" r="3.75" fill="#000070"/>
<circle cx="361.7" cy="671.4" r="3.75" fill="#000070"/>
<circle cx="359.5" cy="677.8" r="3.75" fill="#000070"/>
<circle cx="361.7" cy="685.9" r="3.75" fill="#000070"/>
<circle cx="354.2" cy="706.9" r="3.75" fill="#000070"/>
<circle cx="351.4" cy="716.6" r="3.75" fill="#000070"/>
<circle cx="377.1" cy="713.3" r="3.75" fill="#000070"/>
<circle cx="375.7" cy="674.7" r="3.75" fill="#000070"/>
<circle cx="375.8" cy="677.6" r="3.75" fill="#000070"/>
<circle cx="375.4" cy="680.3" r="3.75" fill="#000070"/>
<circle cx="374.5" cy="682.0" r="3.75" fill="#000070"/>
<circle cx="376.8" cy="684.4" r="3.75" fill="#000070"/>
<circle cx="376.6" cy="685.1" r="3.75" fill="#000070"/>
<circle cx="377.2" cy="688.0" r="3.75" fill="#000070"/>
<circle cx="379.3" cy="689.4" r="3.75" fill="#000070"/>
<circle cx="378.9" cy="690.5" r="3.75" fill="#000070"/>
<circle cx="379.7" cy="692.7" r="3.75" fill="#000070"/>
<circle cx="381.6" cy="695.5" r="3.75" fill="#000070"/>
<circle cx="380.4" cy="696.4" r="3.75" fill="#000070"/>
<circle cx="382.6" cy="699.2" r="3.75" fill="#000070"/>
<circle cx="381.8" cy="700.7" r="3.75" fill="#000070"/>
<circle cx="382.7" cy="703.6" r="3.75" fill="#000070"/>
<circle cx="384.8" cy="705.5" r="3.75" fill="#000070"/>
<circle cx="383.7" cy="707.5" r="3.75" fill="#000070"/>
<circle cx="386.1" cy="709.2" r="3.75" fill="#000070"/>
<circle cx="386.0" cy="711.2" r="3.75" fill="#000070"/>
<circle cx="385.5" cy="712.6" r="3.75" fill="#000070"/>
<circle cx="385.5" cy="714.5" r="3.75" fill="#000070"/>
<circle cx="390.5" cy="732.0" r="3.75" fill="#000070"/>
<circle cx="388.3" cy="737.0" r="3.75" fill="#000070"/>
<circle cx="393.3" cy="737.0" r="3.75" fill="#000070"/>
<circle cx="377.9" cy="741.5" r="3.75" fill="#000070"/>
<circle cx="379.0" cy="755.2" r="3.75" fill="#000070"/>
<circle cx="368.1" cy="756.0" r="3.75" fill="#000070"/>
<circle cx="355.6" cy="758.8" r="3.75" fill="#000070"/>
<circle cx="379.0" cy="769.4" r="3.75" fill="#000070"/>
<circle cx="393.0" cy="778.4" r="3.75" fill="#000070"/>
<circle cx="400.8" cy="772.0" r="3.75" fill="#000070"/>
<circle cx="405.0" cy="777.5" r="3.75" fill="#000070"/>
<circle cx="358.9" cy="796.3" r="3.75" fill="#000070"/>
<circle cx="372.9" cy="799.1" r="3.75" fill="#000070"/>
<circle cx="396.8" cy="747.0" r="3.75" fill="#000083"/>
<circle cx="397.2" cy="747.8" r="3.75" fill="#000084"/>
<circle cx="397.7" cy="749.3" r="3.75" fill="#000086"/>
<circle cx="398.7" cy="751.5" r="3.75" fill="#000087"/>
<circle cx="399.5" cy="753.2" r="3.75" fill="#000088"/>
<circle cx="400.5" cy="754.4" r="3.75" fill="#000089"/>
<circle cx="402.3" cy="756.1" r="3.75" fill="#00008b"/>
<circle cx="402.5" cy="757.6" r="3.75" fill="#00008d"/>
<circle cx="404.9" cy="759.4" r="3.75" fill="#00008f"/>
<circle cx="405.8" cy="760.6" r="3.75" fill="#000091"/>
<circle cx="406.6" cy="762.1" r="3.75" fill="#000092"/>
<circle cx="408.6" cy="762.7" r="3.75" fill="#000094"/>
<circle cx="408.5" cy="764.6" r="3.75" fill="#000096"/>
<circle cx="401.3" cy="759.1" r="3.75" fill="#000096"/>
<circle cx="403.1" cy="760.6" r="3.75" fill="#000097"/>
<circle cx="405.6" cy="761.7" r="3.75" fill="#000098"/>
<circle cx="405.9" cy="763.0" r="3.75" fill="#000099"/>
<circle cx="407.9" cy="764.5" r="3.75" fill="#00009a"/>
<circle cx="408.3" cy="764.9" r="3.75" fill="#00009b"/>
<circle cx="409.6" cy="767.0" r="3.75" fill="#00009c"/>
<circle cx="410.3" cy="766.9" r="3.75" fill="#00009d"/>
<circle cx="411.8" cy="769.0" r="3.75" fill="#00009e"/>
<circle cx="413.3" cy="769.5" r="3.75" fill="#00009f"/>
<circle cx="414.0" cy="772.1" r="3.75" fill="#0000a0"/>
<circle cx="415.7" cy="773.0" r="3.75" fill="#0000a1"/>
<circle cx="415.8" cy="774.7" r="3.75" fill="#0000a2"/>
<circle cx="417.6" cy="775.3" r="3.75" fill="#0000a3"/>
<circle cx="419.1" cy="777.4" r="3.75" fill="#0000a4"/>
<circle cx="419.2" cy="777.8" r="3.75" fill="#0000a5"/>
<circle cx="421.5" cy="779.3" r="3.75" fill="#0000a6"/>
<circle cx="422.5" cy="780.0" r="3.75" fill="#0000a8"/>
<circle cx="423.6" cy="781.1" r="3.75" fill="#0000a9"/>
<circle cx="425.7" cy="781.5" r="3.75" fill="#0000aa"/>
<circle cx="426.0" cy="784.5" r="3.75" fill="#0000ab"/>
<circle cx="427.9" cy="784.9" r="3.75" fill="#0000ac"/>
<circle cx="428.9" cy="786.3" r="3.75" fill="#0000ad"/>
<circle cx="430.9" cy="787.7" r="3.75" fill="#0000ae"/>
<circle cx="432.0" cy="786.9" r="3.75" fill="#0000af"/>
<circle cx="434.3" cy="787.1" r="3.75" fill="#0000b1"/>
<circle cx="435.6" cy="789.6" r="3.75" fill="#0000b2"/>
<circle cx="436.4" cy="789.8" r="3.75" fill="#0000b3"/>
<circle cx="438.2" cy="790.2" r="3.75" fill="#0000b4"/>
<circle cx="440.4" cy="789.6" r="3.75" fill="#0000b5"/>
<circle cx="441.3" cy="789.7" r="3.75" fill="#0000b7"/>
<circle cx="443.7" cy="790.2" r="3.75" fill="#0000b8"/>
<circle cx="444.7" cy="790.0" r="3.75" fill="#0000b9"/>
<circle cx="446.9" cy="790.2" r="3.75" fill="#0000ba"/>
<circle cx="449.2" cy="790.4" r="3.75" fill="#0000bb"/>
<circle cx="450.3" cy="790.6" r="3.75" fill="#0000bc"/>
<circle cx="451.9" cy="793.0" r="3.75" fill="#0000bd"/>
<circle cx="453.9" cy="792.9" r="3.75" fill="#0000bf"/>
<circle cx="456.4" cy="791.3" r="3.75" fill="#0000c0"/>
<circle cx="457.8" cy="791.4" r="3.75" fill="#0000c1"/>
<circle cx="459.7" cy="792.2" r="3.75" fill="#0000c2"/>
<circle cx="460.4" cy="792.2" r="3.75" fill="#0000c4"/>
<circle cx="461.7" cy="791.2" r="3.75" fill="#0000c5"/>
<circle cx="462.0" cy="789.3" r="3.75" fill="#0000c7"/>
<circle cx="464.0" cy="789.7" r="3.75" fill="#0000c8"/>
<circle cx="465.8" cy="788.2" r="3.75" fill="#0000ca"/>
<circle cx="465.0" cy="785.4" r="3.75" fill="#0000cb"/>
<circle cx="466.9" cy="784.0" r="3.75" fill="#0000cc"/>
<circle cx="467.1" cy="782.3" r="3.75" fill="#0000ce"/>
<circle cx="468.9" cy="781.4" r="3.75" fill="#0000cf"/>
<circle cx="470.6" cy="781.0" r="3.75" fill="#0000d1"/>
<circle cx="470.9" cy="777.5" r="3.75" fill="#0000d3"/>
<circle cx="471.7" cy="777.1" r="3.75" fill="#0000d4"/>
<circle cx="473.0" cy="777.6" r="3.75" fill="#0000d6"/>
<circle cx="475.5" cy="778.9" r="3.75" fill="#0000d8"/>
<circle cx="474.2" cy="780.4" r="3.75" fill="#0000d9"/>
<circle cx="477.7" cy="781.4" r="3.75" fill="#0000db"/>
<circle cx="478.7" cy="783.0" r="3.75" fill="#0000dc"/>
<circle cx="472.2" cy="797.0" r="3.75" fill="#0000ef"/>
<circle cx="473.5" cy="796.6" r="3.75" fill="#0000ef"/>
<circle cx="475.5" cy="795.6" r="3.75" fill="#0000ef"/>
<circle cx="477.9" cy="795.0" r="3.75" fill="#0000ef"/>
<circle cx="477.3" cy="790.0" r="3.75" fill="#0000ef"/>
<circle cx="479.5" cy="792.8" r="3.75" fill="#0000ef"/>
<circle cx="482.4" cy="791.8" r="3.75" fill="#0000ef"/>
<circle cx="483.8" cy="794.3" r="3.75" fill="#0000ef"/>
<circle cx="485.2" cy="793.0" r="3.75" fill="#0000ef"/>
<circle cx="488.7" cy="796.8" r="3.75" fill="#0000ef"/>
<circle cx="490.8" cy="795.4" r="3.75" fill="#0000ef"/>
<circle cx="491.9" cy="797.1" r="3.75" fill="#0000ef"/>
<circle cx="479.6" cy="765.0" r="3.75" fill="#0000e2"/>
<circle cx="480.1" cy="764.0" r="3.75" fill="#0000e2"/>
<circle cx="484.1" cy="761.5" r="3.75" fill="#0000e2"/>
<circle cx="486.5" cy="762.6" r="3.75" fill="#0000e2"/>
<circle cx="401.0" cy="773.3" r="3.75" fill="#000080"/>
<circle cx="402.3" cy="773.7" r="3.75" fill="#000080"/>
<circle cx="403.6" cy="775.3" r="3.75" fill="#000080"/>
<circle cx="405.6" cy="776.7" r="3.75" fill="#000080"/>
<circle cx="405.4" cy="778.0" r="3.75" fill="#000080"/>
<circle cx="405.1" cy="780.3" r="3.75" fill="#000080"/>
<circle cx="403.4" cy="781.7" r="3.75" fill="#000080"/>
<circle cx="405.4" cy="782.3" r="3.75" fill="#000080"/>
<circle cx="405.0" cy="785.5" r="3.75" fill="#000080"/>
<circle cx="407.3" cy="785.8" r="3.75" fill="#000080"/>
<circle cx="407.9" cy="787.6" r="3.75" fill="#000080"/>
<circle cx="410.1" cy="789.8" r="3.75" fill="#000080"/>
<circle cx="412.1" cy="787.6" r="3.75" fill="#000080"/>
<circle cx="412.3" cy="790.6" r="3.75" fill="#000080"/>
<circle cx="414.5" cy="791.3" r="3.75" fill="#000080"/>
<circle cx="414.9" cy="792.2" r="3.75" fill="#000080"/>
<circle cx="416.3" cy="791.5" r="3.75" fill="#000080"/>
<circle cx="418.9" cy="790.5" r="3.75" fill="#000080"/>
<circle cx="418.6" cy="789.5" r="3.75" fill="#000080"/>
<circle cx="419.2" cy="786.2" r="3.75" fill="#000080"/>
<circle cx="421.5" cy="787.1" r="3.75" fill="#000080"/>
<circle cx="422.8" cy="785.4" r="3.75" fill="#000080"/>
<circle cx="423.3" cy="786.4" r="3.75" fill="#000080"/>
<circle cx="423.9" cy="788.3" r="3.75" fill="#000080"/>
<circle cx="424.4" cy="790.2" r="3.75" fill="#000080"/>
<circle cx="425.9" cy="792.7" r="3.75" fill="#000080"/>
<circle cx="427.8" cy="793.6" r="3.75" fill="#000080"/>
<circle cx="429.3" cy="795.1" r="3.75" fill="#000080"/>
<circle cx="428.6" cy="798.1" r="3.75" fill="#000080"/>
<circle cx="425.2" cy="797.8" r="3.75" fill="#000080"/>
<circle cx="425.3" cy="799.9" r="3.75" fill="#000080"/>
<circle cx="426.5" cy="802.1" r="3.75" fill="#000080"/>
<circle cx="429.1" cy="801.9" r="3.75" fill="#000080"/>
<circle cx="428.1" cy="804.2" r="3.75" fill="#000080"/>
<circle cx="428.7" cy="806.4" r="3.75" fill="#000080"/>
<circle cx="430.9" cy="807.5" r="3.75" fill="#000080"/>
<circle cx="431.1" cy="809.2" r="3.75" fill="#000080"/>
<circle cx="431.7" cy="810.2" r="3.75" fill="#000080"/>
<circle cx="434.0" cy="810.7" r="3.75" fill="#000080"/>
<circle cx="433.9" cy="812.2" r="3.75" fill="#000080"/>
<circle cx="434.0" cy="814.5" r="3.75" fill="#000080"/>
<circle cx="436.4" cy="815.7" r="3.75" fill="#000080"/>
<circle cx="435.5" cy="817.2" r="3.75" fill="#000080"/>
<circle cx="435.6" cy="819.2" r="3.75" fill="#000080"/>
<circle cx="435.0" cy="819.7" r="3.75" fill="#000080"/>
<circle cx="435.9" cy="822.5" r="3.75" fill="#000080"/>
<circle cx="435.7" cy="823.2" r="3.75" fill="#000080"/>
<circle cx="434.5" cy="826.1" r="3.75" fill="#000080"/>
<circle cx="434.3" cy="828.0" r="3.75" fill="#000080"/>
<circle cx="435.6" cy="829.0" r="3.75" fill="#000080"/>
<circle cx="434.5" cy="830.9" r="3.75" fill="#000080"/>
<circle cx="433.2" cy="832.5" r="3.75" fill="#000080"/>
<circle cx="434.6" cy="834.2" r="3.75" fill="#000080"/>
<circle cx="434.4" cy="837.3" r="3.75" fill="#000080"/>
<circle cx="434.6" cy="838.5" r="3.75" fill="#000080"/>
<circle cx="436.4" cy="839.3" r="3.75" fill="#000080"/>
<circle cx="437.1" cy="840.9" r="3.75" fill="#000080"/>
<circle cx="440.0" cy="843.2" r="3.75" fill="#000080"/>
<circle cx="437.9" cy="844.5" r="3.75" fill="#000080"/>
<circle cx="438.9" cy="847.0" r="3.75" fill="#000080"/>
<circle cx="439.0" cy="848.5" r="3.75" fill="#000080"/>
<circle cx="438.7" cy="849.2" r="3.75" fill="#000080"/>
<circle cx="440.4" cy="852.5" r="3.75" fill="#000080"/>
<circle cx="439.4" cy="853.6" r="3.75" fill="#000080"/>
<circle cx="442.1" cy="855.9" r="3.75" fill="#000080"/>
<circle cx="414.3" cy="851.7" r="3.75" fill="#000083"/>
<circle cx="414.4" cy="853.2" r="3.75" fill="#000085"/>
<circle cx="415.8" cy="853.8" r="3.75" fill="#000086"/>
<circle cx="414.6" cy="857.1" r="3.75" fill="#000088"/>
<circle cx="417.1" cy="856.5" r="3.75" fill="#000089"/>
<circle cx="417.1" cy="859.7" r="3.75" fill="#00008c"/>
<circle cx="417.3" cy="860.8" r="3.75" fill="#00008e"/>
<circle cx="419.1" cy="862.0" r="3.75" fill="#000091"/>
<circle cx="420.1" cy="863.9" r="3.75" fill="#000094"/>
<circle cx="421.9" cy="864.3" r="3.75" fill="#000097"/>
<circle cx="422.1" cy="865.9" r="3.75" fill="#00009a"/>
<circle cx="421.9" cy="868.4" r="3.75" fill="#00009c"/>
<circle cx="422.2" cy="869.7" r="3.75" fill="#00009f"/>
<circle cx="422.7" cy="871.5" r="3.75" fill="#0000a2"/>
<circle cx="421.8" cy="873.9" r="3.75" fill="#0000a5"/>
<circle cx="422.3" cy="875.3" r="3.75" fill="#0000a8"/>
<circle cx="424.0" cy="876.9" r="3.75" fill="#0000ab"/>
<circle cx="424.2" cy="878.3" r="3.75" fill="#0000ae"/>
<circle cx="426.7" cy="879.1" r="3.75" fill="#0000b0"/>
<circle cx="426.2" cy="876.3" r="3.75" fill="#0000b3"/>
<circle cx="428.9" cy="877.9" r="3.75" fill="#0000b5"/>
<circle cx="429.0" cy="874.6" r="3.75" fill="#0000b6"/>
<circle cx="431.0" cy="875.0" r="3.75" fill="#0000b8"/>
<circle cx="432.4" cy="873.1" r="3.75" fill="#0000b9"/>
<circle cx="432.3" cy="871.7" r="3.75" fill="#0000ba"/>
<circle cx="434.0" cy="871.0" r="3.75" fill="#0000bb"/>
<circle cx="434.9" cy="868.7" r="3.75" fill="#0000bd"/>
<circle cx="434.8" cy="867.3" r="3.75" fill="#0000be"/>
<circle cx="439.0" cy="867.0" r="3.75" fill="#0000c0"/>
<circle cx="437.8" cy="864.0" r="3.75" fill="#0000c2"/>
<circle cx="439.8" cy="863.7" r="3.75" fill="#0000c3"/>
<circle cx="439.0" cy="861.5" r="3.75" fill="#0000c5"/>
<circle cx="440.7" cy="859.6" r="3.75" fill="#0000c6"/>
<circle cx="441.6" cy="858.1" r="3.75" fill="#0000c7"/>
<circle cx="442.7" cy="857.1" r="3.75" fill="#0000c8"/>
<circle cx="443.2" cy="855.4" r="3.75" fill="#0000ca"/>
<circle cx="444.0" cy="853.9" r="3.75" fill="#0000cc"/>
<circle cx="445.9" cy="852.1" r="3.75" fill="#0000cf"/>
<circle cx="447.8" cy="851.8" r="3.75" fill="#0000d1"/>
<circle cx="449.2" cy="851.6" r="3.75" fill="#0000d4"/>
<circle cx="448.6" cy="850.1" r="3.75" fill="#0000d6"/>
<circle cx="449.2" cy="847.1" r="3.75" fill="#0000d7"/>
<circle cx="451.3" cy="846.7" r="3.75" fill="#0000d9"/>
<circle cx="449.7" cy="844.7" r="3.75" fill="#0000da"/>
<circle cx="451.2" cy="842.2" r="3.75" fill="#0000dc"/>
<circle cx="453.3" cy="842.6" r="3.75" fill="#0000dd"/>
<circle cx="452.8" cy="840.9" r="3.75" fill="#0000de"/>
<circle cx="454.6" cy="839.7" r="3.75" fill="#0000e0"/>
<circle cx="454.6" cy="835.9" r="3.75" fill="#0000e1"/>
<circle cx="455.9" cy="834.7" r="3.75" fill="#0000e2"/>
<circle cx="457.6" cy="834.9" r="3.75" fill="#0000e4"/>
<circle cx="457.9" cy="833.3" r="3.75" fill="#0000e5"/>
<circle cx="459.1" cy="830.6" r="3.75" fill="#0000e7"/>
<circle cx="460.9" cy="829.4" r="3.75" fill="#0000e8"/>
<circle cx="460.4" cy="828.2" r="3.75" fill="#0000ea"/>
<circle cx="460.0" cy="826.1" r="3.75" fill="#0000ec"/>
<circle cx="460.4" cy="823.6" r="3.75" fill="#0000ee"/>
<circle cx="460.3" cy="821.4" r="3.75" fill="#0000ef"/>
<circle cx="460.1" cy="821.2" r="3.75" fill="#0000ef"/>
<circle cx="462.2" cy="819.5" r="3.75" fill="#0000ef"/>
<circle cx="463.1" cy="817.9" r="3.75" fill="#0000ef"/>
<circle cx="463.6" cy="817.0" r="3.75" fill="#0000ef"/>
<circle cx="465.3" cy="815.0" r="3.75" fill="#0000ef"/>
<circle cx="464.4" cy="813.5" r="3.75" fill="#0000ef"/>
<circle cx="465.7" cy="812.0" r="3.75" fill="#0000ef"/>
<circle cx="460.0" cy="801.8" r="3.75" fill="#0000e2"/>
<circle cx="459.0" cy="804.5" r="3.75" fill="#0000e2"/>
<circle cx="457.6" cy="807.2" r="3.75" fill="#0000e2"/>
<circle cx="474.5" cy="804.8" r="3.75" fill="#0000e9"/>
<circle cx="457.0" cy="818.1" r="3.75" fill="#0000e9"/>
<circle cx="448.6" cy="825.8" r="3.75" fill="#0000e9"/>
<circle cx="447.2" cy="835.0" r="3.75" fill="#0000e9"/>
<circle cx="356.1" cy="760.0" r="3.75" fill="#000070"/>
<circle cx="379.2" cy="769.5" r="3.75" fill="#000070"/>
<circle cx="393.0" cy="778.6" r="3.75" fill="#000070"/>
<circle cx="358.9" cy="796.4" r="3.75" fill="#000070"/>
<circle cx="372.9" cy="798.9" r="3.75" fill="#000070"/>
<circle cx="388.6" cy="796.1" r="3.75" fill="#000070"/>
<circle cx="389.3" cy="808.3" r="3.75" fill="#000070"/>
<circle cx="403.0" cy="830.5" r="3.75" fill="#000070"/>
<circle cx="412.1" cy="843.8" r="3.75" fill="#000070"/>
<circle cx="447.2" cy="810.7" r="3.75" fill="#000070"/>
<circle cx="441.6" cy="825.1" r="3.75" fill="#000070"/>
<circle cx="452.8" cy="828.6" r="3.75" fill="#000070"/>
<circle cx="459.8" cy="829.6" r="3.75" fill="#000070"/>
<circle cx="474.2" cy="830.5" r="3.75" fill="#000070"/>
<circle cx="475.2" cy="836.8" r="3.75" fill="#000070"/>
<circle cx="479.7" cy="842.7" r="3.75" fill="#000070"/>
<circle cx="489.2" cy="834.7" r="3.75" fill="#000070"/>
<circle cx="530.2" cy="659.1" r="3.75" fill="#0000cf"/>
<circle cx="529.5" cy="660.9" r="3.75" fill="#0000cf"/>
<circle cx="526.0" cy="663.1" r="3.75" fill="#0000cf"/>
<circle cx="526.0" cy="666.9" r="3.75" fill="#0000cf"/>
<circle cx="524.1" cy="669.2" r="3.75" fill="#0000cf"/>
<circle cx="524.6" cy="671.7" r="3.75" fill="#0000cf"/>
<circle cx="527.5" cy="674.1" r="3.75" fill="#0000cf"/>
<circle cx="529.9" cy="676.0" r="3.75" fill="#0000cf"/>
<circle cx="529.3" cy="677.6" r="3.75" fill="#0000cf"/>
<circle cx="528.3" cy="680.3" r="3.75" fill="#0000cf"/>
<circle cx="524.5" cy="682.0" r="3.75" fill="#0000cf"/>
<circle cx="521.8" cy="680.8" r="3.75" fill="#0000cf"/>
<circle cx="518.6" cy="682.3" r="3.75" fill="#0000cf"/>
<circle cx="517.8" cy="684.3" r="3.75" fill="#0000cf"/>
<circle cx="519.3" cy="686.3" r="3.75" fill="#0000cf"/>
<circle cx="522.3" cy="686.8" r="3.75" fill="#0000cf"/>
<circle cx="523.9" cy="688.6" r="3.75" fill="#0000cf"/>
<circle cx="522.0" cy="688.7" r="3.75" fill="#0000cf"/>
<circle cx="519.9" cy="690.9" r="3.75" fill="#0000cf"/>
<circle cx="515.9" cy="693.2" r="3.75" fill="#0000cf"/>
<circle cx="513.7" cy="693.2" r="3.75" fill="#0000cf"/>
<circle cx="515.0" cy="696.6" r="3.75" fill="#0000cf"/>
<circle cx="517.6" cy="699.6" r="3.75" fill="#0000cf"/>
<circle cx="515.4" cy="700.7" r="3.75" fill="#0000cf"/>
<circle cx="512.2" cy="702.0" r="3.75" fill="#0000cf"/>
<circle cx="509.1" cy="703.3" r="3.75" fill="#0000cf"/>
<circle cx="508.2" cy="704.6" r="3.75" fill="#0000cf"/>
<circle cx="510.5" cy="706.7" r="3.75" fill="#0000cf"/>
<circle cx="512.6" cy="708.4" r="3.75" fill="#0000cf"/>
<circle cx="512.4" cy="710.7" r="3.75" fill="#0000cf"/>
<circle cx="510.5" cy="710.9" r="3.75" fill="#0000cf"/>
<circle cx="508.0" cy="713.1" r="3.75" fill="#0000cf"/>
<circle cx="507.5" cy="714.8" r="3.75" fill="#0000cf"/>
<circle cx="510.4" cy="715.4" r="3.75" fill="#0000cf"/>
<circle cx="502.4" cy="724.2" r="3.75" fill="#0000cf"/>
<circle cx="496.8" cy="733.3" r="3.75" fill="#0000cf"/>
<circle cx="503.1" cy="737.0" r="3.75" fill="#0000cf"/>
<circle cx="489.5" cy="739.0" r="3.75" fill="#0000cf"/>
<circle cx="490.7" cy="742.7" r="3.75" fill="#0000cf"/>
<circle cx="492.4" cy="745.5" r="3.75" fill="#0000cf"/>
<circle cx="490.4" cy="749.1" r="3.75" fill="#0000cf"/>
<circle cx="487.3" cy="751.1" r="3.75" fill="#0000cf"/>
<circle cx="485.2" cy="759.6" r="3.75" fill="#0000cf"/>
<circle cx="485.5" cy="764.0" r="3.75" fill="#0000cf"/>
<circle cx="483.1" cy="765.1" r="3.75" fill="#0000cf"/>
<circle cx="478.7" cy="766.8" r="3.75" fill="#0000cf"/>
<circle cx="479.1" cy="767.7" r="3.75" fill="#0000cf"/>
<circle cx="482.0" cy="770.5" r="3.75" fill="#0000cf"/>
<circle cx="473.2" cy="777.3" r="3.75" fill="#0000c3"/>
<circle cx="473.2" cy="777.6" r="3.75" fill="#0000c3"/>
<circle cx="477.8" cy="779.1" r="3.75" fill="#0000c3"/>
<circle cx="476.5" cy="783.3" r="3.75" fill="#0000c3"/>
<circle cx="474.9" cy="784.1" r="3.75" fill="#0000c3"/>
<circle cx="473.9" cy="783.4" r="3.75" fill="#0000c3"/>
<circle cx="471.8" cy="785.3" r="3.75" fill="#0000c3"/>
<circle cx="469.8" cy="785.5" r="3.75" fill="#0000c3"/>
<circle cx="467.0" cy="789.2" r="3.75" fill="#0000c3"/>
<circle cx="466.3" cy="789.3" r="3.75" fill="#0000c3"/>
<circle cx="463.9" cy="791.3" r="3.75" fill="#0000c3"/>
<circle cx="465.3" cy="794.4" r="3.75" fill="#0000c3"/>
<circle cx="463.2" cy="797.9" r="3.75" fill="#0000c3"/>
<circle cx="463.7" cy="799.7" r="3.75" fill="#0000c3"/>
<circle cx="459.3" cy="801.6" r="3.75" fill="#0000c3"/>
<circle cx="460.3" cy="802.1" r="3.75" fill="#0000c3"/>
<circle cx="459.4" cy="805.8" r="3.75" fill="#0000c3"/>
<circle cx="457.0" cy="808.2" r="3.75" fill="#0000c3"/>
<circle cx="431.9" cy="789.4" r="3.75" fill="#0000bc"/>
<circle cx="433.6" cy="791.3" r="3.75" fill="#0000bc"/>
<circle cx="436.8" cy="792.5" r="3.75" fill="#0000bc"/>
<circle cx="437.8" cy="790.3" r="3.75" fill="#0000bc"/>
<circle cx="439.9" cy="791.4" r="3.75" fill="#0000bc"/>
<circle cx="441.6" cy="790.5" r="3.75" fill="#0000bc"/>
<circle cx="444.2" cy="792.1" r="3.75" fill="#0000bc"/>
<circle cx="445.9" cy="793.5" r="3.75" fill="#0000bc"/>
<circle cx="446.5" cy="793.0" r="3.75" fill="#0000bc"/>
<circle cx="449.9" cy="793.3" r="3.75" fill="#0000bc"/>
<circle cx="451.4" cy="792.4" r="3.75" fill="#0000bc"/>
<circle cx="452.4" cy="794.3" r="3.75" fill="#0000bc"/>
<circle cx="455.0" cy="795.0" r="3.75" fill="#0000bc"/>
<circle cx="457.3" cy="793.6" r="3.75" fill="#0000bc"/>
<circle cx="458.5" cy="794.6" r="3.75" fill="#0000bc"/>
<circle cx="460.4" cy="793.1" r="3.75" fill="#0000bc"/>
<circle cx="475.3" cy="798.0" r="3.75" fill="#0000e9"/>
<circle cx="476.1" cy="795.7" r="3.75" fill="#0000e9"/>
<circle cx="477.8" cy="794.5" r="3.75" fill="#0000e9"/>
<circle cx="479.6" cy="791.0" r="3.75" fill="#0000e9"/>
<circle cx="480.1" cy="789.7" r="3.75" fill="#0000e9"/>
<circle cx="482.0" cy="792.0" r="3.75" fill="#0000e9"/>
<circle cx="482.6" cy="794.2" r="3.75" fill="#0000e9"/>
<circle cx="486.8" cy="795.4" r="3.75" fill="#0000e9"/>
<circle cx="488.9" cy="795.6" r="3.75" fill="#0000e9"/>
<circle cx="490.1" cy="798.8" r="3.75" fill="#0000e9"/>
<circle cx="490.7" cy="796.5" r="3.75" fill="#0000e9"/>
<circle cx="491.6" cy="793.4" r="3.75" fill="#0000e9"/>
<circle cx="493.6" cy="791.8" r="3.75" fill="#0000e9"/>
<circle cx="494.4" cy="791.0" r="3.75" fill="#0000e9"/>
<circle cx="496.8" cy="793.9" r="3.75" fill="#0000e9"/>
<circle cx="496.4" cy="797.6" r="3.75" fill="#0000e9"/>
<circle cx="497.8" cy="796.1" r="3.75" fill="#0000e9"/>
<circle cx="500.0" cy="795.2" r="3.75" fill="#0000e9"/>
<circle cx="502.6" cy="793.6" r="3.75" fill="#0000e9"/>
<circle cx="501.3" cy="788.8" r="3.75" fill="#0000e9"/>
<circle cx="503.7" cy="787.9" r="3.75" fill="#0000e9"/>
<circle cx="505.8" cy="791.9" r="3.75" fill="#0000e9"/>
<circle cx="508.8" cy="791.0" r="3.75" fill="#0000e9"/>
<circle cx="511.4" cy="791.7" r="3.75" fill="#0000e9"/>
<circle cx="512.0" cy="789.2" r="3.75" fill="#0000e9"/>
<circle cx="514.0" cy="787.1" r="3.75" fill="#0000e9"/>
<circle cx="515.2" cy="784.4" r="3.75" fill="#0000e9"/>
<circle cx="512.7" cy="782.4" r="3.75" fill="#0000e9"/>
<circle cx="515.4" cy="782.5" r="3.75" fill="#0000e9"/>
<circle cx="517.7" cy="783.0" r="3.75" fill="#0000e9"/>
<circle cx="519.8" cy="785.1" r="3.75" fill="#0000e9"/>
<circle cx="521.9" cy="783.1" r="3.75" fill="#0000e9"/>
<circle cx="520.8" cy="780.7" r="3.75" fill="#0000e9"/>
<circle cx="519.7" cy="778.4" r="3.75" fill="#0000e9"/>
<circle cx="519.7" cy="776.6" r="3.75" fill="#0000e9"/>
<circle cx="516.2" cy="776.5" r="3.75" fill="#0000e9"/>
<circle cx="517.5" cy="775.2" r="3.75" fill="#0000e9"/>
<circle cx="520.4" cy="772.7" r="3.75" fill="#0000e9"/>
<circle cx="523.3" cy="774.7" r="3.75" fill="#0000e9"/>
<circle cx="523.9" cy="775.7" r="3.75" fill="#0000e9"/>
<circle cx="474.4" cy="803.8" r="3.75" fill="#0000e9"/>
<circle cx="522.6" cy="755.4" r="3.75" fill="#0000ff"/>
<circle cx="525.0" cy="755.1" r="3.75" fill="#0000ff"/>
<circle cx="526.1" cy="752.3" r="3.75" fill="#0000ff"/>
<circle cx="526.4" cy="747.4" r="3.75" fill="#0000ff"/>
<circle cx="527.4" cy="747.6" r="3.75" fill="#0000ff"/>
<circle cx="530.0" cy="747.8" r="3.75" fill="#0000ff"/>
<circle cx="535.4" cy="746.9" r="3.75" fill="#0000ff"/>
<circle cx="534.0" cy="747.3" r="3.75" fill="#0000ff"/>
<circle cx="535.8" cy="751.6" r="3.75" fill="#0000ff"/>
<circle cx="536.2" cy="751.9" r="3.75" fill="#0000ff"/>
<circle cx="533.9" cy="757.4" r="3.75" fill="#0000ff"/>
<circle cx="532.4" cy="757.6" r="3.75" fill="#0000ff"/>
<circle cx="531.5" cy="759.7" r="3.75" fill="#0000ff"/>
<circle cx="529.9" cy="760.3" r="3.75" fill="#0000ff"/>
<circle cx="530.6" cy="756.4" r="3.75" fill="#0000ff"/>
<circle cx="530.3" cy="758.1" r="3.75" fill="#0000ff"/>
<circle cx="530.3" cy="760.4" r="3.75" fill="#0000ff"/>
<circle cx="530.6" cy="763.0" r="3.75" fill="#0000ff"/>
<circle cx="530.4" cy="767.9" r="3.75" fill="#0000ff"/>
<circle cx="529.7" cy="767.7" r="3.75" fill="#0000ff"/>
<circle cx="531.0" cy="763.6" r="3.75" fill="#0000ff"/>
<circle cx="530.2" cy="760.6" r="3.75" fill="#0000ff"/>
<circle cx="533.6" cy="762.7" r="3.75" fill="#0000ff"/>
<circle cx="538.8" cy="760.6" r="3.75" fill="#0000ff"/>
<circle cx="539.2" cy="759.1" r="3.75" fill="#0000ff"/>
<circle cx="540.8" cy="756.3" r="3.75" fill="#0000ff"/>
<circle cx="539.7" cy="752.0" r="3.75" fill="#0000ff"/>
<circle cx="541.7" cy="746.4" r="3.75" fill="#0000ff"/>
<circle cx="546.6" cy="740.5" r="3.75" fill="#0000ff"/>
<circle cx="540.3" cy="666.8" r="3.75" fill="#0000ff"/>
<circle cx="586.5" cy="657.4" r="3.75" fill="#0000ff"/>
<circle cx="569.7" cy="698.7" r="3.75" fill="#0000ff"/>
<circle cx="576.0" cy="704.3" r="3.75" fill="#0000ff"/>
<circle cx="572.1" cy="667.2" r="3.75" fill="#0000ff"/>
<circle cx="576.8" cy="665.7" r="3.75" fill="#0000ff"/>
<circle cx="576.9" cy="661.1" r="3.75" fill="#0000ff"/>
<circle cx="578.1" cy="664.5" r="3.75" fill="#0000ff"/>
<circle cx="578.1" cy="667.8" r="3.75" fill="#0000ff"/>
<circle cx="579.9" cy="668.8" r="3.75" fill="#0000ff"/>
<circle cx="584.3" cy="668.3" r="3.75" fill="#0000ff"/>
<circle cx="582.7" cy="671.9" r="3.75" fill="#0000ff"/>
<circle cx="578.9" cy="672.3" r="3.75" fill="#0000ff"/>
<circle cx="577.1" cy="672.4" r="3.75" fill="#0000ff"/>
<circle cx="574.8" cy="675.7" r="3.75" fill="#0000ff"/>
<circle cx="571.5" cy="674.8" r="3.75" fill="#0000ff"/>
<circle cx="570.7" cy="681.0" r="3.75" fill="#0000ff"/>
<circle cx="572.8" cy="676.0" r="3.75" fill="#0000ff"/>
<circle cx="575.2" cy="677.2" r="3.75" fill="#0000ff"/>
<circle cx="579.5" cy="675.6" r="3.75" fill="#0000ff"/>
<circle cx="579.2" cy="677.2" r="3.75" fill="#0000ff"/>
<circle cx="581.4" cy="680.2" r="3.75" fill="#0000ff"/>
<circle cx="554.4" cy="711.3" r="3.75" fill="#0000ff"/>
<circle cx="555.9" cy="710.1" r="3.75" fill="#0000ff"/>
<circle cx="559.5" cy="710.4" r="3.75" fill="#0000ff"/>
<circle cx="562.6" cy="709.0" r="3.75" fill="#0000ff"/>
<circle cx="562.2" cy="712.5" r="3.75" fill="#0000ff"/>
<circle cx="561.3" cy="715.6" r="3.75" fill="#0000ff"/>
<circle cx="561.9" cy="715.6" r="3.75" fill="#0000ff"/>
<circle cx="562.4" cy="717.1" r="3.75" fill="#0000ff"/>
<circle cx="566.3" cy="719.8" r="3.75" fill="#0000ff"/>
<circle cx="547.4" cy="656.7" r="3.75" fill="#000070"/>
<circle cx="548.8" cy="659.3" r="3.75" fill="#000070"/>
<circle cx="548.9" cy="660.2" r="3.75" fill="#000070"/>
<circle cx="548.2" cy="663.9" r="3.75" fill="#000070"/>
<circle cx="548.9" cy="664.6" r="3.75" fill="#000070"/>
<circle cx="549.1" cy="667.8" r="3.75" fill="#000070"/>
<circle cx="550.3" cy="670.1" r="3.75" fill="#000070"/>
<circle cx="549.4" cy="671.9" r="3.75" fill="#000070"/>
<circle cx="549.4" cy="674.3" r="3.75" fill="#000070"/>
<circle cx="549.8" cy="676.1" r="3.75" fill="#000070"/>
<circle cx="550.1" cy="677.1" r="3.75" fill="#000070"/>
<circle cx="553.2" cy="691.3" r="3.75" fill="#000070"/>
<circle cx="559.9" cy="701.5" r="3.75" fill="#000070"/>
<circle cx="557.8" cy="704.3" r="3.75" fill="#000070"/>
<circle cx="556.7" cy="726.3" r="3.75" fill="#000070"/>
<circle cx="569.7" cy="741.9" r="3.75" fill="#000070"/>
<circle cx="570.4" cy="747.8" r="3.75" fill="#000070"/>
<circle cx="569.3" cy="755.9" r="3.75" fill="#000070"/>
<circle cx="580.2" cy="773.7" r="3.75" fill="#000070"/>
<circle cx="583.7" cy="777.2" r="3.75" fill="#000070"/>
<circle cx="578.8" cy="782.8" r="3.75" fill="#000070"/>
<circle cx="585.1" cy="784.9" r="3.75" fill="#000070"/>
<circle cx="586.5" cy="790.5" r="3.75" fill="#000070"/>
<circle cx="586.5" cy="795.4" r="3.75" fill="#000070"/>
<circle cx="588.6" cy="800.3" r="3.75" fill="#000070"/>
<circle cx="566.9" cy="795.1" r="3.75" fill="#000070"/>
<circle cx="559.2" cy="798.2" r="3.75" fill="#000070"/>
<circle cx="552.2" cy="797.5" r="3.75" fill="#000070"/>
<circle cx="536.1" cy="797.2" r="3.75" fill="#000070"/>
<circle cx="531.9" cy="800.3" r="3.75" fill="#000070"/>
<circle cx="524.6" cy="805.2" r="3.75" fill="#000070"/>
<circle cx="520.7" cy="810.0" r="3.75" fill="#000070"/>
<circle cx="466.0" cy="809.4" r="3.75" fill="#000070"/>
<circle cx="446.4" cy="809.4" r="3.75" fill="#000070"/>
<circle cx="625.8" cy="809.0" r="3.75" fill="#0000f9"/>
<circle cx="625.6" cy="805.1" r="3.75" fill="#0000f9"/>
<circle cx="626.0" cy="802.9" r="3.75" fill="#0000f9"/>
<circle cx="624.3" cy="802.0" r="3.75" fill="#0000f9"/>
<circle cx="628.3" cy="799.7" r="3.75" fill="#0000f9"/>
<circle cx="626.7" cy="798.1" r="3.75" fill="#0000f9"/>
<circle cx="627.7" cy="794.6" r="3.75" fill="#0000f9"/>
<circle cx="630.3" cy="793.6" r="3.75" fill="#0000f9"/>
<circle cx="630.1" cy="792.8" r="3.75" fill="#0000f9"/>
<circle cx="630.0" cy="789.1" r="3.75" fill="#0000f9"/>
<circle cx="630.9" cy="787.8" r="3.75" fill="#0000f9"/>
<circle cx="630.7" cy="785.8" r="3.75" fill="#0000f9"/>
<circle cx="633.4" cy="782.8" r="3.75" fill="#0000f9"/>
<circle cx="632.0" cy="781.4" r="3.75" fill="#0000f9"/>
<circle cx="633.5" cy="779.2" r="3.75" fill="#0000f9"/>
<circle cx="635.9" cy="779.4" r="3.75" fill="#0000f9"/>
<circle cx="637.2" cy="776.9" r="3.75" fill="#0000f9"/>
<circle cx="638.9" cy="774.0" r="3.75" fill="#0000f9"/>
<circle cx="638.4" cy="773.1" r="3.75" fill="#0000f9"/>
<circle cx="639.8" cy="771.4" r="3.75" fill="#0000f9"/>
<circle cx="650.1" cy="755.2" r="3.75" fill="#0000f9"/>
<circle cx="650.3" cy="753.3" r="3.75" fill="#0000f9"/>
<circle cx="651.2" cy="749.9" r="3.75" fill="#0000f9"/>
<circle cx="649.3" cy="748.4" r="3.75" fill="#0000f9"/>
<circle cx="647.5" cy="746.6" r="3.75" fill="#0000f9"/>
<circle cx="648.6" cy="745.1" r="3.75" fill="#0000f9"/>
<circle cx="648.4" cy="742.2" r="3.75" fill="#0000f9"/>
<circle cx="649.6" cy="740.5" r="3.75" fill="#0000f9"/>
<circle cx="649.6" cy="738.6" r="3.75" fill="#0000f9"/>
<circle cx="650.0" cy="737.7" r="3.75" fill="#0000f9"/>
<circle cx="652.9" cy="735.4" r="3.75" fill="#0000f9"/>
<circle cx="653.1" cy="735.1" r="3.75" fill="#0000f9"/>
<circle cx="654.1" cy="733.4" r="3.75" fill="#0000f9"/>
<circle cx="655.4" cy="730.8" r="3.75" fill="#0000f9"/>
<circle cx="653.7" cy="728.9" r="3.75" fill="#0000f9"/>
<circle cx="653.1" cy="727.1" r="3.75" fill="#0000f9"/>
<circle cx="655.5" cy="724.2" r="3.75" fill="#0000f9"/>
<circle cx="658.0" cy="723.0" r="3.75" fill="#0000f9"/>
<circle cx="656.6" cy="721.4" r="3.75" fill="#0000f9"/>
<circle cx="654.7" cy="717.8" r="3.75" fill="#0000f9"/>
<circle cx="656.2" cy="716.4" r="3.75" fill="#0000f9"/>
<circle cx="661.4" cy="715.1" r="3.75" fill="#0000f9"/>
<circle cx="657.2" cy="713.7" r="3.75" fill="#0000f9"/>
<circle cx="656.8" cy="711.5" r="3.75" fill="#0000f9"/>
<circle cx="659.8" cy="709.9" r="3.75" fill="#0000f9"/>
<circle cx="662.2" cy="707.3" r="3.75" fill="#0000f9"/>
<circle cx="663.4" cy="706.2" r="3.75" fill="#0000f9"/>
<circle cx="662.0" cy="704.5" r="3.75" fill="#0000f9"/>
<circle cx="662.6" cy="701.1" r="3.75" fill="#0000f9"/>
<circle cx="662.9" cy="700.7" r="3.75" fill="#0000f9"/>
<circle cx="665.1" cy="698.2" r="3.75" fill="#0000f9"/>
<circle cx="667.0" cy="696.9" r="3.75" fill="#0000f9"/>
<circle cx="667.7" cy="694.4" r="3.75" fill="#0000f9"/>
<circle cx="663.1" cy="691.2" r="3.75" fill="#0000f9"/>
<circle cx="667.2" cy="691.5" r="3.75" fill="#0000f9"/>
<circle cx="666.1" cy="688.4" r="3.75" fill="#0000f9"/>
<circle cx="665.5" cy="686.9" r="3.75" fill="#0000f9"/>
<circle cx="667.1" cy="684.9" r="3.75" fill="#0000f9"/>
<circle cx="667.9" cy="683.0" r="3.75" fill="#0000f9"/>
<circle cx="669.1" cy="680.1" r="3.75" fill="#0000f9"/>
<circle cx="670.6" cy="679.8" r="3.75" fill="#0000f9"/>
<circle cx="670.3" cy="676.9" r="3.75" fill="#0000f9"/>
<circle cx="669.9" cy="675.9" r="3.75" fill="#0000f9"/>
<circle cx="674.1" cy="675.1" r="3.75" fill="#0000f9"/>
<circle cx="674.4" cy="671.6" r="3.75" fill="#0000f9"/>
<circle cx="675.8" cy="670.6" r="3.75" fill="#0000f9"/>
<circle cx="674.0" cy="667.3" r="3.75" fill="#0000f9"/>
<circle cx="675.3" cy="666.0" r="3.75" fill="#0000f9"/>
<circle cx="675.7" cy="664.7" r="3.75" fill="#0000f9"/>
<circle cx="675.7" cy="662.4" r="3.75" fill="#0000f9"/>
<circle cx="676.0" cy="660.7" r="3.75" fill="#0000f9"/>
<circle cx="678.0" cy="657.6" r="3.75" fill="#0000f9"/>
<circle cx="678.6" cy="656.9" r="3.75" fill="#0000f9"/>
<circle cx="661.4" cy="729.6" r="3.75" fill="#0000f9"/>
<circle cx="665.2" cy="673.1" r="3.75" fill="#0000a3"/>
<circle cx="668.5" cy="672.4" r="3.75" fill="#0000a3"/>
<circle cx="670.1" cy="672.5" r="3.75" fill="#0000a3"/>
<circle cx="674.0" cy="673.5" r="3.75" fill="#0000a3"/>
<circle cx="674.8" cy="674.7" r="3.75" fill="#0000a3"/>
<circle cx="677.4" cy="672.4" r="3.75" fill="#0000a3"/>
<circle cx="680.3" cy="673.1" r="3.75" fill="#0000a3"/>
<circle cx="680.9" cy="672.8" r="3.75" fill="#0000a3"/>
<circle cx="682.6" cy="675.2" r="3.75" fill="#0000a3"/>
<circle cx="681.6" cy="678.7" r="3.75" fill="#0000a3"/>
<circle cx="682.8" cy="680.9" r="3.75" fill="#0000a3"/>
<circle cx="685.0" cy="682.6" r="3.75" fill="#0000a3"/>
<circle cx="687.9" cy="683.9" r="3.75" fill="#0000a3"/>
<circle cx="688.3" cy="686.9" r="3.75" fill="#0000a3"/>
<circle cx="665.4" cy="725.2" r="3.75" fill="#00009c"/>
<circle cx="668.4" cy="723.7" r="3.75" fill="#00009c"/>
<circle cx="668.8" cy="723.9" r="3.75" fill="#00009c"/>
<circle cx="670.9" cy="725.2" r="3.75" fill="#00009d"/>
<circle cx="671.0" cy="723.9" r="3.75" fill="#00009f"/>
<circle cx="670.4" cy="721.6" r="3.75" fill="#0000a0"/>
<circle cx="671.3" cy="718.6" r="3.75" fill="#0000a2"/>
<circle cx="672.9" cy="718.5" r="3.75" fill="#0000a3"/>
<circle cx="672.6" cy="716.9" r="3.75" fill="#0000a3"/>
<circle cx="675.9" cy="715.9" r="3.75" fill="#0000a3"/>
<circle cx="676.3" cy="713.8" r="3.75" fill="#0000a3"/>
<circle cx="676.1" cy="712.2" r="3.75" fill="#0000a3"/>
<circle cx="677.3" cy="710.2" r="3.75" fill="#0000a4"/>
<circle cx="679.2" cy="708.3" r="3.75" fill="#0000a6"/>
<circle cx="679.7" cy="707.9" r="3.75" fill="#0000a8"/>
<circle cx="680.5" cy="706.6" r="3.75" fill="#0000a9"/>
<circle cx="681.5" cy="704.1" r="3.75" fill="#0000a9"/>
<circle cx="685.5" cy="705.6" r="3.75" fill="#0000a9"/>
<circle cx="684.9" cy="702.9" r="3.75" fill="#0000a9"/>
<circle cx="687.3" cy="703.0" r="3.75" fill="#0000ac"/>
<circle cx="688.1" cy="704.6" r="3.75" fill="#0000af"/>
<circle cx="688.8" cy="708.0" r="3.75" fill="#0000b0"/>
<circle cx="688.8" cy="709.4" r="3.75" fill="#0000b0"/>
<circle cx="687.9" cy="711.3" r="3.75" fill="#0000b0"/>
<circle cx="690.6" cy="713.2" r="3.75" fill="#0000b0"/>
<circle cx="691.1" cy="714.4" r="3.75" fill="#0000b0"/>
<circle cx="690.9" cy="717.2" r="3.75" fill="#0000b1"/>
<circle cx="690.0" cy="718.2" r="3.75" fill="#0000b2"/>
<circle cx="690.2" cy="719.7" r="3.75" fill="#0000b3"/>
<circle cx="690.5" cy="721.0" r="3.75" fill="#0000b4"/>
<circle cx="690.2" cy="724.4" r="3.75" fill="#0000b5"/>
<circle cx="690.6" cy="725.8" r="3.75" fill="#0000b6"/>
<circle cx="692.0" cy="726.7" r="3.75" fill="#0000b6"/>
<circle cx="690.8" cy="728.4" r="3.75" fill="#0000b6"/>
<circle cx="690.7" cy="730.9" r="3.75" fill="#0000b6"/>
<circle cx="690.3" cy="732.0" r="3.75" fill="#0000b6"/>
<circle cx="691.8" cy="733.8" r="3.75" fill="#0000b6"/>
<circle cx="692.7" cy="737.0" r="3.75" fill="#0000b7"/>
<circle cx="693.8" cy="737.1" r="3.75" fill="#0000b9"/>
<circle cx="690.9" cy="740.9" r="3.75" fill="#0000ba"/>
<circle cx="692.2" cy="742.7" r="3.75" fill="#0000bb"/>
<circle cx="692.7" cy="744.2" r="3.75" fill="#0000bd"/>
<circle cx="692.9" cy="744.4" r="3.75" fill="#0000be"/>
<circle cx="692.0" cy="747.1" r="3.75" fill="#0000bf"/>
<circle cx="693.5" cy="748.1" r="3.75" fill="#0000c1"/>
<circle cx="696.3" cy="750.1" r="3.75" fill="#0000c2"/>
<circle cx="695.2" cy="752.7" r="3.75" fill="#0000c3"/>
<circle cx="695.3" cy="753.8" r="3.75" fill="#0000c5"/>
<circle cx="697.7" cy="755.7" r="3.75" fill="#0000c6"/>
<circle cx="695.5" cy="758.2" r="3.75" fill="#0000c7"/>
<circle cx="696.3" cy="759.6" r="3.75" fill="#0000c9"/>
<circle cx="698.5" cy="759.4" r="3.75" fill="#0000ca"/>
<circle cx="701.0" cy="761.6" r="3.75" fill="#0000cc"/>
<circle cx="699.2" cy="763.7" r="3.75" fill="#0000ce"/>
<circle cx="701.1" cy="766.5" r="3.75" fill="#0000d0"/>
<circle cx="702.5" cy="767.9" r="3.75" fill="#0000d3"/>
<circle cx="700.3" cy="769.6" r="3.75" fill="#0000d7"/>
<circle cx="702.8" cy="771.5" r="3.75" fill="#0000da"/>
<circle cx="701.7" cy="772.9" r="3.75" fill="#0000dd"/>
<circle cx="700.4" cy="774.9" r="3.75" fill="#0000e0"/>
<circle cx="700.4" cy="777.0" r="3.75" fill="#0000e3"/>
<circle cx="697.8" cy="777.9" r="3.75" fill="#0000e6"/>
<circle cx="698.8" cy="779.7" r="3.75" fill="#0000e9"/>
<circle cx="697.6" cy="781.3" r="3.75" fill="#0000eb"/>
<circle cx="698.1" cy="783.4" r="3.75" fill="#0000ec"/>
<circle cx="698.4" cy="785.5" r="3.75" fill="#0000ee"/>
<circle cx="697.1" cy="786.1" r="3.75" fill="#0000f0"/>
<circle cx="700.8" cy="789.0" r="3.75" fill="#0000f1"/>
<circle cx="699.0" cy="790.8" r="3.75" fill="#0000f3"/>
<circle cx="698.3" cy="792.9" r="3.75" fill="#0000f5"/>
<circle cx="697.5" cy="793.5" r="3.75" fill="#0000f6"/>
<circle cx="697.8" cy="795.7" r="3.75" fill="#0000f7"/>
<circle cx="696.6" cy="797.8" r="3.75" fill="#0000f8"/>
<circle cx="694.4" cy="798.5" r="3.75" fill="#0000f9"/>
<circle cx="687.5" cy="656.0" r="3.75" fill="#0000a3"/>
<circle cx="687.7" cy="659.0" r="3.75" fill="#0000a3"/>
<circle cx="687.8" cy="661.5" r="3.75" fill="#0000a3"/>
<circle cx="688.2" cy="663.1" r="3.75" fill="#0000a3"/>
<circle cx="690.5" cy="665.1" r="3.75" fill="#0000a3"/>
<circle cx="689.2" cy="666.9" r="3.75" fill="#0000a3"/>
<circle cx="689.8" cy="669.8" r="3.75" fill="#0000a3"/>
<circle cx="691.6" cy="672.9" r="3.75" fill="#0000a3"/>
<circle cx="691.9" cy="675.1" r="3.75" fill="#0000a3"/>
<circle cx="693.0" cy="712.0" r="3.75" fill="#0000a3"/>
<circle cx="694.4" cy="691.0" r="3.75" fill="#0000a3"/>
<circle cx="699.3" cy="700.6" r="3.75" fill="#0000a3"/>
<circle cx="703.5" cy="727.4" r="3.75" fill="#0000a3"/>
<circle cx="698.6" cy="740.8" r="3.75" fill="#0000a3"/>
<circle cx="632.7" cy="658.8" r="3.75" fill="#000070"/>
<circle cx="637.6" cy="664.4" r="3.75" fill="#000070"/>
<circle cx="630.9" cy="672.4" r="3.75" fill="#000070"/>
<circle cx="647.4" cy="696.2" r="3.75" fill="#000070"/>
<circle cx="652.3" cy="703.6" r="3.75" fill="#000070"/>
<circle cx="650.0" cy="713.4" r="3.75" fill="#000070"/>
<circle cx="654.9" cy="738.7" r="3.75" fill="#000070"/>
<circle cx="655.1" cy="726.7" r="3.75" fill="#000070"/>
<circle cx="643.2" cy="761.1" r="3.75" fill="#000070"/>
<circle cx="646.0" cy="754.1" r="3.75" fill="#000070"/>
<circle cx="643.2" cy="771.6" r="3.75" fill="#000070"/>
<circle cx="640.4" cy="782.8" r="3.75" fill="#000070"/>
<circle cx="649.3" cy="782.8" r="3.75" fill="#000070"/>
<circle cx="594.6" cy="752.7" r="3.75" fill="#000070"/>
<circle cx="597.3" cy="762.1" r="3.75" fill="#000070"/>
<circle cx="592.8" cy="768.8" r="3.75" fill="#000070"/>
<circle cx="597.0" cy="773.0" r="3.75" fill="#000070"/>
<circle cx="668.9" cy="753.1" r="3.75" fill="#000070"/>
<circle cx="666.4" cy="756.2" r="3.75" fill="#000070"/>
<circle cx="667.1" cy="762.1" r="3.75" fill="#000070"/>
<circle cx="673.8" cy="768.8" r="3.75" fill="#000070"/>
<circle cx="674.1" cy="775.1" r="3.75" fill="#000070"/>
<circle cx="610.6" cy="782.8" r="3.75" fill="#000070"/>
<circle cx="612.4" cy="784.8" r="3.75" fill="#000070"/>
<circle cx="616.3" cy="783.4" r="3.75" fill="#000070"/>
<circle cx="619.4" cy="784.2" r="3.75" fill="#000070"/>
<circle cx="621.8" cy="784.0" r="3.75" fill="#000070"/>
<circle cx="624.9" cy="783.4" r="3.75" fill="#000070"/>
<circle cx="627.3" cy="781.4" r="3.75" fill="#000070"/>
<circle cx="629.9" cy="779.3" r="3.75" fill="#000070"/>
<circle cx="631.9" cy="777.3" r="3.75" fill="#000070"/>
<circle cx="654.6" cy="776.9" r="3.75" fill="#000070"/>
<circle cx="656.5" cy="779.2" r="3.75" fill="#000070"/>
<circle cx="657.7" cy="781.6" r="3.75" fill="#000070"/>
<circle cx="660.7" cy="783.3" r="3.75" fill="#000070"/>
<circle cx="662.0" cy="781.2" r="3.75" fill="#000070"/>
<circle cx="663.2" cy="778.6" r="3.75" fill="#000070"/>
<circle cx="665.8" cy="776.6" r="3.75" fill="#000070"/>
<circle cx="668.7" cy="777.3" r="3.75" fill="#000070"/>
<circle cx="670.8" cy="775.6" r="3.75" fill="#000070"/>
<circle cx="674.7" cy="774.6" r="3.75" fill="#000070"/>
<circle cx="675.2" cy="778.6" r="3.75" fill="#000070"/>
<circle cx="675.7" cy="780.2" r="3.75" fill="#000070"/>
<circle cx="672.3" cy="781.8" r="3.75" fill="#000070"/>
<circle cx="679.0" cy="789.2" r="3.75" fill="#000083"/>
<circle cx="682.3" cy="786.2" r="3.75" fill="#000083"/>
<circle cx="684.5" cy="787.5" r="3.75" fill="#000083"/>
<circle cx="686.6" cy="789.2" r="3.75" fill="#000083"/>
<circle cx="689.2" cy="790.6" r="3.75" fill="#000083"/>
<circle cx="692.6" cy="791.4" r="3.75" fill="#000083"/>
<circle cx="679.7" cy="794.7" r="3.75" fill="#000083"/>
<circle cx="683.2" cy="803.1" r="3.75" fill="#000083"/>
<circle cx="688.1" cy="807.3" r="3.75" fill="#000083"/>
<circle cx="590.9" cy="796.3" r="3.75" fill="#000083"/>
<circle cx="591.6" cy="798.0" r="3.75" fill="#000083"/>
<circle cx="593.5" cy="798.8" r="3.75" fill="#000083"/>
<circle cx="594.7" cy="800.6" r="3.75" fill="#000083"/>
<circle cx="596.2" cy="802.4" r="3.75" fill="#000083"/>
<circle cx="598.2" cy="804.3" r="3.75" fill="#000083"/>
<circle cx="599.4" cy="805.9" r="3.75" fill="#000083"/>
<circle cx="602.7" cy="807.0" r="3.75" fill="#000083"/>
<circle cx="604.3" cy="807.5" r="3.75" fill="#000083"/>
<circle cx="606.2" cy="808.7" r="3.75" fill="#000083"/>
<circle cx="609.4" cy="808.9" r="3.75" fill="#000083"/>
<circle cx="611.6" cy="810.2" r="3.75" fill="#000083"/>
<circle cx="612.1" cy="802.5" r="3.75" fill="#000089"/>
<circle cx="613.0" cy="800.7" r="3.75" fill="#000089"/>
<circle cx="616.0" cy="799.6" r="3.75" fill="#000089"/>
<circle cx="616.5" cy="798.3" r="3.75" fill="#000089"/>
<circle cx="617.5" cy="795.9" r="3.75" fill="#000089"/>
<circle cx="620.7" cy="795.6" r="3.75" fill="#000089"/>
<circle cx="621.6" cy="794.1" r="3.75" fill="#000089"/>
<circle cx="623.5" cy="791.0" r="3.75" fill="#000089"/>
<circle cx="624.6" cy="790.2" r="3.75" fill="#000089"/>
<circle cx="708.4" cy="757.6" r="3.75" fill="#0000a9"/>
<circle cx="714.0" cy="768.1" r="3.75" fill="#0000a9"/>
<circle cx="722.4" cy="779.0" r="3.75" fill="#0000a9"/>
<circle cx="739.9" cy="749.6" r="3.75" fill="#0000a9"/>
<circle cx="738.5" cy="766.0" r="3.75" fill="#0000a9"/>
<circle cx="735.0" cy="773.7" r="3.75" fill="#0000a9"/>
<circle cx="738.5" cy="778.6" r="3.75" fill="#0000a9"/>
<circle cx="730.8" cy="781.4" r="3.75" fill="#0000a9"/>
<circle cx="731.5" cy="786.3" r="3.75" fill="#0000a9"/>
<circle cx="704.9" cy="783.1" r="3.75" fill="#0000a9"/>
<circle cx="707.0" cy="791.9" r="3.75" fill="#0000a9"/>
<circle cx="709.8" cy="800.3" r="3.75" fill="#0000a9"/>
<circle cx="700.7" cy="803.1" r="3.75" fill="#0000a9"/>
<circle cx="706.3" cy="807.3" r="3.75" fill="#0000a9"/>
<circle cx="715.4" cy="808.7" r="3.75" fill="#0000a9"/>
<circle cx="731.8" cy="792.1" r="3.75" fill="#0000b0"/>
<circle cx="733.4" cy="793.1" r="3.75" fill="#0000b0"/>
<circle cx="736.5" cy="795.7" r="3.75" fill="#0000b0"/>
<circle cx="739.5" cy="795.9" r="3.75" fill="#0000b0"/>
<circle cx="742.6" cy="797.9" r="3.75" fill="#0000b0"/>
<circle cx="566.7" cy="795.4" r="3.75" fill="#000070"/>
<circle cx="559.0" cy="797.5" r="3.75" fill="#000070"/>
<circle cx="552.5" cy="797.5" r="3.75" fill="#000070"/>
<circle cx="535.8" cy="796.7" r="3.75" fill="#000070"/>
<circle cx="530.7" cy="799.3" r="3.75" fill="#000070"/>
<circle cx="524.2" cy="805.2" r="3.75" fill="#000070"/>
<circle cx="520.4" cy="812.2" r="3.75" fill="#000070"/>
<circle cx="510.1" cy="823.0" r="3.75" fill="#000070"/>
<circle cx="489.5" cy="834.6" r="3.75" fill="#000070"/>
<circle cx="474.0" cy="830.2" r="3.75" fill="#000070"/>
<circle cx="475.8" cy="835.3" r="3.75" fill="#000070"/>
<circle cx="479.7" cy="841.8" r="3.75" fill="#000070"/>
<circle cx="497.2" cy="848.2" r="3.75" fill="#000083"/>
<circle cx="500.2" cy="848.2" r="3.75" fill="#000083"/>
<circle cx="501.3" cy="850.9" r="3.75" fill="#000083"/>
<circle cx="505.2" cy="851.3" r="3.75" fill="#000083"/>
<circle cx="507.4" cy="853.8" r="3.75" fill="#000083"/>
<circle cx="509.7" cy="854.8" r="3.75" fill="#000083"/>
<circle cx="511.8" cy="855.8" r="3.75" fill="#000083"/>
<circle cx="513.1" cy="858.9" r="3.75" fill="#000083"/>
<circle cx="515.5" cy="860.0" r="3.75" fill="#000083"/>
<circle cx="518.3" cy="862.7" r="3.75" fill="#000083"/>
<circle cx="519.8" cy="862.7" r="3.75" fill="#000083"/>
<circle cx="520.9" cy="859.7" r="3.75" fill="#000083"/>
<circle cx="522.4" cy="856.8" r="3.75" fill="#000083"/>
<circle cx="523.8" cy="857.7" r="3.75" fill="#000083"/>
<circle cx="526.0" cy="859.6" r="3.75" fill="#000083"/>
<circle cx="529.9" cy="860.8" r="3.75" fill="#000083"/>
<circle cx="531.3" cy="861.1" r="3.75" fill="#000083"/>
<circle cx="529.7" cy="859.2" r="3.75" fill="#000083"/>
<circle cx="529.8" cy="857.1" r="3.75" fill="#000083"/>
<circle cx="532.8" cy="857.8" r="3.75" fill="#000083"/>
<circle cx="534.6" cy="857.4" r="3.75" fill="#000083"/>
<circle cx="538.6" cy="857.0" r="3.75" fill="#000083"/>
<circle cx="541.9" cy="858.3" r="3.75" fill="#000083"/>
<circle cx="542.8" cy="854.6" r="3.75" fill="#000083"/>
<circle cx="546.7" cy="852.6" r="3.75" fill="#000083"/>
<circle cx="549.9" cy="851.9" r="3.75" fill="#000083"/>
<circle cx="552.0" cy="851.8" r="3.75" fill="#000083"/>
<circle cx="554.2" cy="849.7" r="3.75" fill="#000083"/>
<circle cx="551.8" cy="852.5" r="3.75" fill="#000083"/>
<circle cx="549.8" cy="854.3" r="3.75" fill="#000083"/>
<circle cx="554.7" cy="849.7" r="3.75" fill="#000089"/>
<circle cx="553.7" cy="851.5" r="3.75" fill="#00008a"/>
<circle cx="554.3" cy="853.3" r="3.75" fill="#00008b"/>
<circle cx="554.2" cy="855.4" r="3.75" fill="#00008c"/>
<circle cx="554.4" cy="856.7" r="3.75" fill="#00008d"/>
<circle cx="556.5" cy="857.8" r="3.75" fill="#00008e"/>
<circle cx="554.7" cy="860.4" r="3.75" fill="#00008e"/>
<circle cx="554.6" cy="860.8" r="3.75" fill="#00008f"/>
<circle cx="557.1" cy="862.0" r="3.75" fill="#000090"/>
<circle cx="557.5" cy="863.9" r="3.75" fill="#000091"/>
<circle cx="557.7" cy="866.2" r="3.75" fill="#000093"/>
<circle cx="559.3" cy="868.0" r="3.75" fill="#000094"/>
<circle cx="560.1" cy="867.8" r="3.75" fill="#000095"/>
<circle cx="561.4" cy="870.2" r="3.75" fill="#000096"/>
<circle cx="562.2" cy="871.1" r="3.75" fill="#000097"/>
<circle cx="564.7" cy="873.3" r="3.75" fill="#000098"/>
<circle cx="566.2" cy="872.0" r="3.75" fill="#000099"/>
<circle cx="566.5" cy="875.1" r="3.75" fill="#00009a"/>
<circle cx="569.6" cy="873.7" r="3.75" fill="#00009b"/>
<circle cx="570.3" cy="875.0" r="3.75" fill="#00009b"/>
<circle cx="572.0" cy="877.8" r="3.75" fill="#00009c"/>
<circle cx="573.4" cy="876.2" r="3.75" fill="#00009d"/>
<circle cx="575.5" cy="878.7" r="3.75" fill="#00009e"/>
<circle cx="575.9" cy="877.3" r="3.75" fill="#00009f"/>
<circle cx="577.8" cy="877.8" r="3.75" fill="#0000a0"/>
<circle cx="579.1" cy="878.8" r="3.75" fill="#0000a1"/>
<circle cx="581.3" cy="879.6" r="3.75" fill="#0000a2"/>
<circle cx="583.0" cy="879.2" r="3.75" fill="#0000a4"/>
<circle cx="585.2" cy="878.2" r="3.75" fill="#0000a6"/>
<circle cx="587.1" cy="877.9" r="3.75" fill="#0000a8"/>
<circle cx="588.6" cy="877.5" r="3.75" fill="#0000aa"/>
<circle cx="589.5" cy="876.0" r="3.75" fill="#0000ac"/>
<circle cx="591.5" cy="877.2" r="3.75" fill="#0000ae"/>
<circle cx="592.6" cy="874.5" r="3.75" fill="#0000b1"/>
<circle cx="594.9" cy="875.2" r="3.75" fill="#0000b3"/>
<circle cx="594.7" cy="873.5" r="3.75" fill="#0000b6"/>
<circle cx="597.5" cy="872.7" r="3.75" fill="#0000b9"/>
<circle cx="597.7" cy="871.0" r="3.75" fill="#0000bb"/>
<circle cx="599.9" cy="869.5" r="3.75" fill="#0000be"/>
<circle cx="597.9" cy="867.9" r="3.75" fill="#0000c0"/>
<circle cx="599.5" cy="866.5" r="3.75" fill="#0000c3"/>
<circle cx="600.6" cy="863.5" r="3.75" fill="#0000c5"/>
<circle cx="600.1" cy="862.3" r="3.75" fill="#0000c7"/>
<circle cx="601.2" cy="860.5" r="3.75" fill="#0000ca"/>
<circle cx="602.0" cy="860.1" r="3.75" fill="#0000cc"/>
<circle cx="602.3" cy="857.1" r="3.75" fill="#0000ce"/>
<circle cx="603.0" cy="856.8" r="3.75" fill="#0000d0"/>
<circle cx="605.0" cy="856.1" r="3.75" fill="#0000d2"/>
<circle cx="604.5" cy="853.2" r="3.75" fill="#0000d4"/>
<circle cx="606.4" cy="852.3" r="3.75" fill="#0000d6"/>
<circle cx="608.0" cy="850.6" r="3.75" fill="#0000d8"/>
<circle cx="607.8" cy="848.6" r="3.75" fill="#0000da"/>
<circle cx="607.1" cy="846.6" r="3.75" fill="#0000dc"/>
<circle cx="607.7" cy="844.9" r="3.75" fill="#0000de"/>
<circle cx="608.8" cy="843.3" r="3.75" fill="#0000e0"/>
<circle cx="610.6" cy="842.6" r="3.75" fill="#0000e1"/>
<circle cx="610.6" cy="840.2" r="3.75" fill="#0000e3"/>
<circle cx="612.9" cy="840.3" r="3.75" fill="#0000e4"/>
<circle cx="610.8" cy="836.9" r="3.75" fill="#0000e5"/>
<circle cx="612.7" cy="836.7" r="3.75" fill="#0000e6"/>
<circle cx="613.6" cy="834.1" r="3.75" fill="#0000e7"/>
<circle cx="614.0" cy="833.3" r="3.75" fill="#0000e9"/>
<circle cx="614.2" cy="830.8" r="3.75" fill="#0000ea"/>
<circle cx="615.4" cy="829.6" r="3.75" fill="#0000eb"/>
<circle cx="615.9" cy="827.9" r="3.75" fill="#0000ec"/>
<circle cx="617.1" cy="826.7" r="3.75" fill="#0000ed"/>
<circle cx="618.2" cy="824.4" r="3.75" fill="#0000ee"/>
<circle cx="619.3" cy="823.6" r="3.75" fill="#0000ef"/>
<circle cx="617.4" cy="822.4" r="3.75" fill="#0000f0"/>
<circle cx="620.8" cy="821.4" r="3.75" fill="#0000f0"/>
<circle cx="620.3" cy="818.4" r="3.75" fill="#0000f1"/>
<circle cx="619.4" cy="816.9" r="3.75" fill="#0000f2"/>
<circle cx="620.6" cy="814.7" r="3.75" fill="#0000f3"/>
<circle cx="622.2" cy="813.5" r="3.75" fill="#0000f3"/>
<circle cx="620.8" cy="812.5" r="3.75" fill="#0000f4"/>
<circle cx="621.6" cy="810.9" r="3.75" fill="#0000f5"/>
<circle cx="622.9" cy="808.4" r="3.75" fill="#0000f5"/>
<circle cx="623.5" cy="807.6" r="3.75" fill="#0000f6"/>
<circle cx="622.5" cy="805.2" r="3.75" fill="#0000f6"/>
<circle cx="625.0" cy="804.4" r="3.75" fill="#0000f6"/>
<circle cx="626.0" cy="801.9" r="3.75" fill="#0000f7"/>
<circle cx="627.0" cy="801.8" r="3.75" fill="#0000f7"/>
<circle cx="625.6" cy="799.2" r="3.75" fill="#0000f7"/>
<circle cx="628.3" cy="797.9" r="3.75" fill="#0000f8"/>
<circle cx="626.3" cy="795.8" r="3.75" fill="#0000f8"/>
<circle cx="628.1" cy="793.7" r="3.75" fill="#0000f8"/>
<circle cx="628.5" cy="792.6" r="3.75" fill="#0000f9"/>
<circle cx="629.7" cy="790.7" r="3.75" fill="#0000f9"/>
<circle cx="628.2" cy="789.3" r="3.75" fill="#0000f9"/>
<circle cx="631.4" cy="787.5" r="3.75" fill="#0000f9"/>
<circle cx="630.9" cy="786.2" r="3.75" fill="#0000f9"/>
<circle cx="632.2" cy="785.5" r="3.75" fill="#0000f9"/>
<circle cx="632.6" cy="782.6" r="3.75" fill="#0000f9"/>
<circle cx="632.7" cy="781.7" r="3.75" fill="#0000f9"/>
<circle cx="632.9" cy="779.4" r="3.75" fill="#0000f9"/>
<circle cx="577.4" cy="782.0" r="3.75" fill="#000083"/>
<circle cx="579.5" cy="783.4" r="3.75" fill="#000083"/>
<circle cx="581.9" cy="785.3" r="3.75" fill="#000083"/>
<circle cx="583.6" cy="785.7" r="3.75" fill="#000083"/>
<circle cx="585.7" cy="786.8" r="3.75" fill="#000083"/>
<circle cx="585.2" cy="789.6" r="3.75" fill="#000083"/>
<circle cx="586.9" cy="791.5" r="3.75" fill="#000083"/>
<circle cx="587.0" cy="793.4" r="3.75" fill="#000083"/>
<circle cx="589.6" cy="794.5" r="3.75" fill="#000083"/>
<circle cx="589.8" cy="796.8" r="3.75" fill="#000083"/>
<circle cx="592.1" cy="799.2" r="3.75" fill="#000083"/>
<circle cx="593.3" cy="800.3" r="3.75" fill="#000083"/>
<circle cx="594.3" cy="802.6" r="3.75" fill="#000083"/>
<circle cx="595.6" cy="802.7" r="3.75" fill="#000083"/>
<circle cx="597.2" cy="804.4" r="3.75" fill="#000083"/>
<circle cx="598.5" cy="805.3" r="3.75" fill="#000083"/>
<circle cx="601.4" cy="806.3" r="3.75" fill="#000083"/>
<circle cx="602.9" cy="808.3" r="3.75" fill="#000083"/>
<circle cx="605.0" cy="811.0" r="3.75" fill="#000083"/>
<circle cx="606.6" cy="810.6" r="3.75" fill="#000083"/>
<circle cx="607.7" cy="809.1" r="3.75" fill="#000083"/>
<circle cx="610.2" cy="807.7" r="3.75" fill="#000083"/>
<circle cx="611.5" cy="807.1" r="3.75" fill="#000083"/>
<circle cx="613.5" cy="805.6" r="3.75" fill="#000083"/>
<circle cx="615.2" cy="803.4" r="3.75" fill="#000083"/>
<circle cx="616.4" cy="801.9" r="3.75" fill="#000083"/>
<circle cx="617.1" cy="799.4" r="3.75" fill="#000083"/>
<circle cx="617.9" cy="797.5" r="3.75" fill="#000083"/>
<circle cx="619.7" cy="796.9" r="3.75" fill="#000083"/>
<circle cx="621.4" cy="794.8" r="3.75" fill="#000083"/>
<circle cx="623.1" cy="792.9" r="3.75" fill="#000083"/>
<circle cx="623.7" cy="791.0" r="3.75" fill="#000083"/>
<circle cx="826.5" cy="669.2" r="3.75" fill="#0000f2"/>
<circle cx="826.5" cy="671.7" r="3.75" fill="#0000f2"/>
<circle cx="824.7" cy="673.7" r="3.75" fill="#0000f2"/>
<circle cx="824.9" cy="674.9" r="3.75" fill="#0000f2"/>
<circle cx="823.5" cy="676.8" r="3.75" fill="#0000f2"/>
<circle cx="827.5" cy="678.9" r="3.75" fill="#0000f2"/>
<circle cx="826.0" cy="680.5" r="3.75" fill="#0000f2"/>
<circle cx="826.1" cy="682.3" r="3.75" fill="#0000f2"/>
<circle cx="823.9" cy="684.3" r="3.75" fill="#0000f2"/>
<circle cx="825.9" cy="685.5" r="3.75" fill="#0000f2"/>
<circle cx="827.9" cy="687.1" r="3.75" fill="#0000f2"/>
<circle cx="824.8" cy="689.6" r="3.75" fill="#0000f2"/>
<circle cx="827.2" cy="692.1" r="3.75" fill="#0000f2"/>
<circle cx="828.2" cy="693.3" r="3.75" fill="#0000f2"/>
<circle cx="827.3" cy="695.6" r="3.75" fill="#0000f2"/>
<circle cx="827.4" cy="697.3" r="3.75" fill="#0000f2"/>
<circle cx="827.5" cy="699.9" r="3.75" fill="#0000f2"/>
<circle cx="826.0" cy="700.0" r="3.75" fill="#0000f2"/>
<circle cx="826.5" cy="702.1" r="3.75" fill="#0000f2"/>
<circle cx="825.1" cy="704.6" r="3.75" fill="#0000f2"/>
<circle cx="826.3" cy="705.5" r="3.75" fill="#0000f2"/>
<circle cx="824.5" cy="707.8" r="3.75" fill="#0000f2"/>
<circle cx="825.4" cy="710.0" r="3.75" fill="#0000f2"/>
<circle cx="823.4" cy="710.6" r="3.75" fill="#0000f2"/>
<circle cx="823.8" cy="712.7" r="3.75" fill="#0000f2"/>
<circle cx="824.5" cy="715.6" r="3.75" fill="#0000f2"/>
<circle cx="821.5" cy="715.6" r="3.75" fill="#0000f2"/>
<circle cx="822.0" cy="717.5" r="3.75" fill="#0000f2"/>
<circle cx="823.3" cy="719.3" r="3.75" fill="#0000f2"/>
<circle cx="822.2" cy="721.1" r="3.75" fill="#0000f2"/>
<circle cx="821.6" cy="724.5" r="3.75" fill="#0000f2"/>
<circle cx="821.1" cy="725.3" r="3.75" fill="#0000f2"/>
<circle cx="822.2" cy="726.6" r="3.75" fill="#0000f2"/>
<circle cx="821.4" cy="729.2" r="3.75" fill="#0000f2"/>
<circle cx="823.8" cy="730.6" r="3.75" fill="#0000f2"/>
<circle cx="822.0" cy="732.6" r="3.75" fill="#0000f2"/>
<circle cx="822.5" cy="735.7" r="3.75" fill="#0000f2"/>
<circle cx="821.1" cy="736.4" r="3.75" fill="#0000f2"/>
<circle cx="820.3" cy="739.1" r="3.75" fill="#0000f2"/>
<circle cx="822.4" cy="740.5" r="3.75" fill="#0000f2"/>
<circle cx="822.1" cy="741.2" r="3.75" fill="#0000f2"/>
<circle cx="820.7" cy="743.8" r="3.75" fill="#0000f2"/>
<circle cx="821.1" cy="745.7" r="3.75" fill="#0000f2"/>
<circle cx="822.5" cy="747.1" r="3.75" fill="#0000f2"/>
<circle cx="822.3" cy="750.0" r="3.75" fill="#0000f2"/>
<circle cx="820.9" cy="750.4" r="3.75" fill="#0000f2"/>
<circle cx="821.3" cy="752.3" r="3.75" fill="#0000f2"/>
<circle cx="820.5" cy="754.2" r="3.75" fill="#0000f2"/>
<circle cx="821.0" cy="756.6" r="3.75" fill="#0000f2"/>
<circle cx="821.4" cy="758.8" r="3.75" fill="#0000f2"/>
<circle cx="822.3" cy="760.8" r="3.75" fill="#0000f2"/>
<circle cx="821.3" cy="761.0" r="3.75" fill="#0000f2"/>
<circle cx="822.1" cy="764.2" r="3.75" fill="#0000f2"/>
<circle cx="820.1" cy="766.0" r="3.75" fill="#0000f2"/>
<circle cx="821.2" cy="768.0" r="3.75" fill="#0000f2"/>
<circle cx="822.3" cy="768.6" r="3.75" fill="#0000f2"/>
<circle cx="821.2" cy="771.2" r="3.75" fill="#0000f2"/>
<circle cx="820.1" cy="773.0" r="3.75" fill="#0000f2"/>
<circle cx="821.2" cy="775.3" r="3.75" fill="#0000f2"/>
<circle cx="819.4" cy="776.4" r="3.75" fill="#0000f2"/>
<circle cx="820.2" cy="779.1" r="3.75" fill="#0000f2"/>
<circle cx="820.5" cy="779.2" r="3.75" fill="#0000f2"/>
<circle cx="820.5" cy="781.0" r="3.75" fill="#0000f2"/>
<circle cx="818.1" cy="783.6" r="3.75" fill="#0000f2"/>
<circle cx="819.0" cy="784.6" r="3.75" fill="#0000f2"/>
<circle cx="819.4" cy="787.0" r="3.75" fill="#0000f2"/>
<circle cx="817.1" cy="788.0" r="3.75" fill="#0000f2"/>
<circle cx="818.2" cy="791.7" r="3.75" fill="#0000f2"/>
<circle cx="820.5" cy="657.4" r="3.75" fill="#0000e9"/>
<circle cx="827.5" cy="661.6" r="3.75" fill="#0000e9"/>
<circle cx="818.4" cy="665.1" r="3.75" fill="#0000e9"/>
<circle cx="813.0" cy="678.4" r="3.75" fill="#0000b6"/>
<circle cx="816.4" cy="681.7" r="3.75" fill="#0000b6"/>
<circle cx="811.8" cy="690.4" r="3.75" fill="#0000b6"/>
<circle cx="810.6" cy="692.5" r="3.75" fill="#0000b6"/>
<circle cx="808.3" cy="695.8" r="3.75" fill="#0000b6"/>
<circle cx="807.5" cy="696.8" r="3.75" fill="#0000b6"/>
<circle cx="807.8" cy="699.6" r="3.75" fill="#0000b6"/>
<circle cx="808.0" cy="703.3" r="3.75" fill="#0000b6"/>
<circle cx="796.3" cy="716.9" r="3.75" fill="#0000b6"/>
<circle cx="797.1" cy="721.7" r="3.75" fill="#0000b6"/>
<circle cx="796.1" cy="723.4" r="3.75" fill="#0000b6"/>
<circle cx="796.8" cy="725.5" r="3.75" fill="#0000b6"/>
<circle cx="800.3" cy="725.8" r="3.75" fill="#0000b6"/>
<circle cx="802.9" cy="724.0" r="3.75" fill="#0000b6"/>
<circle cx="806.1" cy="724.2" r="3.75" fill="#0000b6"/>
<circle cx="805.1" cy="725.4" r="3.75" fill="#0000b6"/>
<circle cx="801.3" cy="726.9" r="3.75" fill="#0000b6"/>
<circle cx="793.6" cy="733.3" r="3.75" fill="#0000b6"/>
<circle cx="794.3" cy="735.0" r="3.75" fill="#0000b6"/>
<circle cx="792.1" cy="739.0" r="3.75" fill="#0000b6"/>
<circle cx="790.2" cy="738.9" r="3.75" fill="#0000b6"/>
<circle cx="793.8" cy="742.3" r="3.75" fill="#0000b6"/>
<circle cx="791.6" cy="747.1" r="3.75" fill="#0000b6"/>
<circle cx="792.1" cy="749.2" r="3.75" fill="#0000b6"/>
<circle cx="788.5" cy="750.4" r="3.75" fill="#0000b6"/>
<circle cx="788.8" cy="753.0" r="3.75" fill="#0000b6"/>
<circle cx="786.2" cy="755.9" r="3.75" fill="#0000b6"/>
<circle cx="785.7" cy="759.9" r="3.75" fill="#0000b6"/>
<circle cx="785.1" cy="762.4" r="3.75" fill="#0000b6"/>
<circle cx="788.5" cy="764.4" r="3.75" fill="#0000b6"/>
<circle cx="786.8" cy="767.9" r="3.75" fill="#0000b6"/>
<circle cx="771.4" cy="740.1" r="3.75" fill="#0000b6"/>
<circle cx="770.0" cy="749.2" r="3.75" fill="#0000b6"/>
<circle cx="767.9" cy="757.6" r="3.75" fill="#0000b6"/>
<circle cx="776.3" cy="761.8" r="3.75" fill="#0000b6"/>
<circle cx="782.6" cy="774.1" r="3.75" fill="#0000b6"/>
<circle cx="780.5" cy="784.2" r="3.75" fill="#0000b6"/>
<circle cx="802.2" cy="740.8" r="3.75" fill="#0000b6"/>
<circle cx="799.4" cy="751.3" r="3.75" fill="#0000b6"/>
<circle cx="813.4" cy="755.5" r="3.75" fill="#0000b6"/>
<circle cx="777.8" cy="746.1" r="3.75" fill="#0000b6"/>
<circle cx="779.9" cy="745.8" r="3.75" fill="#0000b6"/>
<circle cx="783.4" cy="744.2" r="3.75" fill="#0000b6"/>
<circle cx="785.7" cy="742.2" r="3.75" fill="#0000b6"/>
<circle cx="787.8" cy="741.0" r="3.75" fill="#0000b6"/>
<circle cx="762.1" cy="765.1" r="3.75" fill="#0000b6"/>
<circle cx="759.5" cy="770.7" r="3.75" fill="#0000b6"/>
<circle cx="798.5" cy="760.8" r="3.75" fill="#0000b6"/>
<circle cx="798.0" cy="761.5" r="3.75" fill="#0000b6"/>
<circle cx="797.4" cy="764.2" r="3.75" fill="#0000b6"/>
<circle cx="797.0" cy="766.5" r="3.75" fill="#0000b6"/>
<circle cx="797.6" cy="769.5" r="3.75" fill="#0000b6"/>
<circle cx="795.1" cy="772.0" r="3.75" fill="#0000b6"/>
<circle cx="793.7" cy="775.6" r="3.75" fill="#0000b6"/>
<circle cx="792.0" cy="776.6" r="3.75" fill="#0000b6"/>
<circle cx="801.8" cy="758.1" r="3.75" fill="#000096"/>
<circle cx="804.9" cy="759.9" r="3.75" fill="#000096"/>
<circle cx="807.7" cy="760.3" r="3.75" fill="#000096"/>
<circle cx="807.7" cy="764.3" r="3.75" fill="#000096"/>
<circle cx="812.6" cy="765.8" r="3.75" fill="#000096"/>
<circle cx="812.2" cy="770.0" r="3.75" fill="#000096"/>
<circle cx="810.5" cy="772.7" r="3.75" fill="#000096"/>
<circle cx="806.7" cy="773.9" r="3.75" fill="#000096"/>
<circle cx="764.4" cy="656.0" r="3.75" fill="#00007a"/>
<circle cx="763.7" cy="685.8" r="3.75" fill="#00007a"/>
<circle cx="796.6" cy="687.9" r="3.75" fill="#00007a"/>
<circle cx="790.1" cy="693.1" r="3.75" fill="#00007a"/>
<circle cx="796.6" cy="697.7" r="3.75" fill="#00007a"/>
<circle cx="779.1" cy="701.5" r="3.75" fill="#00007a"/>
<circle cx="776.3" cy="705.0" r="3.75" fill="#00007a"/>
<circle cx="779.1" cy="709.9" r="3.75" fill="#00007a"/>
<circle cx="798.7" cy="707.8" r="3.75" fill="#00007a"/>
<circle cx="798.0" cy="711.3" r="3.75" fill="#00007a"/>
<circle cx="816.3" cy="701.8" r="3.75" fill="#00007a"/>
<circle cx="776.3" cy="718.3" r="3.75" fill="#00007a"/>
<circle cx="782.6" cy="721.1" r="3.75" fill="#00007a"/>
<circle cx="781.2" cy="726.0" r="3.75" fill="#00007a"/>
<circle cx="781.9" cy="730.3" r="3.75" fill="#00007a"/>
<circle cx="777.7" cy="735.2" r="3.75" fill="#00007a"/>
<circle cx="779.1" cy="747.8" r="3.75" fill="#00007a"/>
<circle cx="824.7" cy="720.4" r="3.75" fill="#00007a"/>
<circle cx="831.0" cy="726.0" r="3.75" fill="#00007a"/>
<circle cx="834.5" cy="724.6" r="3.75" fill="#00007a"/>
<circle cx="837.3" cy="731.0" r="3.75" fill="#00007a"/>
<circle cx="848.5" cy="721.1" r="3.75" fill="#00007a"/>
<circle cx="848.2" cy="729.6" r="3.75" fill="#00007a"/>
<circle cx="849.5" cy="695.6" r="3.75" fill="#00007a"/>
<circle cx="831.7" cy="746.4" r="3.75" fill="#00007a"/>
<circle cx="828.4" cy="752.7" r="3.75" fill="#00007a"/>
<circle cx="841.2" cy="746.8" r="3.75" fill="#00007a"/>
<circle cx="824.7" cy="744.3" r="3.75" fill="#00007a"/>
<circle cx="849.2" cy="761.1" r="3.75" fill="#00007a"/>
<circle cx="852.0" cy="768.5" r="3.75" fill="#00007a"/>
<circle cx="835.6" cy="785.6" r="3.75" fill="#00007a"/>
<circle cx="840.1" cy="790.5" r="3.75" fill="#00007a"/>
<circle cx="827.5" cy="792.6" r="3.75" fill="#00007a"/>
<circle cx="831.7" cy="801.7" r="3.75" fill="#00007a"/>
<circle cx="821.2" cy="796.1" r="3.75" fill="#00007a"/>
<circle cx="854.8" cy="754.5" r="3.75" fill="#00007a"/>
<circle cx="855.5" cy="667.9" r="3.75" fill="#000090"/>
<circle cx="856.2" cy="673.5" r="3.75" fill="#000090"/>
<circle cx="863.2" cy="677.7" r="3.75" fill="#000090"/>
<circle cx="865.3" cy="691.7" r="3.75" fill="#000090"/>
<circle cx="866.0" cy="708.5" r="3.75" fill="#000090"/>
<circle cx="869.5" cy="705.0" r="3.75" fill="#000090"/>
<circle cx="866.0" cy="720.2" r="3.75" fill="#000090"/>
<circle cx="865.3" cy="728.8" r="3.75" fill="#000090"/>
<circle cx="859.0" cy="729.6" r="3.75" fill="#000090"/>
<circle cx="862.5" cy="735.9" r="3.75" fill="#000090"/>
<circle cx="859.0" cy="740.8" r="3.75" fill="#000090"/>
<circle cx="871.6" cy="737.3" r="3.75" fill="#000090"/>
<circle cx="870.9" cy="749.2" r="3.75" fill="#000090"/>
<circle cx="869.5" cy="670.0" r="3.75" fill="#000090"/>
<circle cx="871.6" cy="671.4" r="3.75" fill="#000090"/>
<circle cx="880.0" cy="665.8" r="3.75" fill="#000090"/>
<circle cx="884.2" cy="679.1" r="3.75" fill="#000090"/>
<circle cx="887.0" cy="681.9" r="3.75" fill="#000090"/>
<circle cx="889.1" cy="697.3" r="3.75" fill="#000090"/>
<circle cx="890.2" cy="707.6" r="3.75" fill="#000090"/>
<circle cx="743.9" cy="789.2" r="3.75" fill="#0000c3"/>
<circle cx="743.4" cy="793.9" r="3.75" fill="#0000c3"/>
<circle cx="745.4" cy="795.5" r="3.75" fill="#0000c3"/>
<circle cx="748.1" cy="793.7" r="3.75" fill="#0000c3"/>
<circle cx="750.8" cy="796.1" r="3.75" fill="#0000c3"/>
<circle cx="750.9" cy="799.6" r="3.75" fill="#0000c3"/>
<circle cx="751.5" cy="801.2" r="3.75" fill="#0000c3"/>
<circle cx="753.0" cy="803.2" r="3.75" fill="#0000c3"/>
<circle cx="756.3" cy="801.3" r="3.75" fill="#0000c3"/>
<circle cx="760.2" cy="801.8" r="3.75" fill="#0000c3"/>
<circle cx="761.0" cy="802.4" r="3.75" fill="#0000c3"/>
<circle cx="763.2" cy="803.3" r="3.75" fill="#0000c3"/>
<circle cx="764.4" cy="801.3" r="3.75" fill="#0000c3"/>
<circle cx="765.8" cy="799.0" r="3.75" fill="#0000c3"/>
<circle cx="768.9" cy="801.4" r="3.75" fill="#0000c3"/>
<circle cx="770.1" cy="797.5" r="3.75" fill="#0000c3"/>
<circle cx="773.6" cy="801.3" r="3.75" fill="#0000c3"/>
<circle cx="776.8" cy="795.6" r="3.75" fill="#0000c3"/>
<circle cx="779.1" cy="796.1" r="3.75" fill="#0000c3"/>
<circle cx="779.4" cy="796.2" r="3.75" fill="#0000c3"/>
<circle cx="783.1" cy="798.2" r="3.75" fill="#0000c3"/>
<circle cx="784.7" cy="796.1" r="3.75" fill="#0000c3"/>
<circle cx="786.9" cy="792.7" r="3.75" fill="#0000c3"/>
<circle cx="787.4" cy="796.0" r="3.75" fill="#0000c3"/>
<circle cx="788.8" cy="796.2" r="3.75" fill="#0000c3"/>
<circle cx="760.1" cy="785.4" r="3.75" fill="#0000c3"/>
<circle cx="755.6" cy="785.6" r="3.75" fill="#0000c3"/>
<circle cx="754.7" cy="787.9" r="3.75" fill="#0000c3"/>
<circle cx="753.1" cy="789.3" r="3.75" fill="#0000c3"/>
<circle cx="750.1" cy="791.5" r="3.75" fill="#0000c3"/>
<circle cx="749.2" cy="793.9" r="3.75" fill="#0000c3"/>
<circle cx="770.0" cy="794.7" r="3.75" fill="#0000cf"/>
<circle cx="798.0" cy="800.3" r="3.75" fill="#0000cf"/>
<circle cx="810.6" cy="801.0" r="3.75" fill="#0000cf"/>
<circle cx="818.4" cy="806.6" r="3.75" fill="#0000cf"/>
<circle cx="803.6" cy="807.3" r="3.75" fill="#0000cf"/>
<circle cx="802.9" cy="787.7" r="3.75" fill="#0000cf"/>
<circle cx="812.0" cy="784.2" r="3.75" fill="#0000cf"/>
<circle cx="813.4" cy="794.0" r="3.75" fill="#0000cf"/>
<circle cx="861.6" cy="665.8" r="3.75" fill="#9bff63"/>
<circle cx="865.8" cy="675.6" r="3.75" fill="#9bff63"/>
<circle cx="867.9" cy="681.2" r="3.75" fill="#9bff63"/>
<circle cx="858.1" cy="687.5" r="3.75" fill="#9bff63"/>
<circle cx="872.1" cy="688.2" r="3.75" fill="#9bff63"/>
<circle cx="861.6" cy="696.6" r="3.75" fill="#9bff63"/>
<circle cx="865.8" cy="695.9" r="3.75" fill="#9bff63"/>
<circle cx="847.3" cy="717.6" r="3.75" fill="#9bff63"/>
<circle cx="881.2" cy="660.9" r="3.75" fill="#9bff63"/>
<circle cx="859.5" cy="751.3" r="3.75" fill="#9bff63"/>
<circle cx="858.8" cy="760.4" r="3.75" fill="#9bff63"/>
<circle cx="865.1" cy="766.0" r="3.75" fill="#9bff63"/>
<circle cx="872.8" cy="761.8" r="3.75" fill="#9bff63"/>
<circle cx="863.7" cy="670.0" r="3.75" fill="#9bff63"/>
<circle cx="864.4" cy="684.0" r="3.75" fill="#9bff63"/>
<circle cx="861.3" cy="773.7" r="3.75" fill="#a1ff5d"/>
<circle cx="861.9" cy="776.1" r="3.75" fill="#a5ff59"/>
<circle cx="863.6" cy="777.4" r="3.75" fill="#a9ff55"/>
<circle cx="864.2" cy="780.5" r="3.75" fill="#adff51"/>
<circle cx="865.0" cy="781.7" r="3.75" fill="#b1ff4d"/>
<circle cx="866.2" cy="784.2" r="3.75" fill="#b6ff49"/>
<circle cx="863.4" cy="785.7" r="3.75" fill="#b9ff46"/>
<circle cx="864.6" cy="788.5" r="3.75" fill="#baff44"/>
<circle cx="864.7" cy="791.3" r="3.75" fill="#bcff43"/>
<circle cx="863.4" cy="792.4" r="3.75" fill="#beff41"/>
<circle cx="863.4" cy="795.1" r="3.75" fill="#c0ff3f"/>
<circle cx="866.0" cy="795.6" r="3.75" fill="#c1ff3d"/>
<circle cx="864.7" cy="797.0" r="3.75" fill="#c3ff3b"/>
<circle cx="867.3" cy="798.9" r="3.75" fill="#c7ff38"/>
<circle cx="866.6" cy="802.1" r="3.75" fill="#caff34"/>
<circle cx="866.5" cy="805.0" r="3.75" fill="#ceff31"/>
<circle cx="868.1" cy="806.6" r="3.75" fill="#d0ff2f"/>
<circle cx="868.2" cy="808.1" r="3.75" fill="#d2ff2c"/>
<circle cx="868.2" cy="809.7" r="3.75" fill="#d4ff2a"/>
<circle cx="885.6" cy="656.0" r="3.75" fill="#0000b0"/>
<circle cx="888.0" cy="658.5" r="3.75" fill="#0000b0"/>
<circle cx="891.1" cy="656.0" r="3.75" fill="#0000b0"/>
<circle cx="893.3" cy="657.0" r="3.75" fill="#0000b0"/>
<circle cx="896.5" cy="659.6" r="3.75" fill="#0000b0"/>
<circle cx="896.4" cy="661.1" r="3.75" fill="#0000b0"/>
<circle cx="895.5" cy="663.2" r="3.75" fill="#0000b0"/>
<circle cx="892.8" cy="665.3" r="3.75" fill="#0000b0"/>
<circle cx="895.7" cy="666.4" r="3.75" fill="#0000b0"/>
<circle cx="895.9" cy="668.6" r="3.75" fill="#0000b0"/>
<circle cx="895.8" cy="670.9" r="3.75" fill="#0000b0"/>
<circle cx="894.7" cy="673.9" r="3.75" fill="#0000b0"/>
<circle cx="894.4" cy="675.0" r="3.75" fill="#0000b0"/>
<circle cx="894.8" cy="677.5" r="3.75" fill="#0000b0"/>
<circle cx="897.6" cy="678.6" r="3.75" fill="#0000b0"/>
<circle cx="897.6" cy="682.4" r="3.75" fill="#0000b0"/>
<circle cx="895.3" cy="683.9" r="3.75" fill="#0000b0"/>
<circle cx="893.6" cy="685.9" r="3.75" fill="#0000b0"/>
<circle cx="891.6" cy="687.5" r="3.75" fill="#0000b0"/>
<circle cx="884.0" cy="678.4" r="3.75" fill="#0000b0"/>
<circle cx="886.1" cy="681.2" r="3.75" fill="#0000b0"/>
<circle cx="879.8" cy="666.1" r="3.75" fill="#0000b0"/>
<circle cx="888.9" cy="698.0" r="3.75" fill="#0000b0"/>
<circle cx="890.1" cy="707.4" r="3.75" fill="#0000b0"/>
<circle cx="892.4" cy="794.0" r="3.75" fill="#0000b0"/>
<circle cx="896.6" cy="804.5" r="3.75" fill="#0000b0"/>
<circle cx="892.0" cy="713.5" r="3.75" fill="#0000b6"/>
<circle cx="891.2" cy="717.6" r="3.75" fill="#0000b6"/>
<circle cx="891.2" cy="718.2" r="3.75" fill="#0000b6"/>
<circle cx="892.9" cy="718.3" r="3.75" fill="#0000b6"/>
<circle cx="896.4" cy="719.8" r="3.75" fill="#0000b6"/>
<circle cx="896.3" cy="722.1" r="3.75" fill="#0000b6"/>
<circle cx="896.3" cy="723.9" r="3.75" fill="#0000b6"/>
<circle cx="896.3" cy="727.1" r="3.75" fill="#0000b6"/>
<circle cx="896.0" cy="727.2" r="3.75" fill="#0000b6"/>
<circle cx="894.1" cy="729.1" r="3.75" fill="#0000b6"/>
<circle cx="894.9" cy="731.5" r="3.75" fill="#0000b6"/>
<circle cx="893.8" cy="735.1" r="3.75" fill="#0000b6"/>
<circle cx="896.5" cy="736.4" r="3.75" fill="#0000b6"/>
<circle cx="895.5" cy="738.9" r="3.75" fill="#0000b6"/>
<circle cx="894.7" cy="740.5" r="3.75" fill="#0000b6"/>
<circle cx="893.9" cy="742.8" r="3.75" fill="#0000b6"/>
<circle cx="892.9" cy="744.0" r="3.75" fill="#0000b6"/>
<circle cx="895.7" cy="746.1" r="3.75" fill="#0000b6"/>
<circle cx="895.1" cy="748.1" r="3.75" fill="#0000b6"/>
<circle cx="893.9" cy="749.6" r="3.75" fill="#0000b6"/>
<circle cx="894.6" cy="752.9" r="3.75" fill="#0000b6"/>
<circle cx="891.8" cy="754.3" r="3.75" fill="#0000b6"/>
<circle cx="893.2" cy="756.1" r="3.75" fill="#0000b6"/>
<circle cx="892.8" cy="759.0" r="3.75" fill="#0000b6"/>
<circle cx="891.3" cy="759.5" r="3.75" fill="#0000b6"/>
<circle cx="892.4" cy="762.9" r="3.75" fill="#0000b6"/>
<circle cx="892.8" cy="765.3" r="3.75" fill="#0000b6"/>
<circle cx="892.3" cy="766.0" r="3.75" fill="#0000b6"/>
<circle cx="894.8" cy="765.3" r="3.75" fill="#0000b6"/>
<circle cx="896.6" cy="768.3" r="3.75" fill="#0000b6"/>
<circle cx="899.2" cy="766.9" r="3.75" fill="#0000b6"/>
<circle cx="898.8" cy="768.6" r="3.75" fill="#0000b6"/>
<circle cx="899.2" cy="772.6" r="3.75" fill="#0000b6"/>
<circle cx="900.9" cy="773.9" r="3.75" fill="#0000b6"/>
<circle cx="898.0" cy="775.0" r="3.75" fill="#0000b6"/>
<circle cx="898.8" cy="778.6" r="3.75" fill="#0000b6"/>
<circle cx="897.9" cy="779.0" r="3.75" fill="#0000b6"/>
<circle cx="896.4" cy="780.7" r="3.75" fill="#0000b6"/>
<circle cx="895.2" cy="783.5" r="3.75" fill="#0000b6"/>
<circle cx="854.6" cy="667.2" r="3.75" fill="#000070"/>
<circle cx="865.8" cy="691.7" r="3.75" fill="#000070"/>
<circle cx="866.1" cy="709.0" r="3.75" fill="#000070"/>
<circle cx="866.1" cy="720.0" r="3.75" fill="#000070"/>
<circle cx="871.4" cy="737.3" r="3.75" fill="#000070"/>
<circle cx="871.4" cy="749.6" r="3.75" fill="#000070"/>
<circle cx="871.4" cy="764.6" r="3.75" fill="#000070"/>
<circle cx="876.7" cy="801.0" r="3.75" fill="#000070"/>
<circle cx="887.5" cy="805.9" r="3.75" fill="#000070"/>
<circle cx="877.5" cy="769.5" r="3.75" fill="#000070"/>
<circle cx="880.6" cy="769.1" r="3.75" fill="#000070"/>
<circle cx="884.2" cy="769.6" r="3.75" fill="#000070"/>
<circle cx="878.1" cy="774.4" r="3.75" fill="#000070"/>
<circle cx="879.0" cy="778.2" r="3.75" fill="#000070"/>
<circle cx="878.9" cy="779.6" r="3.75" fill="#000070"/>
<circle cx="878.9" cy="781.6" r="3.75" fill="#000070"/>
<circle cx="880.3" cy="784.0" r="3.75" fill="#000070"/>
<circle cx="879.5" cy="785.6" r="3.75" fill="#000070"/>
<circle cx="880.4" cy="788.9" r="3.75" fill="#000070"/>
<circle cx="880.6" cy="789.8" r="3.75" fill="#000070"/>
<circle cx="881.8" cy="793.0" r="3.75" fill="#000070"/>
<circle cx="883.3" cy="795.3" r="3.75" fill="#000070"/>
<circle cx="856.0" cy="673.5" r="3.75" fill="#0000b0"/>
<circle cx="863.0" cy="677.7" r="3.75" fill="#0000b0"/>
<circle cx="867.9" cy="670.0" r="3.75" fill="#0000b0"/>
<circle cx="871.4" cy="671.4" r="3.75" fill="#0000b0"/>
<circle cx="849.7" cy="695.6" r="3.75" fill="#0000b0"/>
<circle cx="870.0" cy="705.0" r="3.75" fill="#0000b0"/>
<circle cx="848.6" cy="721.6" r="3.75" fill="#0000b0"/>
<circle cx="848.3" cy="729.6" r="3.75" fill="#0000b0"/>
<circle cx="865.1" cy="729.6" r="3.75" fill="#0000b0"/>
<circle cx="858.1" cy="730.3" r="3.75" fill="#0000b0"/>
<circle cx="860.2" cy="737.3" r="3.75" fill="#0000b0"/>
<circle cx="858.1" cy="740.8" r="3.75" fill="#0000b0"/>
<circle cx="854.9" cy="754.1" r="3.75" fill="#0000b0"/>
<circle cx="849.0" cy="761.1" r="3.75" fill="#0000b0"/>
<circle cx="851.8" cy="768.8" r="3.75" fill="#0000b0"/>
<circle cx="759.8" cy="809.5" r="3.75" fill="#0000c3"/>
<circle cx="756.7" cy="815.2" r="3.75" fill="#0000c3"/>
<circle cx="755.0" cy="821.5" r="3.75" fill="#0000c3"/>
<circle cx="752.0" cy="826.6" r="3.75" fill="#0000c3"/>
<circle cx="750.2" cy="832.5" r="3.75" fill="#0000c3"/>
<circle cx="747.0" cy="838.4" r="3.75" fill="#0000c3"/>
<circle cx="743.9" cy="843.5" r="3.75" fill="#0000c3"/>
<circle cx="742.3" cy="848.9" r="3.75" fill="#0000c3"/>
<circle cx="733.4" cy="875.8" r="3.75" fill="#0000e2"/>
<circle cx="734.8" cy="877.0" r="3.75" fill="#0000e2"/>
<circle cx="735.8" cy="879.0" r="3.75" fill="#0000e2"/>
<circle cx="736.3" cy="880.7" r="3.75" fill="#0000e2"/>
<circle cx="739.6" cy="881.0" r="3.75" fill="#0000e2"/>
<circle cx="740.6" cy="881.6" r="3.75" fill="#0000e2"/>
<circle cx="741.0" cy="884.1" r="3.75" fill="#0000e2"/>
<circle cx="740.4" cy="887.0" r="3.75" fill="#0000e2"/>
<circle cx="742.4" cy="887.0" r="3.75" fill="#0000e2"/>
<circle cx="744.7" cy="888.5" r="3.75" fill="#0000e2"/>
<circle cx="745.3" cy="891.4" r="3.75" fill="#0000e2"/>
<circle cx="748.3" cy="891.0" r="3.75" fill="#0000e2"/>
<circle cx="748.5" cy="892.5" r="3.75" fill="#0000e2"/>
<circle cx="750.0" cy="891.3" r="3.75" fill="#0000e2"/>
<circle cx="751.9" cy="892.1" r="3.75" fill="#0000e2"/>
<circle cx="752.6" cy="894.2" r="3.75" fill="#0000e2"/>
<circle cx="755.8" cy="896.2" r="3.75" fill="#0000e2"/>
<circle cx="754.9" cy="894.0" r="3.75" fill="#0000e2"/>
<circle cx="757.1" cy="893.9" r="3.75" fill="#0000e2"/>
<circle cx="758.7" cy="892.7" r="3.75" fill="#0000e2"/>
<circle cx="762.2" cy="891.1" r="3.75" fill="#0000e2"/>
<circle cx="761.9" cy="889.6" r="3.75" fill="#0000e2"/>
<circle cx="762.7" cy="890.7" r="3.75" fill="#0000e2"/>
<circle cx="764.4" cy="891.9" r="3.75" fill="#0000e2"/>
<circle cx="765.0" cy="894.1" r="3.75" fill="#0000e2"/>
<circle cx="764.7" cy="897.5" r="3.75" fill="#0000e2"/>
<circle cx="766.2" cy="896.2" r="3.75" fill="#0000e2"/>
<circle cx="767.2" cy="898.2" r="3.75" fill="#0000e2"/>
<circle cx="767.6" cy="901.8" r="3.75" fill="#0000e2"/>
<circle cx="769.6" cy="900.5" r="3.75" fill="#0000e2"/>
<circle cx="771.5" cy="899.0" r="3.75" fill="#0000e2"/>
<circle cx="773.7" cy="898.9" r="3.75" fill="#0000e2"/>
<circle cx="775.2" cy="899.0" r="3.75" fill="#0000e2"/>
<circle cx="777.6" cy="898.1" r="3.75" fill="#0000e2"/>
<circle cx="779.7" cy="901.2" r="3.75" fill="#0000e2"/>
<circle cx="780.2" cy="901.9" r="3.75" fill="#0000e2"/>
<circle cx="781.6" cy="901.5" r="3.75" fill="#0000e2"/>
<circle cx="782.8" cy="904.0" r="3.75" fill="#0000e2"/>
<circle cx="785.4" cy="905.1" r="3.75" fill="#0000e2"/>
<circle cx="786.2" cy="906.0" r="3.75" fill="#0000e2"/>
<circle cx="787.8" cy="906.8" r="3.75" fill="#0000e2"/>
<circle cx="791.1" cy="906.5" r="3.75" fill="#0000e2"/>
<circle cx="790.7" cy="908.5" r="3.75" fill="#0000e2"/>
<circle cx="793.8" cy="909.0" r="3.75" fill="#0000e2"/>
<circle cx="796.0" cy="910.1" r="3.75" fill="#0000e2"/>
<circle cx="795.9" cy="910.0" r="3.75" fill="#0000e2"/>
<circle cx="798.2" cy="913.0" r="3.75" fill="#0000e2"/>
<circle cx="801.3" cy="910.2" r="3.75" fill="#0000e2"/>
<circle cx="803.1" cy="912.1" r="3.75" fill="#0000e2"/>
<circle cx="804.4" cy="912.8" r="3.75" fill="#0000e2"/>
<circle cx="805.0" cy="912.4" r="3.75" fill="#0000e2"/>
<circle cx="808.1" cy="912.2" r="3.75" fill="#0000e2"/>
<circle cx="809.5" cy="913.2" r="3.75" fill="#0000e2"/>
<circle cx="810.5" cy="910.8" r="3.75" fill="#0000e2"/>
<circle cx="812.5" cy="910.4" r="3.75" fill="#0000e2"/>
<circle cx="813.7" cy="908.7" r="3.75" fill="#0000e2"/>
<circle cx="814.9" cy="907.2" r="3.75" fill="#0000e2"/>
<circle cx="816.2" cy="907.6" r="3.75" fill="#0000e2"/>
<circle cx="819.4" cy="907.2" r="3.75" fill="#0000e2"/>
<circle cx="820.8" cy="906.8" r="3.75" fill="#0000e2"/>
<circle cx="797.7" cy="916.5" r="3.75" fill="#0003ff"/>
<circle cx="799.5" cy="917.1" r="3.75" fill="#0006ff"/>
<circle cx="801.6" cy="918.6" r="3.75" fill="#0009ff"/>
<circle cx="802.3" cy="916.7" r="3.75" fill="#000cff"/>
<circle cx="804.7" cy="919.1" r="3.75" fill="#000fff"/>
<circle cx="805.3" cy="918.1" r="3.75" fill="#0012ff"/>
<circle cx="806.8" cy="918.9" r="3.75" fill="#0016ff"/>
<circle cx="809.0" cy="919.8" r="3.75" fill="#0019ff"/>
<circle cx="809.5" cy="921.2" r="3.75" fill="#001cff"/>
<circle cx="811.2" cy="920.3" r="3.75" fill="#001fff"/>
<circle cx="813.7" cy="920.5" r="3.75" fill="#0022ff"/>
<circle cx="815.6" cy="921.6" r="3.75" fill="#0025ff"/>
<circle cx="817.1" cy="922.4" r="3.75" fill="#0028ff"/>
<circle cx="818.3" cy="924.5" r="3.75" fill="#002bff"/>
<circle cx="819.2" cy="922.9" r="3.75" fill="#002fff"/>
<circle cx="820.6" cy="924.4" r="3.75" fill="#0032ff"/>
<circle cx="822.9" cy="925.1" r="3.75" fill="#0035ff"/>
<circle cx="824.0" cy="922.4" r="3.75" fill="#0038ff"/>
<circle cx="826.8" cy="924.0" r="3.75" fill="#003bff"/>
<circle cx="827.4" cy="924.8" r="3.75" fill="#003dff"/>
<circle cx="829.9" cy="926.0" r="3.75" fill="#003fff"/>
<circle cx="830.9" cy="924.9" r="3.75" fill="#0041ff"/>
<circle cx="832.1" cy="923.9" r="3.75" fill="#0043ff"/>
<circle cx="834.7" cy="926.0" r="3.75" fill="#0045ff"/>
<circle cx="834.9" cy="926.5" r="3.75" fill="#0047ff"/>
<circle cx="836.4" cy="926.9" r="3.75" fill="#0049ff"/>
<circle cx="838.8" cy="925.3" r="3.75" fill="#004bff"/>
<circle cx="840.5" cy="927.5" r="3.75" fill="#004cff"/>
<circle cx="841.3" cy="926.6" r="3.75" fill="#004cff"/>
<circle cx="844.4" cy="926.7" r="3.75" fill="#004cff"/>
<circle cx="844.8" cy="927.6" r="3.75" fill="#004cff"/>
<circle cx="847.4" cy="925.5" r="3.75" fill="#004cff"/>
<circle cx="849.1" cy="926.9" r="3.75" fill="#004cff"/>
<circle cx="849.7" cy="927.0" r="3.75" fill="#004cff"/>
<circle cx="851.6" cy="925.1" r="3.75" fill="#004cff"/>
<circle cx="854.1" cy="927.2" r="3.75" fill="#004cff"/>
<circle cx="855.6" cy="928.2" r="3.75" fill="#004cff"/>
<circle cx="857.1" cy="925.8" r="3.75" fill="#004bff"/>
<circle cx="858.5" cy="924.7" r="3.75" fill="#004bff"/>
<circle cx="859.4" cy="924.9" r="3.75" fill="#004aff"/>
<circle cx="861.5" cy="927.3" r="3.75" fill="#0049ff"/>
<circle cx="862.6" cy="924.5" r="3.75" fill="#0049ff"/>
<circle cx="865.2" cy="926.4" r="3.75" fill="#0048ff"/>
<circle cx="865.7" cy="924.5" r="3.75" fill="#0047ff"/>
<circle cx="867.7" cy="925.2" r="3.75" fill="#0047ff"/>
<circle cx="869.0" cy="923.8" r="3.75" fill="#0046ff"/>
<circle cx="870.9" cy="925.1" r="3.75" fill="#0045ff"/>
<circle cx="872.3" cy="924.8" r="3.75" fill="#0045ff"/>
<circle cx="873.9" cy="922.2" r="3.75" fill="#0044ff"/>
<circle cx="875.5" cy="922.3" r="3.75" fill="#0044ff"/>
<circle cx="876.7" cy="921.0" r="3.75" fill="#0043ff"/>
<circle cx="878.5" cy="921.2" r="3.75" fill="#0042ff"/>
<circle cx="880.4" cy="921.9" r="3.75" fill="#0042ff"/>
<circle cx="882.3" cy="921.3" r="3.75" fill="#0041ff"/>
<circle cx="883.5" cy="921.7" r="3.75" fill="#0040ff"/>
<circle cx="885.0" cy="920.9" r="3.75" fill="#0040ff"/>
<circle cx="886.0" cy="917.5" r="3.75" fill="#003fff"/>
<circle cx="887.9" cy="919.8" r="3.75" fill="#003eff"/>
<circle cx="889.9" cy="919.9" r="3.75" fill="#003dff"/>
<circle cx="890.5" cy="917.6" r="3.75" fill="#003dff"/>
<circle cx="892.7" cy="916.9" r="3.75" fill="#003cff"/>
<circle cx="893.0" cy="915.4" r="3.75" fill="#003bff"/>
<circle cx="796.0" cy="811.2" r="3.75" fill="#0000e9"/>
<circle cx="798.3" cy="812.1" r="3.75" fill="#0000e9"/>
<circle cx="796.4" cy="814.7" r="3.75" fill="#0000e9"/>
<circle cx="797.0" cy="815.8" r="3.75" fill="#0000e9"/>
<circle cx="797.2" cy="817.1" r="3.75" fill="#0000e9"/>
<circle cx="801.1" cy="819.2" r="3.75" fill="#0000e9"/>
<circle cx="798.4" cy="822.0" r="3.75" fill="#0000e9"/>
<circle cx="798.9" cy="821.8" r="3.75" fill="#0000e9"/>
<circle cx="799.5" cy="823.9" r="3.75" fill="#0000e9"/>
<circle cx="799.4" cy="825.3" r="3.75" fill="#0000e9"/>
<circle cx="801.3" cy="827.0" r="3.75" fill="#0000e9"/>
<circle cx="800.9" cy="829.3" r="3.75" fill="#0000e9"/>
<circle cx="802.1" cy="830.9" r="3.75" fill="#0000e9"/>
<circle cx="801.9" cy="833.6" r="3.75" fill="#0000e9"/>
<circle cx="804.6" cy="835.7" r="3.75" fill="#0000e9"/>
<circle cx="802.8" cy="835.9" r="3.75" fill="#0000e9"/>
<circle cx="801.4" cy="838.6" r="3.75" fill="#0000e9"/>
<circle cx="800.2" cy="841.1" r="3.75" fill="#0000e9"/>
<circle cx="801.9" cy="842.3" r="3.75" fill="#0000e9"/>
<circle cx="803.2" cy="843.8" r="3.75" fill="#0000e9"/>
<circle cx="804.8" cy="845.8" r="3.75" fill="#0000e9"/>
<circle cx="805.4" cy="847.2" r="3.75" fill="#0000e9"/>
<circle cx="805.7" cy="848.8" r="3.75" fill="#0000e9"/>
<circle cx="805.8" cy="850.8" r="3.75" fill="#0000e9"/>
<circle cx="806.0" cy="853.7" r="3.75" fill="#0000e9"/>
<circle cx="805.0" cy="854.5" r="3.75" fill="#0000e9"/>
<circle cx="807.3" cy="856.3" r="3.75" fill="#0000e9"/>
<circle cx="805.6" cy="857.2" r="3.75" fill="#0000e9"/>
<circle cx="806.8" cy="860.0" r="3.75" fill="#0000e9"/>
<circle cx="808.1" cy="861.3" r="3.75" fill="#0000e9"/>
<circle cx="808.7" cy="863.1" r="3.75" fill="#0000e9"/>
<circle cx="807.4" cy="866.5" r="3.75" fill="#0000e9"/>
<circle cx="807.2" cy="866.5" r="3.75" fill="#0000e9"/>
<circle cx="808.3" cy="867.7" r="3.75" fill="#0000e9"/>
<circle cx="808.6" cy="869.8" r="3.75" fill="#0000e9"/>
<circle cx="807.7" cy="873.3" r="3.75" fill="#0000e9"/>
<circle cx="808.4" cy="874.3" r="3.75" fill="#0000e9"/>
<circle cx="811.0" cy="875.8" r="3.75" fill="#0000e9"/>
<circle cx="809.9" cy="877.9" r="3.75" fill="#0000e9"/>
<circle cx="811.1" cy="878.9" r="3.75" fill="#0000e9"/>
<circle cx="810.6" cy="882.2" r="3.75" fill="#0000e9"/>
<circle cx="810.1" cy="882.4" r="3.75" fill="#0000e9"/>
<circle cx="814.8" cy="884.1" r="3.75" fill="#0000e9"/>
<circle cx="813.7" cy="885.3" r="3.75" fill="#0000e9"/>
<circle cx="816.0" cy="886.7" r="3.75" fill="#0000e9"/>
<circle cx="814.8" cy="889.9" r="3.75" fill="#0000e9"/>
<circle cx="816.7" cy="890.8" r="3.75" fill="#0000e9"/>
<circle cx="818.5" cy="891.7" r="3.75" fill="#0000e9"/>
<circle cx="821.2" cy="892.0" r="3.75" fill="#0000e9"/>
<circle cx="820.6" cy="895.1" r="3.75" fill="#0000e9"/>
<circle cx="822.2" cy="894.1" r="3.75" fill="#0000e9"/>
<circle cx="824.6" cy="894.2" r="3.75" fill="#0000e9"/>
<circle cx="824.3" cy="897.8" r="3.75" fill="#0000e9"/>
<circle cx="825.8" cy="900.1" r="3.75" fill="#0000e9"/>
<circle cx="827.6" cy="900.4" r="3.75" fill="#0000e9"/>
<circle cx="830.3" cy="899.5" r="3.75" fill="#0000e9"/>
<circle cx="832.3" cy="898.9" r="3.75" fill="#0000e9"/>
<circle cx="834.8" cy="897.9" r="3.75" fill="#0000e9"/>
<circle cx="834.8" cy="900.6" r="3.75" fill="#0000e9"/>
<circle cx="837.6" cy="902.5" r="3.75" fill="#0000e9"/>
<circle cx="840.3" cy="900.6" r="3.75" fill="#0000e9"/>
<circle cx="840.8" cy="899.5" r="3.75" fill="#0000e9"/>
<circle cx="842.1" cy="898.7" r="3.75" fill="#0000e9"/>
<circle cx="808.4" cy="810.6" r="3.75" fill="#0000dc"/>
<circle cx="807.1" cy="813.7" r="3.75" fill="#0000dc"/>
<circle cx="808.4" cy="815.2" r="3.75" fill="#0000dc"/>
<circle cx="807.3" cy="820.1" r="3.75" fill="#0000dc"/>
<circle cx="806.9" cy="821.9" r="3.75" fill="#0000dc"/>
<circle cx="806.4" cy="826.4" r="3.75" fill="#0000dc"/>
<circle cx="807.0" cy="827.0" r="3.75" fill="#0000dc"/>
<circle cx="810.3" cy="828.9" r="3.75" fill="#0000dc"/>
<circle cx="809.9" cy="832.5" r="3.75" fill="#0000dc"/>
<circle cx="809.1" cy="835.7" r="3.75" fill="#0000dc"/>
<circle cx="811.5" cy="838.0" r="3.75" fill="#0000dc"/>
<circle cx="810.5" cy="842.5" r="3.75" fill="#0000dc"/>
<circle cx="811.6" cy="845.5" r="3.75" fill="#0000dc"/>
<circle cx="813.8" cy="847.8" r="3.75" fill="#0000dc"/>
<circle cx="813.3" cy="851.6" r="3.75" fill="#0000dc"/>
<circle cx="815.3" cy="853.8" r="3.75" fill="#0000dc"/>
<circle cx="814.8" cy="857.3" r="3.75" fill="#0000dc"/>
<circle cx="817.0" cy="859.9" r="3.75" fill="#0000dc"/>
<circle cx="815.6" cy="861.6" r="3.75" fill="#0000dc"/>
<circle cx="817.3" cy="867.2" r="3.75" fill="#0000dc"/>
<circle cx="816.8" cy="869.8" r="3.75" fill="#0000dc"/>
<circle cx="798.0" cy="840.1" r="3.75" fill="#0000a3"/>
<circle cx="810.6" cy="841.5" r="3.75" fill="#0000a3"/>
<circle cx="814.8" cy="847.8" r="3.75" fill="#0000a3"/>
<circle cx="816.3" cy="852.7" r="3.75" fill="#0000a3"/>
<circle cx="833.1" cy="845.7" r="3.75" fill="#0000a3"/>
<circle cx="835.9" cy="850.6" r="3.75" fill="#0000a3"/>
<circle cx="822.6" cy="859.0" r="3.75" fill="#0000a3"/>
<circle cx="818.4" cy="863.2" r="3.75" fill="#0000a3"/>
<circle cx="828.2" cy="865.3" r="3.75" fill="#0000a3"/>
<circle cx="834.5" cy="868.8" r="3.75" fill="#0000a3"/>
<circle cx="830.3" cy="876.5" r="3.75" fill="#0000a3"/>
<circle cx="802.9" cy="868.1" r="3.75" fill="#0000a3"/>
<circle cx="807.1" cy="880.0" r="3.75" fill="#0000a3"/>
<circle cx="809.9" cy="887.1" r="3.75" fill="#0000a3"/>
<circle cx="842.2" cy="887.8" r="3.75" fill="#0000a3"/>
<circle cx="849.9" cy="819.8" r="3.75" fill="#0000a3"/>
<circle cx="854.8" cy="814.9" r="3.75" fill="#0000a3"/>
<circle cx="859.7" cy="812.1" r="3.75" fill="#0000a3"/>
<circle cx="842.0" cy="847.1" r="3.75" fill="#0000a3"/>
<circle cx="846.6" cy="847.7" r="3.75" fill="#0000a3"/>
<circle cx="846.5" cy="850.4" r="3.75" fill="#0000a3"/>
<circle cx="849.5" cy="852.6" r="3.75" fill="#0000a3"/>
<circle cx="852.4" cy="855.1" r="3.75" fill="#0000a3"/>
<circle cx="851.9" cy="858.3" r="3.75" fill="#0000a3"/>
<circle cx="852.9" cy="860.1" r="3.75" fill="#0000a3"/>
<circle cx="848.8" cy="860.5" r="3.75" fill="#0000a3"/>
<circle cx="848.9" cy="864.2" r="3.75" fill="#0000a3"/>
<circle cx="855.4" cy="873.4" r="3.75" fill="#0000a3"/>
<circle cx="855.3" cy="875.0" r="3.75" fill="#0000a3"/>
<circle cx="858.2" cy="876.8" r="3.75" fill="#0000a3"/>
<circle cx="856.5" cy="880.8" r="3.75" fill="#0000a3"/>
<circle cx="852.0" cy="880.6" r="3.75" fill="#0000a3"/>
<circle cx="849.2" cy="879.1" r="3.75" fill="#0000a3"/>
<circle cx="851.4" cy="882.3" r="3.75" fill="#0000a3"/>
<circle cx="854.0" cy="886.1" r="3.75" fill="#0000a3"/>
<circle cx="817.8" cy="826.4" r="3.75" fill="#0003ff"/>
<circle cx="819.7" cy="827.1" r="3.75" fill="#0003ff"/>
<circle cx="822.2" cy="824.9" r="3.75" fill="#0003ff"/>
<circle cx="823.0" cy="823.9" r="3.75" fill="#0003ff"/>
<circle cx="826.8" cy="820.7" r="3.75" fill="#0003ff"/>
<circle cx="829.3" cy="820.8" r="3.75" fill="#0003ff"/>
<circle cx="831.4" cy="822.3" r="3.75" fill="#0003ff"/>
<circle cx="832.3" cy="823.6" r="3.75" fill="#0003ff"/>
<circle cx="834.0" cy="824.8" r="3.75" fill="#0003ff"/>
<circle cx="834.0" cy="827.0" r="3.75" fill="#0003ff"/>
<circle cx="833.3" cy="830.4" r="3.75" fill="#0003ff"/>
<circle cx="830.1" cy="833.7" r="3.75" fill="#0003ff"/>
<circle cx="828.0" cy="832.8" r="3.75" fill="#0003ff"/>
<circle cx="825.8" cy="833.7" r="3.75" fill="#0003ff"/>
<circle cx="824.5" cy="833.1" r="3.75" fill="#0003ff"/>
<circle cx="819.2" cy="833.8" r="3.75" fill="#0003ff"/>
<circle cx="826.1" cy="814.2" r="3.75" fill="#0003ff"/>
<circle cx="814.8" cy="814.2" r="3.75" fill="#0003ff"/>
<circle cx="838.7" cy="814.2" r="3.75" fill="#0003ff"/>
<circle cx="837.9" cy="817.1" r="3.75" fill="#0003ff"/>
<circle cx="838.2" cy="814.6" r="3.75" fill="#0003ff"/>
<circle cx="842.2" cy="815.6" r="3.75" fill="#0003ff"/>
<circle cx="842.6" cy="814.6" r="3.75" fill="#0003ff"/>
<circle cx="843.7" cy="817.5" r="3.75" fill="#0003ff"/>
<circle cx="844.8" cy="817.8" r="3.75" fill="#0003ff"/>
<circle cx="847.0" cy="818.9" r="3.75" fill="#0003ff"/>
<circle cx="845.9" cy="821.9" r="3.75" fill="#0003ff"/>
<circle cx="848.2" cy="822.2" r="3.75" fill="#0003ff"/>
<circle cx="849.5" cy="825.0" r="3.75" fill="#0003ff"/>
<circle cx="851.0" cy="826.3" r="3.75" fill="#0003ff"/>
<circle cx="852.2" cy="827.1" r="3.75" fill="#0003ff"/>
<circle cx="852.8" cy="830.3" r="3.75" fill="#0003ff"/>
<circle cx="852.5" cy="831.4" r="3.75" fill="#0003ff"/>
<circle cx="854.5" cy="834.8" r="3.75" fill="#0003ff"/>
<circle cx="853.7" cy="835.3" r="3.75" fill="#0003ff"/>
<circle cx="852.6" cy="837.9" r="3.75" fill="#0003ff"/>
<circle cx="853.1" cy="840.9" r="3.75" fill="#0003ff"/>
<circle cx="854.4" cy="842.1" r="3.75" fill="#0003ff"/>
<circle cx="856.8" cy="843.1" r="3.75" fill="#0003ff"/>
<circle cx="857.5" cy="844.6" r="3.75" fill="#0003ff"/>
<circle cx="860.7" cy="844.7" r="3.75" fill="#0003ff"/>
<circle cx="861.2" cy="847.0" r="3.75" fill="#0003ff"/>
<circle cx="863.0" cy="846.7" r="3.75" fill="#0003ff"/>
<circle cx="864.8" cy="849.5" r="3.75" fill="#0003ff"/>
<circle cx="866.6" cy="849.2" r="3.75" fill="#0003ff"/>
<circle cx="870.4" cy="847.5" r="3.75" fill="#0003ff"/>
<circle cx="872.1" cy="847.5" r="3.75" fill="#0003ff"/>
<circle cx="873.5" cy="847.8" r="3.75" fill="#0003ff"/>
<circle cx="873.9" cy="846.9" r="3.75" fill="#0003ff"/>
<circle cx="871.6" cy="844.8" r="3.75" fill="#0003ff"/>
<circle cx="869.1" cy="842.4" r="3.75" fill="#0003ff"/>
<circle cx="870.8" cy="841.0" r="3.75" fill="#0003ff"/>
<circle cx="869.0" cy="838.1" r="3.75" fill="#0003ff"/>
<circle cx="868.2" cy="839.5" r="3.75" fill="#0003ff"/>
<circle cx="866.0" cy="839.2" r="3.75" fill="#0003ff"/>
<circle cx="863.2" cy="840.7" r="3.75" fill="#0003ff"/>
<circle cx="866.6" cy="810.0" r="3.75" fill="#c9ff36"/>
<circle cx="870.0" cy="813.4" r="3.75" fill="#c9ff36"/>
<circle cx="873.0" cy="812.2" r="3.75" fill="#c9ff36"/>
<circle cx="872.1" cy="815.8" r="3.75" fill="#c9ff36"/>
<circle cx="874.0" cy="819.4" r="3.75" fill="#c9ff36"/>
<circle cx="871.1" cy="821.7" r="3.75" fill="#c9ff36"/>
<circle cx="870.5" cy="824.2" r="3.75" fill="#c9ff36"/>
<circle cx="872.5" cy="824.8" r="3.75" fill="#c9ff36"/>
<circle cx="874.2" cy="827.6" r="3.75" fill="#c9ff36"/>
<circle cx="877.5" cy="827.9" r="3.75" fill="#c9ff36"/>
<circle cx="880.1" cy="829.4" r="3.75" fill="#c9ff36"/>
<circle cx="880.7" cy="825.9" r="3.75" fill="#c9ff36"/>
<circle cx="880.0" cy="839.4" r="3.75" fill="#cfff30"/>
<circle cx="880.0" cy="842.5" r="3.75" fill="#cfff30"/>
<circle cx="879.4" cy="844.7" r="3.75" fill="#cfff30"/>
<circle cx="880.9" cy="847.5" r="3.75" fill="#cfff30"/>
<circle cx="881.8" cy="850.4" r="3.75" fill="#cfff30"/>
<circle cx="881.6" cy="852.4" r="3.75" fill="#cfff30"/>
<circle cx="880.2" cy="854.5" r="3.75" fill="#cfff30"/>
<circle cx="879.9" cy="858.0" r="3.75" fill="#cfff30"/>
<circle cx="879.2" cy="871.2" r="3.75" fill="#ebff14"/>
<circle cx="881.7" cy="873.1" r="3.75" fill="#ebff14"/>
<circle cx="882.8" cy="874.1" r="3.75" fill="#ebff14"/>
<circle cx="884.8" cy="876.5" r="3.75" fill="#ebff14"/>
<circle cx="882.0" cy="877.6" r="3.75" fill="#ebff14"/>
<circle cx="881.0" cy="877.1" r="3.75" fill="#ebff14"/>
<circle cx="879.4" cy="875.3" r="3.75" fill="#ebff14"/>
<circle cx="884.9" cy="814.2" r="3.75" fill="#000070"/>
<circle cx="890.5" cy="831.0" r="3.75" fill="#000070"/>
<circle cx="887.8" cy="824.8" r="3.75" fill="#000070"/>
<circle cx="887.4" cy="827.4" r="3.75" fill="#000070"/>
<circle cx="888.8" cy="830.0" r="3.75" fill="#000070"/>
<circle cx="886.7" cy="832.4" r="3.75" fill="#000070"/>
<circle cx="887.7" cy="834.5" r="3.75" fill="#000070"/>
<circle cx="887.0" cy="838.0" r="3.75" fill="#000070"/>
<circle cx="873.0" cy="855.5" r="3.75" fill="#002aff"/>
<circle cx="873.6" cy="857.7" r="3.75" fill="#002aff"/>
<circle cx="870.6" cy="858.6" r="3.75" fill="#002aff"/>
<circle cx="871.4" cy="862.7" r="3.75" fill="#002aff"/>
<circle cx="872.6" cy="863.8" r="3.75" fill="#002aff"/>
<circle cx="870.6" cy="867.7" r="3.75" fill="#002aff"/>
<circle cx="870.5" cy="868.5" r="3.75" fill="#002aff"/>
<circle cx="869.2" cy="872.2" r="3.75" fill="#002aff"/>
<circle cx="869.8" cy="874.3" r="3.75" fill="#002aff"/>
<circle cx="874.4" cy="874.5" r="3.75" fill="#002aff"/>
<circle cx="874.3" cy="877.6" r="3.75" fill="#002aff"/>
<circle cx="872.7" cy="880.0" r="3.75" fill="#002aff"/>
<circle cx="870.0" cy="882.1" r="3.75" fill="#002aff"/>
<circle cx="870.7" cy="883.6" r="3.75" fill="#002aff"/>
<circle cx="869.7" cy="885.7" r="3.75" fill="#002aff"/>
<circle cx="868.4" cy="888.3" r="3.75" fill="#002aff"/>
<circle cx="866.1" cy="890.9" r="3.75" fill="#002aff"/>
<circle cx="880.7" cy="863.2" r="3.75" fill="#002aff"/>
<circle cx="889.1" cy="856.2" r="3.75" fill="#002aff"/>
<circle cx="890.5" cy="866.0" r="3.75" fill="#002aff"/>
<circle cx="886.3" cy="882.8" r="3.75" fill="#002aff"/>
<circle cx="891.9" cy="888.5" r="3.75" fill="#002aff"/>
<circle cx="843.1" cy="899.8" r="3.75" fill="#0063ff"/>
<circle cx="844.3" cy="899.5" r="3.75" fill="#0063ff"/>
<circle cx="847.2" cy="899.3" r="3.75" fill="#0063ff"/>
<circle cx="847.8" cy="898.5" r="3.75" fill="#0063ff"/>
<circle cx="850.3" cy="898.4" r="3.75" fill="#0063ff"/>
<circle cx="851.4" cy="897.5" r="3.75" fill="#0063ff"/>
<circle cx="854.4" cy="897.6" r="3.75" fill="#0063ff"/>
<circle cx="855.5" cy="895.9" r="3.75" fill="#0063ff"/>
<circle cx="857.2" cy="896.2" r="3.75" fill="#0063ff"/>
<circle cx="859.0" cy="896.2" r="3.75" fill="#0063ff"/>
<circle cx="861.2" cy="898.4" r="3.75" fill="#0063ff"/>
<circle cx="862.9" cy="897.9" r="3.75" fill="#0063ff"/>
<circle cx="864.4" cy="896.8" r="3.75" fill="#0063ff"/>
<circle cx="866.9" cy="896.6" r="3.75" fill="#0063ff"/>
<circle cx="868.4" cy="897.3" r="3.75" fill="#0063ff"/>
<circle cx="871.1" cy="897.0" r="3.75" fill="#0063ff"/>
<circle cx="872.9" cy="897.5" r="3.75" fill="#0063ff"/>
<circle cx="874.5" cy="897.7" r="3.75" fill="#0063ff"/>
<circle cx="875.7" cy="897.7" r="3.75" fill="#0063ff"/>
<circle cx="877.6" cy="899.2" r="3.75" fill="#0063ff"/>
<circle cx="878.8" cy="898.4" r="3.75" fill="#0063ff"/>
<circle cx="881.3" cy="898.9" r="3.75" fill="#0063ff"/>
<circle cx="882.7" cy="898.8" r="3.75" fill="#0063ff"/>
<circle cx="885.4" cy="899.5" r="3.75" fill="#0063ff"/>
<circle cx="887.2" cy="899.2" r="3.75" fill="#0063ff"/>
<circle cx="888.9" cy="899.2" r="3.75" fill="#0063ff"/>
<circle cx="891.1" cy="899.9" r="3.75" fill="#0063ff"/>
<circle cx="891.5" cy="900.1" r="3.75" fill="#0063ff"/>
<circle cx="893.3" cy="901.2" r="3.75" fill="#0063ff"/>
<circle cx="826.8" cy="907.7" r="3.75" fill="#0014ff"/>
<circle cx="828.0" cy="907.0" r="3.75" fill="#0014ff"/>
<circle cx="829.3" cy="907.1" r="3.75" fill="#0014ff"/>
<circle cx="831.7" cy="908.3" r="3.75" fill="#0014ff"/>
<circle cx="833.8" cy="907.8" r="3.75" fill="#0014ff"/>
<circle cx="835.6" cy="907.1" r="3.75" fill="#0014ff"/>
<circle cx="836.8" cy="908.8" r="3.75" fill="#0014ff"/>
<circle cx="838.6" cy="909.3" r="3.75" fill="#0014ff"/>
<circle cx="840.8" cy="907.6" r="3.75" fill="#0014ff"/>
<circle cx="841.7" cy="907.8" r="3.75" fill="#0014ff"/>
<circle cx="843.7" cy="908.7" r="3.75" fill="#0014ff"/>
<circle cx="845.5" cy="908.8" r="3.75" fill="#0014ff"/>
<circle cx="847.5" cy="908.8" r="3.75" fill="#0014ff"/>
<circle cx="850.2" cy="907.8" r="3.75" fill="#0014ff"/>
<circle cx="852.1" cy="908.1" r="3.75" fill="#0014ff"/>
<circle cx="852.7" cy="909.5" r="3.75" fill="#0014ff"/>
<circle cx="854.4" cy="908.3" r="3.75" fill="#0014ff"/>
<circle cx="857.5" cy="909.6" r="3.75" fill="#0014ff"/>
<circle cx="858.2" cy="910.1" r="3.75" fill="#0014ff"/>
<circle cx="860.9" cy="910.4" r="3.75" fill="#0014ff"/>
<circle cx="862.7" cy="908.6" r="3.75" fill="#0014ff"/>
<circle cx="865.0" cy="910.1" r="3.75" fill="#0014ff"/>
<circle cx="866.1" cy="910.6" r="3.75" fill="#0014ff"/>
<circle cx="867.5" cy="909.9" r="3.75" fill="#0014ff"/>
<circle cx="870.0" cy="910.9" r="3.75" fill="#0014ff"/>
<circle cx="871.6" cy="910.8" r="3.75" fill="#0014ff"/>
<circle cx="872.8" cy="911.3" r="3.75" fill="#0014ff"/>
<circle cx="875.1" cy="910.7" r="3.75" fill="#0014ff"/>
<circle cx="877.3" cy="910.7" r="3.75" fill="#0014ff"/>
<circle cx="877.8" cy="912.1" r="3.75" fill="#0014ff"/>
<circle cx="880.5" cy="913.1" r="3.75" fill="#0014ff"/>
<circle cx="881.7" cy="912.8" r="3.75" fill="#0014ff"/>
<circle cx="885.3" cy="829.9" r="3.75" fill="#0000c3"/>
<circle cx="893.6" cy="830.2" r="3.75" fill="#0000c3"/>
<circle cx="886.5" cy="832.5" r="3.75" fill="#0000c3"/>
<circle cx="883.4" cy="838.3" r="3.75" fill="#0000c3"/>
<circle cx="892.2" cy="833.5" r="3.75" fill="#0000c3"/>
<circle cx="892.8" cy="837.1" r="3.75" fill="#0000c3"/>
<circle cx="896.9" cy="836.8" r="3.75" fill="#0000c3"/>
<circle cx="898.0" cy="835.8" r="3.75" fill="#0000c3"/>
<circle cx="894.4" cy="841.3" r="3.75" fill="#0000c3"/>
<circle cx="888.2" cy="842.6" r="3.75" fill="#0000c3"/>
<circle cx="893.4" cy="840.1" r="3.75" fill="#0000c3"/>
<circle cx="892.3" cy="842.3" r="3.75" fill="#0000c3"/>
<circle cx="895.4" cy="845.4" r="3.75" fill="#0000c3"/>
<circle cx="889.9" cy="845.1" r="3.75" fill="#0000c3"/>
<circle cx="887.6" cy="850.2" r="3.75" fill="#0000c3"/>
<circle cx="890.4" cy="847.0" r="3.75" fill="#0000c3"/>
<circle cx="889.7" cy="848.5" r="3.75" fill="#0000c3"/>
<circle cx="895.7" cy="851.5" r="3.75" fill="#0000c3"/>
<circle cx="899.8" cy="851.3" r="3.75" fill="#0000c3"/>
<circle cx="888.9" cy="855.3" r="3.75" fill="#0000c3"/>
<circle cx="896.7" cy="853.2" r="3.75" fill="#0000c3"/>
<circle cx="900.9" cy="852.1" r="3.75" fill="#0000c3"/>
<circle cx="892.7" cy="856.2" r="3.75" fill="#0000c3"/>
<circle cx="892.6" cy="857.2" r="3.75" fill="#0000c3"/>
<circle cx="890.1" cy="859.9" r="3.75" fill="#0000c3"/>
<circle cx="893.0" cy="861.8" r="3.75" fill="#0000c3"/>
<circle cx="894.8" cy="862.7" r="3.75" fill="#0000c3"/>
<circle cx="898.8" cy="861.4" r="3.75" fill="#0000c3"/>
<circle cx="895.2" cy="865.4" r="3.75" fill="#0000c3"/>
<circle cx="892.1" cy="866.9" r="3.75" fill="#0000c3"/>
<circle cx="891.5" cy="867.9" r="3.75" fill="#0000c3"/>
<circle cx="896.5" cy="866.7" r="3.75" fill="#0000c3"/>
<circle cx="893.8" cy="867.7" r="3.75" fill="#0000c3"/>
<circle cx="900.4" cy="867.5" r="3.75" fill="#0000c3"/>
<circle cx="895.6" cy="871.0" r="3.75" fill="#0000c3"/>
<circle cx="898.3" cy="870.0" r="3.75" fill="#0000c3"/>
<circle cx="893.3" cy="873.2" r="3.75" fill="#0000c3"/>
<circle cx="897.6" cy="874.0" r="3.75" fill="#0000c3"/>
<circle cx="907.1" cy="873.7" r="3.75" fill="#0000c3"/>
<circle cx="903.7" cy="874.5" r="3.75" fill="#0000c3"/>
<circle cx="904.0" cy="876.9" r="3.75" fill="#0000c3"/>
<circle cx="906.9" cy="876.3" r="3.75" fill="#0000c3"/>
<circle cx="901.5" cy="878.9" r="3.75" fill="#0000c3"/>
<circle cx="897.5" cy="881.4" r="3.75" fill="#0000c3"/>
<circle cx="899.2" cy="881.8" r="3.75" fill="#0000c3"/>
<circle cx="894.8" cy="886.3" r="3.75" fill="#0000c3"/>
<circle cx="900.0" cy="883.9" r="3.75" fill="#0000c3"/>
<circle cx="906.9" cy="887.2" r="3.75" fill="#0000c3"/>
<circle cx="897.7" cy="889.1" r="3.75" fill="#0000c3"/>
<circle cx="897.7" cy="890.8" r="3.75" fill="#0000c3"/>
<circle cx="902.7" cy="890.5" r="3.75" fill="#0000c3"/>
<circle cx="901.8" cy="889.7" r="3.75" fill="#0000c3"/>
<circle cx="898.6" cy="892.2" r="3.75" fill="#0000c3"/>
<circle cx="903.4" cy="895.3" r="3.75" fill="#0000c3"/>
<circle cx="911.2" cy="893.9" r="3.75" fill="#0000c3"/>
<circle cx="888.8" cy="848.2" r="3.75" fill="#0000dc"/>
<circle cx="892.1" cy="849.9" r="3.75" fill="#0000dc"/>
<circle cx="892.0" cy="851.8" r="3.75" fill="#0000dc"/>
<circle cx="895.1" cy="851.9" r="3.75" fill="#0000dc"/>
<circle cx="897.3" cy="850.1" r="3.75" fill="#0000dc"/>
<circle cx="900.8" cy="850.3" r="3.75" fill="#0000dc"/>
<circle cx="898.4" cy="854.8" r="3.75" fill="#0000dc"/>
<circle cx="897.4" cy="856.6" r="3.75" fill="#0000dc"/>
<circle cx="893.7" cy="857.0" r="3.75" fill="#0000dc"/>
<circle cx="899.8" cy="857.0" r="3.75" fill="#0000dc"/>
<circle cx="892.7" cy="863.1" r="3.75" fill="#0000dc"/>
<circle cx="900.7" cy="862.8" r="3.75" fill="#0000dc"/>
<circle cx="900.3" cy="863.4" r="3.75" fill="#0000dc"/>
<circle cx="897.5" cy="862.6" r="3.75" fill="#0000dc"/>
<circle cx="902.0" cy="864.6" r="3.75" fill="#0000dc"/>
<circle cx="900.1" cy="866.8" r="3.75" fill="#0000dc"/>
<circle cx="902.8" cy="867.3" r="3.75" fill="#0000dc"/>
<circle cx="898.4" cy="869.8" r="3.75" fill="#0000dc"/>
<circle cx="903.7" cy="870.2" r="3.75" fill="#0000dc"/>
<circle cx="899.2" cy="874.3" r="3.75" fill="#0000dc"/>
<circle cx="903.9" cy="870.9" r="3.75" fill="#0000dc"/>
<circle cx="906.2" cy="875.0" r="3.75" fill="#0000dc"/>
<circle cx="900.9" cy="874.6" r="3.75" fill="#0000dc"/>
<circle cx="907.7" cy="877.3" r="3.75" fill="#0000dc"/>
<circle cx="904.2" cy="877.4" r="3.75" fill="#0000dc"/>
<circle cx="901.4" cy="879.2" r="3.75" fill="#0000dc"/>
<circle cx="901.6" cy="881.4" r="3.75" fill="#0000dc"/>
<circle cx="903.6" cy="881.8" r="3.75" fill="#0000dc"/>
<circle cx="911.4" cy="882.1" r="3.75" fill="#0000dc"/>
<circle cx="899.7" cy="885.6" r="3.75" fill="#0000dc"/>
<circle cx="906.9" cy="886.9" r="3.75" fill="#0000dc"/>
<circle cx="905.2" cy="887.7" r="3.75" fill="#0000dc"/>
<circle cx="897.1" cy="809.5" r="3.75" fill="#0000b0"/>
<circle cx="898.2" cy="812.8" r="3.75" fill="#0000b0"/>
<circle cx="899.0" cy="815.4" r="3.75" fill="#0000b0"/>
<circle cx="897.7" cy="818.0" r="3.75" fill="#0000b0"/>
<circle cx="897.4" cy="820.1" r="3.75" fill="#0000b0"/>
<circle cx="897.3" cy="822.6" r="3.75" fill="#0000b0"/>
<circle cx="895.2" cy="823.2" r="3.75" fill="#0000b0"/>
<circle cx="896.0" cy="825.2" r="3.75" fill="#0000b0"/>
<circle cx="894.9" cy="828.1" r="3.75" fill="#0000b0"/>
<circle cx="896.2" cy="831.1" r="3.75" fill="#0000b0"/>
<circle cx="895.7" cy="834.8" r="3.75" fill="#0000b0"/>
<circle cx="897.3" cy="837.1" r="3.75" fill="#0000b0"/>
<circle cx="898.4" cy="836.8" r="3.75" fill="#0000b0"/>
<circle cx="888.7" cy="820.9" r="3.75" fill="#000070"/>
<circle cx="889.4" cy="824.3" r="3.75" fill="#000070"/>
<circle cx="889.3" cy="825.8" r="3.75" fill="#000070"/>
<circle cx="887.8" cy="828.6" r="3.75" fill="#000070"/>
<circle cx="889.2" cy="831.7" r="3.75" fill="#000070"/>
<circle cx="889.0" cy="833.9" r="3.75" fill="#000070"/>
<circle cx="888.2" cy="835.6" r="3.75" fill="#000070"/>
<circle cx="887.6" cy="838.3" r="3.75" fill="#000070"/>
<circle cx="888.7" cy="840.4" r="3.75" fill="#000070"/>
<circle cx="885.2" cy="814.2" r="3.75" fill="#000070"/>
<circle cx="860.0" cy="878.6" r="3.75" fill="#000070"/>
<circle cx="902.8" cy="845.4" r="3.75" fill="#002aff"/>
<circle cx="902.5" cy="847.4" r="3.75" fill="#002aff"/>
<circle cx="905.0" cy="848.7" r="3.75" fill="#002aff"/>
<circle cx="901.4" cy="851.3" r="3.75" fill="#002aff"/>
<circle cx="902.0" cy="853.2" r="3.75" fill="#002aff"/>
<circle cx="905.1" cy="854.0" r="3.75" fill="#002aff"/>
<circle cx="906.4" cy="854.5" r="3.75" fill="#002aff"/>
<circle cx="905.9" cy="857.5" r="3.75" fill="#002aff"/>
<circle cx="905.0" cy="859.1" r="3.75" fill="#002aff"/>
<circle cx="905.0" cy="860.2" r="3.75" fill="#002aff"/>
<circle cx="908.0" cy="862.1" r="3.75" fill="#002aff"/>
<circle cx="907.0" cy="864.3" r="3.75" fill="#002aff"/>
<circle cx="909.2" cy="865.4" r="3.75" fill="#002aff"/>
<circle cx="910.0" cy="867.3" r="3.75" fill="#002aff"/>
<circle cx="909.1" cy="869.0" r="3.75" fill="#002aff"/>
<circle cx="909.8" cy="870.2" r="3.75" fill="#002aff"/>
<circle cx="911.1" cy="871.8" r="3.75" fill="#002aff"/>
<circle cx="911.5" cy="874.1" r="3.75" fill="#002aff"/>
<circle cx="914.1" cy="875.3" r="3.75" fill="#002aff"/>
<circle cx="911.0" cy="878.8" r="3.75" fill="#002aff"/>
<circle cx="914.7" cy="878.4" r="3.75" fill="#002aff"/>
<circle cx="913.2" cy="881.7" r="3.75" fill="#002aff"/>
<circle cx="913.8" cy="882.2" r="3.75" fill="#002aff"/>
<circle cx="917.0" cy="884.1" r="3.75" fill="#002aff"/>
<circle cx="916.4" cy="886.5" r="3.75" fill="#002aff"/>
<circle cx="916.6" cy="887.2" r="3.75" fill="#002aff"/>
<circle cx="917.4" cy="890.7" r="3.75" fill="#002aff"/>
<circle cx="919.0" cy="889.1" r="3.75" fill="#002aff"/>
<circle cx="921.6" cy="890.4" r="3.75" fill="#002aff"/>
<circle cx="921.7" cy="892.7" r="3.75" fill="#002aff"/>
<circle cx="925.1" cy="894.1" r="3.75" fill="#002aff"/>
<circle cx="923.8" cy="896.8" r="3.75" fill="#002aff"/>
<circle cx="925.2" cy="896.9" r="3.75" fill="#002aff"/>
<circle cx="874.6" cy="852.9" r="3.75" fill="#002aff"/>
<circle cx="871.1" cy="854.3" r="3.75" fill="#002aff"/>
<circle cx="870.1" cy="856.2" r="3.75" fill="#002aff"/>
<circle cx="869.1" cy="857.9" r="3.75" fill="#002aff"/>
<circle cx="870.1" cy="861.5" r="3.75" fill="#002aff"/>
<circle cx="871.9" cy="862.1" r="3.75" fill="#002aff"/>
<circle cx="870.7" cy="864.4" r="3.75" fill="#002aff"/>
<circle cx="870.2" cy="867.3" r="3.75" fill="#002aff"/>
<circle cx="870.0" cy="868.6" r="3.75" fill="#002aff"/>
<circle cx="868.5" cy="871.6" r="3.75" fill="#002aff"/>
<circle cx="869.9" cy="874.7" r="3.75" fill="#002aff"/>
<circle cx="872.9" cy="874.7" r="3.75" fill="#002aff"/>
<circle cx="873.7" cy="878.0" r="3.75" fill="#002aff"/>
<circle cx="873.0" cy="877.6" r="3.75" fill="#002aff"/>
<circle cx="874.0" cy="881.5" r="3.75" fill="#002aff"/>
<circle cx="873.1" cy="883.9" r="3.75" fill="#002aff"/>
<circle cx="871.7" cy="885.8" r="3.75" fill="#002aff"/>
<circle cx="869.8" cy="888.3" r="3.75" fill="#002aff"/>
<circle cx="869.4" cy="889.9" r="3.75" fill="#002aff"/>
<circle cx="869.5" cy="892.0" r="3.75" fill="#002aff"/>
<circle cx="861.5" cy="836.8" r="3.75" fill="#0003ff"/>
<circle cx="863.9" cy="836.7" r="3.75" fill="#0003ff"/>
<circle cx="864.9" cy="836.1" r="3.75" fill="#0003ff"/>
<circle cx="868.1" cy="833.7" r="3.75" fill="#0003ff"/>
<circle cx="870.8" cy="836.1" r="3.75" fill="#0003ff"/>
<circle cx="873.0" cy="836.2" r="3.75" fill="#0003ff"/>
<circle cx="874.4" cy="838.7" r="3.75" fill="#0003ff"/>
<circle cx="859.7" cy="897.0" r="3.75" fill="#0000ef"/>
<circle cx="862.5" cy="897.5" r="3.75" fill="#0000ef"/>
<circle cx="863.5" cy="895.4" r="3.75" fill="#0000ef"/>
<circle cx="863.9" cy="897.7" r="3.75" fill="#0000ef"/>
<circle cx="867.0" cy="896.2" r="3.75" fill="#0000ef"/>
<circle cx="867.6" cy="898.0" r="3.75" fill="#0000ef"/>
<circle cx="869.1" cy="897.5" r="3.75" fill="#0000ef"/>
<circle cx="870.8" cy="895.6" r="3.75" fill="#0000ef"/>
<circle cx="873.5" cy="898.4" r="3.75" fill="#0000ef"/>
<circle cx="874.3" cy="896.5" r="3.75" fill="#0000ef"/>
<circle cx="876.8" cy="897.7" r="3.75" fill="#0000ef"/>
<circle cx="878.1" cy="898.9" r="3.75" fill="#0000ef"/>
<circle cx="879.4" cy="899.4" r="3.75" fill="#0000ef"/>
<circle cx="881.8" cy="896.3" r="3.75" fill="#0000ef"/>
<circle cx="883.3" cy="896.2" r="3.75" fill="#0000ef"/>
<circle cx="884.0" cy="895.1" r="3.75" fill="#0000ef"/>
<circle cx="886.6" cy="897.3" r="3.75" fill="#0000ef"/>
<circle cx="887.3" cy="897.7" r="3.75" fill="#0000ef"/>
<circle cx="888.8" cy="895.2" r="3.75" fill="#0000ef"/>
<circle cx="890.2" cy="897.7" r="3.75" fill="#0000ef"/>
<circle cx="891.6" cy="900.0" r="3.75" fill="#0000ef"/>
<circle cx="893.4" cy="900.3" r="3.75" fill="#0000ef"/>
<circle cx="896.4" cy="899.0" r="3.75" fill="#0000ef"/>
<circle cx="896.8" cy="897.3" r="3.75" fill="#0000ef"/>
<circle cx="898.6" cy="897.1" r="3.75" fill="#0000ef"/>
<circle cx="901.3" cy="896.2" r="3.75" fill="#0000ef"/>
<circle cx="902.0" cy="898.6" r="3.75" fill="#0000ef"/>
<circle cx="902.6" cy="900.1" r="3.75" fill="#0000ef"/>
<circle cx="904.9" cy="897.1" r="3.75" fill="#0000ef"/>
<circle cx="907.6" cy="898.1" r="3.75" fill="#0000ef"/>
<circle cx="908.9" cy="899.6" r="3.75" fill="#0000ef"/>
<circle cx="910.6" cy="898.6" r="3.75" fill="#0000ef"/>
<circle cx="912.0" cy="900.0" r="3.75" fill="#0000ef"/>
<circle cx="913.4" cy="897.8" r="3.75" fill="#0000ef"/>
<circle cx="914.1" cy="898.8" r="3.75" fill="#0000ef"/>
<circle cx="916.7" cy="899.9" r="3.75" fill="#0000ef"/>
<circle cx="917.6" cy="898.6" r="3.75" fill="#0000ef"/>
<circle cx="919.8" cy="902.5" r="3.75" fill="#0000ef"/>
<circle cx="920.7" cy="899.7" r="3.75" fill="#0000ef"/>
<circle cx="923.1" cy="899.1" r="3.75" fill="#0000ef"/>
<circle cx="924.5" cy="903.1" r="3.75" fill="#0000ef"/>
<circle cx="925.3" cy="900.8" r="3.75" fill="#0000ef"/>
<circle cx="859.3" cy="899.6" r="3.75" fill="#0063ff"/>
<circle cx="861.5" cy="901.6" r="3.75" fill="#0063ff"/>
<circle cx="864.1" cy="902.4" r="3.75" fill="#0063ff"/>
<circle cx="864.7" cy="900.8" r="3.75" fill="#0063ff"/>
<circle cx="865.5" cy="901.2" r="3.75" fill="#0063ff"/>
<circle cx="867.7" cy="903.4" r="3.75" fill="#0063ff"/>
<circle cx="868.7" cy="900.2" r="3.75" fill="#0063ff"/>
<circle cx="870.7" cy="901.9" r="3.75" fill="#0063ff"/>
<circle cx="872.8" cy="901.9" r="3.75" fill="#0063ff"/>
<circle cx="874.8" cy="902.7" r="3.75" fill="#0063ff"/>
<circle cx="875.9" cy="902.1" r="3.75" fill="#0063ff"/>
<circle cx="877.6" cy="900.6" r="3.75" fill="#0063ff"/>
<circle cx="879.4" cy="903.8" r="3.75" fill="#0063ff"/>
<circle cx="881.0" cy="902.5" r="3.75" fill="#0063ff"/>
<circle cx="883.2" cy="903.8" r="3.75" fill="#0063ff"/>
<circle cx="884.3" cy="901.6" r="3.75" fill="#0063ff"/>
<circle cx="886.4" cy="903.4" r="3.75" fill="#0063ff"/>
<circle cx="887.4" cy="904.6" r="3.75" fill="#0063ff"/>
<circle cx="888.9" cy="903.5" r="3.75" fill="#0063ff"/>
<circle cx="890.8" cy="903.8" r="3.75" fill="#0063ff"/>
<circle cx="892.7" cy="903.4" r="3.75" fill="#0063ff"/>
<circle cx="893.9" cy="905.3" r="3.75" fill="#0063ff"/>
<circle cx="894.0" cy="907.1" r="3.75" fill="#0063ff"/>
<circle cx="896.1" cy="906.6" r="3.75" fill="#0063ff"/>
<circle cx="897.4" cy="906.2" r="3.75" fill="#0063ff"/>
<circle cx="899.3" cy="904.5" r="3.75" fill="#0063ff"/>
<circle cx="902.1" cy="907.0" r="3.75" fill="#0063ff"/>
<circle cx="901.5" cy="908.0" r="3.75" fill="#0063ff"/>
<circle cx="903.8" cy="907.7" r="3.75" fill="#0063ff"/>
<circle cx="905.1" cy="910.6" r="3.75" fill="#0063ff"/>
<circle cx="906.5" cy="910.6" r="3.75" fill="#0063ff"/>
<circle cx="907.6" cy="911.1" r="3.75" fill="#0063ff"/>
<circle cx="909.9" cy="910.7" r="3.75" fill="#0063ff"/>
<circle cx="860.1" cy="908.7" r="3.75" fill="#003bff"/>
<circle cx="862.4" cy="909.0" r="3.75" fill="#003bff"/>
<circle cx="863.0" cy="910.7" r="3.75" fill="#003bff"/>
<circle cx="865.4" cy="911.3" r="3.75" fill="#003bff"/>
<circle cx="866.9" cy="909.2" r="3.75" fill="#003bff"/>
<circle cx="868.5" cy="909.9" r="3.75" fill="#003bff"/>
<circle cx="871.1" cy="911.5" r="3.75" fill="#003bff"/>
<circle cx="873.5" cy="910.1" r="3.75" fill="#003bff"/>
<circle cx="875.4" cy="910.1" r="3.75" fill="#003bff"/>
<circle cx="876.7" cy="912.6" r="3.75" fill="#003bff"/>
<circle cx="877.8" cy="910.0" r="3.75" fill="#003bff"/>
<circle cx="879.9" cy="909.5" r="3.75" fill="#003bff"/>
<circle cx="881.9" cy="912.3" r="3.75" fill="#003bff"/>
<circle cx="884.3" cy="911.7" r="3.75" fill="#003bff"/>
<circle cx="886.3" cy="912.1" r="3.75" fill="#003bff"/>
<circle cx="887.9" cy="909.9" r="3.75" fill="#003bff"/>
<circle cx="888.8" cy="909.1" r="3.75" fill="#003bff"/>
<circle cx="890.1" cy="910.3" r="3.75" fill="#003bff"/>
<circle cx="892.4" cy="908.7" r="3.75" fill="#003bff"/>
<circle cx="894.7" cy="910.6" r="3.75" fill="#003bff"/>
<circle cx="897.1" cy="910.8" r="3.75" fill="#003bff"/>
<circle cx="897.6" cy="909.3" r="3.75" fill="#003bff"/>
<circle cx="900.0" cy="909.5" r="3.75" fill="#003bff"/>
<circle cx="901.7" cy="907.7" r="3.75" fill="#003bff"/>
<circle cx="902.3" cy="908.6" r="3.75" fill="#009bff"/>
<circle cx="903.5" cy="908.4" r="3.75" fill="#00a3ff"/>
<circle cx="905.3" cy="909.3" r="3.75" fill="#00abff"/>
<circle cx="907.5" cy="908.8" r="3.75" fill="#00b2ff"/>
<circle cx="908.4" cy="909.9" r="3.75" fill="#00baff"/>
<circle cx="910.8" cy="908.1" r="3.75" fill="#00c2ff"/>
<circle cx="911.3" cy="908.5" r="3.75" fill="#00caff"/>
<circle cx="912.9" cy="908.6" r="3.75" fill="#00d1ff"/>
<circle cx="914.3" cy="909.7" r="3.75" fill="#00d9ff"/>
<circle cx="917.3" cy="908.9" r="3.75" fill="#00e1ff"/>
<circle cx="918.0" cy="909.0" r="3.75" fill="#00e8ff"/>
<circle cx="920.1" cy="909.2" r="3.75" fill="#00e8ff"/>
<circle cx="921.1" cy="908.4" r="3.75" fill="#00e3ff"/>
<circle cx="923.0" cy="908.3" r="3.75" fill="#00ddff"/>
<circle cx="924.1" cy="909.9" r="3.75" fill="#00d8ff"/>
<circle cx="927.0" cy="909.1" r="3.75" fill="#00d3ff"/>
<circle cx="928.0" cy="909.6" r="3.75" fill="#00cdff"/>
<circle cx="929.4" cy="911.5" r="3.75" fill="#00c8ff"/>
<circle cx="931.8" cy="910.5" r="3.75" fill="#00c3ff"/>
<circle cx="933.2" cy="910.4" r="3.75" fill="#00beff"/>
<circle cx="859.5" cy="922.6" r="3.75" fill="#003bff"/>
<circle cx="862.2" cy="922.6" r="3.75" fill="#003bff"/>
<circle cx="863.5" cy="921.4" r="3.75" fill="#003bff"/>
<circle cx="865.7" cy="921.6" r="3.75" fill="#003bff"/>
<circle cx="866.2" cy="922.5" r="3.75" fill="#003bff"/>
<circle cx="868.4" cy="920.1" r="3.75" fill="#003bff"/>
<circle cx="870.2" cy="921.0" r="3.75" fill="#003bff"/>
<circle cx="871.9" cy="920.9" r="3.75" fill="#003bff"/>
<circle cx="873.2" cy="921.4" r="3.75" fill="#003bff"/>
<circle cx="874.9" cy="919.6" r="3.75" fill="#003bff"/>
<circle cx="876.1" cy="920.1" r="3.75" fill="#003bff"/>
<circle cx="877.8" cy="918.3" r="3.75" fill="#003bff"/>
<circle cx="878.7" cy="918.9" r="3.75" fill="#003bff"/>
<circle cx="880.2" cy="919.3" r="3.75" fill="#003bff"/>
<circle cx="882.6" cy="918.3" r="3.75" fill="#003bff"/>
<circle cx="884.0" cy="917.8" r="3.75" fill="#003bff"/>
<circle cx="885.4" cy="917.9" r="3.75" fill="#003bff"/>
<circle cx="888.0" cy="918.0" r="3.75" fill="#003bff"/>
<circle cx="888.7" cy="915.9" r="3.75" fill="#003bff"/>
<circle cx="889.7" cy="915.4" r="3.75" fill="#003bff"/>
<circle cx="892.0" cy="917.1" r="3.75" fill="#003bff"/>
<circle cx="894.1" cy="915.2" r="3.75" fill="#003bff"/>
<circle cx="895.3" cy="914.7" r="3.75" fill="#003bff"/>
<circle cx="896.0" cy="914.9" r="3.75" fill="#003bff"/>
<circle cx="860.0" cy="926.2" r="3.75" fill="#003bff"/>
<circle cx="862.5" cy="925.3" r="3.75" fill="#003bff"/>
<circle cx="864.2" cy="925.3" r="3.75" fill="#003bff"/>
<circle cx="865.4" cy="924.2" r="3.75" fill="#003bff"/>
<circle cx="867.9" cy="924.0" r="3.75" fill="#003bff"/>
<circle cx="870.0" cy="924.9" r="3.75" fill="#003bff"/>
<circle cx="871.8" cy="925.4" r="3.75" fill="#003bff"/>
<circle cx="872.5" cy="922.4" r="3.75" fill="#003bff"/>
<circle cx="875.9" cy="922.8" r="3.75" fill="#003bff"/>
<circle cx="876.8" cy="922.8" r="3.75" fill="#003bff"/>
<circle cx="879.1" cy="921.1" r="3.75" fill="#003bff"/>
<circle cx="880.5" cy="921.4" r="3.75" fill="#003bff"/>
<circle cx="906.0" cy="920.7" r="3.75" fill="#0000ef"/>
<circle cx="905.8" cy="922.2" r="3.75" fill="#0000ef"/>
<circle cx="907.1" cy="924.3" r="3.75" fill="#0000ef"/>
<circle cx="906.2" cy="925.6" r="3.75" fill="#0000ef"/>
<circle cx="907.9" cy="926.6" r="3.75" fill="#0000ef"/>
<circle cx="910.3" cy="927.4" r="3.75" fill="#0000ef"/>
<circle cx="909.9" cy="929.3" r="3.75" fill="#0000ef"/>
<circle cx="911.5" cy="929.3" r="3.75" fill="#0000ef"/>
<circle cx="913.3" cy="929.7" r="3.75" fill="#0000ef"/>
<circle cx="913.9" cy="932.5" r="3.75" fill="#0000ef"/>
<circle cx="916.5" cy="932.4" r="3.75" fill="#0000ef"/>
<circle cx="916.9" cy="930.4" r="3.75" fill="#0000ef"/>
<circle cx="917.6" cy="928.7" r="3.75" fill="#0000ef"/>
<circle cx="918.2" cy="926.5" r="3.75" fill="#0000ef"/>
<circle cx="918.3" cy="925.5" r="3.75" fill="#0000ef"/>
<circle cx="919.6" cy="924.8" r="3.75" fill="#0000ef"/>
<circle cx="919.9" cy="923.1" r="3.75" fill="#0000ef"/>
<circle cx="920.8" cy="921.3" r="3.75" fill="#0000ef"/>
<circle cx="920.6" cy="918.7" r="3.75" fill="#0000ef"/>
<circle cx="921.2" cy="917.0" r="3.75" fill="#0000ef"/>
<circle cx="911.2" cy="918.7" r="3.75" fill="#0000ef"/>
<circle cx="910.1" cy="923.1" r="3.75" fill="#0000ef"/>
<circle cx="908.8" cy="923.2" r="3.75" fill="#0000ef"/>
<circle cx="912.7" cy="923.3" r="3.75" fill="#0000ef"/>
<circle cx="912.8" cy="928.4" r="3.75" fill="#0000ef"/>
<circle cx="914.4" cy="927.1" r="3.75" fill="#0000ef"/>
<circle cx="915.2" cy="925.5" r="3.75" fill="#0000ef"/>
<circle cx="915.4" cy="925.0" r="3.75" fill="#0000ef"/>
<circle cx="914.9" cy="923.3" r="3.75" fill="#0000ef"/>
<circle cx="916.3" cy="920.8" r="3.75" fill="#0000ef"/>
<circle cx="918.1" cy="920.0" r="3.75" fill="#0000ef"/>
<circle cx="909.4" cy="913.3" r="3.75" fill="#0000ef"/>
<circle cx="910.1" cy="915.1" r="3.75" fill="#0000ef"/>
<circle cx="913.8" cy="913.4" r="3.75" fill="#0000ef"/>
<circle cx="914.1" cy="913.4" r="3.75" fill="#0000ef"/>
<circle cx="916.0" cy="915.1" r="3.75" fill="#0000ef"/>
<circle cx="917.2" cy="912.5" r="3.75" fill="#0000ef"/>
<circle cx="918.7" cy="911.3" r="3.75" fill="#0000ef"/>
<circle cx="922.3" cy="913.2" r="3.75" fill="#0000ef"/>
<circle cx="927.6" cy="901.6" r="3.75" fill="#0003ff"/>
<circle cx="929.0" cy="901.4" r="3.75" fill="#0004ff"/>
<circle cx="929.5" cy="901.5" r="3.75" fill="#0004ff"/>
<circle cx="931.3" cy="901.2" r="3.75" fill="#0005ff"/>
<circle cx="934.1" cy="902.2" r="3.75" fill="#0006ff"/>
<circle cx="935.0" cy="902.9" r="3.75" fill="#0007ff"/>
<circle cx="935.9" cy="902.3" r="3.75" fill="#0007ff"/>
<circle cx="938.3" cy="903.6" r="3.75" fill="#0008ff"/>
<circle cx="939.2" cy="902.4" r="3.75" fill="#000aff"/>
<circle cx="940.7" cy="904.0" r="3.75" fill="#000cff"/>
<circle cx="942.2" cy="903.1" r="3.75" fill="#000eff"/>
<circle cx="943.9" cy="904.3" r="3.75" fill="#0010ff"/>
<circle cx="944.6" cy="904.2" r="3.75" fill="#0012ff"/>
<circle cx="947.3" cy="905.5" r="3.75" fill="#0014ff"/>
<circle cx="948.1" cy="905.8" r="3.75" fill="#0024ff"/>
<circle cx="949.6" cy="906.0" r="3.75" fill="#0037ff"/>
<circle cx="950.5" cy="905.9" r="3.75" fill="#0049ff"/>
<circle cx="951.9" cy="907.1" r="3.75" fill="#005cff"/>
<circle cx="954.1" cy="906.9" r="3.75" fill="#006eff"/>
<circle cx="954.8" cy="909.0" r="3.75" fill="#0081ff"/>
<circle cx="956.6" cy="908.6" r="3.75" fill="#0090ff"/>
<circle cx="958.8" cy="909.1" r="3.75" fill="#009fff"/>
<circle cx="959.3" cy="908.5" r="3.75" fill="#00aeff"/>
<circle cx="960.6" cy="909.4" r="3.75" fill="#00bdff"/>
<circle cx="962.3" cy="910.6" r="3.75" fill="#00ccff"/>
<circle cx="964.7" cy="910.4" r="3.75" fill="#00d7ff"/>
<circle cx="966.5" cy="911.3" r="3.75" fill="#00ddff"/>
<circle cx="967.7" cy="908.7" r="3.75" fill="#00e4ff"/>
<circle cx="968.4" cy="909.7" r="3.75" fill="#00eaff"/>
<circle cx="969.9" cy="909.6" r="3.75" fill="#00f0ff"/>
<circle cx="972.2" cy="910.0" r="3.75" fill="#00f6ff"/>
<circle cx="973.1" cy="909.8" r="3.75" fill="#00fcff"/>
<circle cx="975.3" cy="909.6" r="3.75" fill="#04fffb"/>
<circle cx="975.8" cy="909.6" r="3.75" fill="#11ffee"/>
<circle cx="977.6" cy="910.2" r="3.75" fill="#1dffe2"/>
<circle cx="979.0" cy="908.7" r="3.75" fill="#29ffd5"/>
<circle cx="980.6" cy="908.7" r="3.75" fill="#36ffc9"/>
<circle cx="983.0" cy="909.8" r="3.75" fill="#42ffbd"/>
<circle cx="983.9" cy="908.9" r="3.75" fill="#4dffb2"/>
<circle cx="985.5" cy="908.0" r="3.75" fill="#57ffa7"/>
<circle cx="987.8" cy="909.8" r="3.75" fill="#61ff9d"/>
<circle cx="988.8" cy="908.8" r="3.75" fill="#6bff93"/>
<circle cx="990.4" cy="908.6" r="3.75" fill="#75ff89"/>
<circle cx="991.5" cy="908.4" r="3.75" fill="#7fff7f"/>
<circle cx="992.4" cy="909.8" r="3.75" fill="#85ff79"/>
<circle cx="994.6" cy="909.7" r="3.75" fill="#8aff74"/>
<circle cx="935.8" cy="909.5" r="3.75" fill="#002aff"/>
<circle cx="936.8" cy="910.2" r="3.75" fill="#0033ff"/>
<circle cx="938.3" cy="911.9" r="3.75" fill="#003dff"/>
<circle cx="940.3" cy="911.1" r="3.75" fill="#0046ff"/>
<circle cx="940.7" cy="913.0" r="3.75" fill="#004fff"/>
<circle cx="943.7" cy="912.2" r="3.75" fill="#0058ff"/>
<circle cx="945.2" cy="913.3" r="3.75" fill="#0061ff"/>
<circle cx="946.1" cy="911.7" r="3.75" fill="#006aff"/>
<circle cx="947.0" cy="913.7" r="3.75" fill="#0073ff"/>
<circle cx="948.8" cy="914.0" r="3.75" fill="#007cff"/>
<circle cx="951.5" cy="914.1" r="3.75" fill="#0088ff"/>
<circle cx="951.6" cy="915.4" r="3.75" fill="#0095ff"/>
<circle cx="953.9" cy="913.0" r="3.75" fill="#00a2ff"/>
<circle cx="954.8" cy="914.0" r="3.75" fill="#00b0ff"/>
<circle cx="957.3" cy="914.2" r="3.75" fill="#00bdff"/>
<circle cx="958.8" cy="913.4" r="3.75" fill="#00caff"/>
<circle cx="960.5" cy="913.8" r="3.75" fill="#00d7ff"/>
<circle cx="961.7" cy="913.9" r="3.75" fill="#00e1ff"/>
<circle cx="963.2" cy="912.6" r="3.75" fill="#00e6ff"/>
<circle cx="964.3" cy="913.2" r="3.75" fill="#00ebff"/>
<circle cx="966.2" cy="914.0" r="3.75" fill="#00efff"/>
<circle cx="967.4" cy="913.4" r="3.75" fill="#00f4ff"/>
<circle cx="968.8" cy="912.7" r="3.75" fill="#00f9ff"/>
<circle cx="971.0" cy="912.6" r="3.75" fill="#00fdff"/>
<circle cx="972.5" cy="913.0" r="3.75" fill="#03fffc"/>
<circle cx="678.6" cy="788.1" r="3.75" fill="#0000a6"/>
<circle cx="681.0" cy="787.6" r="3.75" fill="#0000a6"/>
<circle cx="683.6" cy="786.8" r="3.75" fill="#0000a6"/>
<circle cx="686.0" cy="785.7" r="3.75" fill="#0000a6"/>
<circle cx="687.7" cy="788.6" r="3.75" fill="#0000a6"/>
<circle cx="679.2" cy="795.4" r="3.75" fill="#00009c"/>
<circle cx="683.4" cy="803.8" r="3.75" fill="#00009c"/>
<circle cx="688.3" cy="813.6" r="3.75" fill="#00009c"/>
<circle cx="692.5" cy="794.0" r="3.75" fill="#00009c"/>
<circle cx="691.8" cy="824.8" r="3.75" fill="#00009c"/>
<circle cx="725.5" cy="826.9" r="3.75" fill="#00009c"/>
<circle cx="703.0" cy="829.0" r="3.75" fill="#00009c"/>
<circle cx="711.4" cy="850.0" r="3.75" fill="#00009c"/>
<circle cx="711.4" cy="859.2" r="3.75" fill="#00009c"/>
<circle cx="749.3" cy="835.3" r="3.75" fill="#00009c"/>
<circle cx="780.8" cy="784.2" r="3.75" fill="#00009c"/>
<circle cx="722.7" cy="780.0" r="3.75" fill="#00009c"/>
<circle cx="731.1" cy="782.8" r="3.75" fill="#00009c"/>
<circle cx="738.8" cy="780.0" r="3.75" fill="#00009c"/>
<circle cx="698.7" cy="780.8" r="3.75" fill="#0000ef"/>
<circle cx="699.2" cy="781.7" r="3.75" fill="#0000ef"/>
<circle cx="698.5" cy="785.2" r="3.75" fill="#0000ef"/>
<circle cx="699.3" cy="787.1" r="3.75" fill="#0000ef"/>
<circle cx="698.5" cy="791.2" r="3.75" fill="#0000ef"/>
<circle cx="698.2" cy="792.7" r="3.75" fill="#0000ef"/>
<circle cx="698.1" cy="794.8" r="3.75" fill="#0000ef"/>
<circle cx="704.4" cy="782.8" r="3.75" fill="#0000f9"/>
<circle cx="707.0" cy="792.3" r="3.75" fill="#0000f9"/>
<circle cx="709.3" cy="800.3" r="3.75" fill="#0000f9"/>
<circle cx="693.9" cy="809.4" r="3.75" fill="#0000f9"/>
<circle cx="716.4" cy="833.9" r="3.75" fill="#0000f9"/>
<circle cx="732.5" cy="844.9" r="3.75" fill="#0000f9"/>
<circle cx="687.4" cy="848.6" r="3.75" fill="#0000f9"/>
<circle cx="698.3" cy="802.1" r="3.75" fill="#0000a6"/>
<circle cx="699.8" cy="802.3" r="3.75" fill="#0000a6"/>
<circle cx="701.7" cy="804.3" r="3.75" fill="#0000a6"/>
<circle cx="704.2" cy="807.3" r="3.75" fill="#0000a6"/>
<circle cx="705.8" cy="808.0" r="3.75" fill="#0000a6"/>
<circle cx="707.5" cy="809.7" r="3.75" fill="#0000a6"/>
<circle cx="709.9" cy="812.8" r="3.75" fill="#0000a6"/>
<circle cx="710.7" cy="814.3" r="3.75" fill="#0000a6"/>
<circle cx="713.3" cy="814.9" r="3.75" fill="#0000a6"/>
<circle cx="714.8" cy="815.0" r="3.75" fill="#0000a6"/>
<circle cx="716.2" cy="812.2" r="3.75" fill="#0000a6"/>
<circle cx="716.6" cy="810.2" r="3.75" fill="#0000a6"/>
<circle cx="716.3" cy="824.4" r="3.75" fill="#0000a6"/>
<circle cx="715.3" cy="828.0" r="3.75" fill="#0000a6"/>
<circle cx="697.1" cy="832.5" r="3.75" fill="#0000a6"/>
<circle cx="699.9" cy="835.8" r="3.75" fill="#0000a6"/>
<circle cx="701.9" cy="835.4" r="3.75" fill="#0000a6"/>
<circle cx="703.1" cy="836.6" r="3.75" fill="#0000a6"/>
<circle cx="704.7" cy="839.0" r="3.75" fill="#0000a6"/>
<circle cx="706.9" cy="839.4" r="3.75" fill="#0000a6"/>
<circle cx="709.6" cy="840.5" r="3.75" fill="#0000a6"/>
<circle cx="711.4" cy="841.0" r="3.75" fill="#0000a6"/>
<circle cx="714.7" cy="841.2" r="3.75" fill="#0000a6"/>
<circle cx="716.8" cy="843.1" r="3.75" fill="#0000a6"/>
<circle cx="718.5" cy="845.3" r="3.75" fill="#0000a6"/>
<circle cx="719.1" cy="847.0" r="3.75" fill="#0000a6"/>
<circle cx="715.2" cy="842.2" r="3.75" fill="#0000a6"/>
<circle cx="717.8" cy="839.7" r="3.75" fill="#0000a6"/>
<circle cx="719.9" cy="839.1" r="3.75" fill="#0000a6"/>
<circle cx="722.1" cy="837.0" r="3.75" fill="#0000a6"/>
<circle cx="724.3" cy="836.7" r="3.75" fill="#0000a6"/>
<circle cx="726.0" cy="836.2" r="3.75" fill="#0000a6"/>
<circle cx="721.8" cy="820.4" r="3.75" fill="#0000f9"/>
<circle cx="726.1" cy="818.9" r="3.75" fill="#0000f9"/>
<circle cx="727.3" cy="817.5" r="3.75" fill="#0000f9"/>
<circle cx="730.7" cy="821.0" r="3.75" fill="#0000f9"/>
<circle cx="735.4" cy="826.1" r="3.75" fill="#0000f9"/>
<circle cx="736.5" cy="828.4" r="3.75" fill="#0000f9"/>
<circle cx="736.1" cy="832.1" r="3.75" fill="#0000f9"/>
<circle cx="735.6" cy="835.5" r="3.75" fill="#0000f9"/>
<circle cx="695.8" cy="822.9" r="3.75" fill="#0000f9"/>
<circle cx="695.6" cy="825.1" r="3.75" fill="#0000f9"/>
<circle cx="695.5" cy="828.1" r="3.75" fill="#0000f9"/>
<circle cx="693.4" cy="830.9" r="3.75" fill="#0000f9"/>
<circle cx="693.2" cy="833.7" r="3.75" fill="#0000f9"/>
<circle cx="692.4" cy="836.9" r="3.75" fill="#0000f9"/>
<circle cx="690.2" cy="856.9" r="3.75" fill="#0000f9"/>
<circle cx="693.7" cy="856.1" r="3.75" fill="#0000f9"/>
<circle cx="692.5" cy="858.9" r="3.75" fill="#0000f9"/>
<circle cx="691.7" cy="862.0" r="3.75" fill="#0000f9"/>
<circle cx="691.8" cy="865.2" r="3.75" fill="#0000f9"/>
<circle cx="697.5" cy="873.1" r="3.75" fill="#0000f9"/>
<circle cx="698.2" cy="869.6" r="3.75" fill="#0000f9"/>
<circle cx="697.9" cy="868.0" r="3.75" fill="#0000f9"/>
<circle cx="700.3" cy="865.5" r="3.75" fill="#0000f9"/>
<circle cx="702.8" cy="865.2" r="3.75" fill="#0000f9"/>
<circle cx="705.1" cy="862.2" r="3.75" fill="#0000f9"/>
<circle cx="706.0" cy="853.4" r="3.75" fill="#0000f9"/>
<circle cx="708.8" cy="850.0" r="3.75" fill="#0000f9"/>
<circle cx="709.3" cy="846.7" r="3.75" fill="#0000f9"/>
<circle cx="725.4" cy="854.8" r="3.75" fill="#0000a6"/>
<circle cx="726.2" cy="858.1" r="3.75" fill="#0000a6"/>
<circle cx="725.6" cy="859.9" r="3.75" fill="#0000a6"/>
<circle cx="726.8" cy="861.4" r="3.75" fill="#0000a6"/>
<circle cx="728.2" cy="861.0" r="3.75" fill="#0000a6"/>
<circle cx="729.9" cy="860.9" r="3.75" fill="#0000a6"/>
<circle cx="730.4" cy="857.6" r="3.75" fill="#0000a6"/>
<circle cx="733.0" cy="857.2" r="3.75" fill="#0000a6"/>
<circle cx="733.4" cy="855.3" r="3.75" fill="#0000a6"/>
<circle cx="734.8" cy="854.0" r="3.75" fill="#0000a6"/>
<circle cx="735.7" cy="851.7" r="3.75" fill="#0000a6"/>
<circle cx="738.3" cy="849.7" r="3.75" fill="#0000a6"/>
<circle cx="739.2" cy="849.0" r="3.75" fill="#0000a6"/>
<circle cx="740.1" cy="845.5" r="3.75" fill="#0000a6"/>
<circle cx="741.3" cy="844.3" r="3.75" fill="#0000a6"/>
<circle cx="741.9" cy="841.8" r="3.75" fill="#0000a6"/>
<circle cx="744.0" cy="840.3" r="3.75" fill="#0000a6"/>
<circle cx="744.7" cy="838.7" r="3.75" fill="#0000a6"/>
<circle cx="751.4" cy="828.4" r="3.75" fill="#0000a6"/>
<circle cx="753.1" cy="826.4" r="3.75" fill="#0000a6"/>
<circle cx="754.5" cy="822.4" r="3.75" fill="#0000a6"/>
<circle cx="754.5" cy="819.3" r="3.75" fill="#0000a6"/>
<circle cx="756.4" cy="817.1" r="3.75" fill="#0000a6"/>
<circle cx="729.0" cy="791.2" r="3.75" fill="#0000b3"/>
<circle cx="731.6" cy="791.2" r="3.75" fill="#0000b3"/>
<circle cx="732.8" cy="792.9" r="3.75" fill="#0000b3"/>
<circle cx="735.5" cy="794.5" r="3.75" fill="#0000b3"/>
<circle cx="737.2" cy="796.0" r="3.75" fill="#0000b3"/>
<circle cx="736.9" cy="798.3" r="3.75" fill="#0000b3"/>
<circle cx="739.3" cy="798.4" r="3.75" fill="#0000b3"/>
<circle cx="741.7" cy="796.8" r="3.75" fill="#0000b3"/>
<circle cx="742.5" cy="795.1" r="3.75" fill="#0000b3"/>
<circle cx="744.2" cy="796.8" r="3.75" fill="#0000b3"/>
<circle cx="747.1" cy="797.1" r="3.75" fill="#0000b3"/>
<circle cx="748.2" cy="798.9" r="3.75" fill="#0000b3"/>
<circle cx="749.8" cy="799.0" r="3.75" fill="#0000b3"/>
<circle cx="752.6" cy="799.3" r="3.75" fill="#0000b3"/>
<circle cx="754.2" cy="800.6" r="3.75" fill="#0000b3"/>
<circle cx="755.3" cy="801.3" r="3.75" fill="#0000b3"/>
<circle cx="758.1" cy="801.1" r="3.75" fill="#0000b3"/>
<circle cx="759.2" cy="802.0" r="3.75" fill="#0000b3"/>
<circle cx="761.4" cy="800.7" r="3.75" fill="#0000b3"/>
<circle cx="762.7" cy="800.6" r="3.75" fill="#0000b3"/>
<circle cx="765.0" cy="800.2" r="3.75" fill="#0000b3"/>
<circle cx="765.8" cy="797.6" r="3.75" fill="#0000b3"/>
<circle cx="767.0" cy="796.7" r="3.75" fill="#0000b3"/>
<circle cx="769.4" cy="795.6" r="3.75" fill="#0000b3"/>
<circle cx="771.1" cy="793.5" r="3.75" fill="#0000b3"/>
<circle cx="772.6" cy="795.0" r="3.75" fill="#0000b3"/>
<circle cx="775.5" cy="796.5" r="3.75" fill="#0000b3"/>
<circle cx="777.5" cy="797.1" r="3.75" fill="#0000b3"/>
<circle cx="779.7" cy="797.0" r="3.75" fill="#0000b3"/>
<circle cx="781.8" cy="795.8" r="3.75" fill="#0000b3"/>
<circle cx="783.1" cy="794.7" r="3.75" fill="#0000b3"/>
<circle cx="784.4" cy="793.1" r="3.75" fill="#0000b3"/>
<circle cx="786.7" cy="791.6" r="3.75" fill="#0000b3"/>
<circle cx="787.2" cy="793.0" r="3.75" fill="#0000b3"/>
<circle cx="790.0" cy="794.1" r="3.75" fill="#0000b3"/>
<circle cx="792.8" cy="794.1" r="3.75" fill="#0000b3"/>
<circle cx="741.5" cy="809.5" r="3.75" fill="#0000b3"/>
<circle cx="744.6" cy="807.4" r="3.75" fill="#0000b3"/>
<circle cx="746.9" cy="807.9" r="3.75" fill="#0000b3"/>
<circle cx="747.7" cy="804.4" r="3.75" fill="#0000b3"/>
<circle cx="750.8" cy="802.2" r="3.75" fill="#0000b3"/>
<circle cx="751.7" cy="788.4" r="3.75" fill="#0000b3"/>
<circle cx="755.4" cy="786.5" r="3.75" fill="#0000b3"/>
<circle cx="759.1" cy="785.7" r="3.75" fill="#0000b3"/>
<circle cx="758.6" cy="807.6" r="3.75" fill="#0000b3"/>
<circle cx="762.1" cy="809.2" r="3.75" fill="#0000b3"/>
<circle cx="762.8" cy="809.4" r="3.75" fill="#0000b3"/>
<circle cx="766.4" cy="807.8" r="3.75" fill="#0000b3"/>
<circle cx="768.6" cy="807.4" r="3.75" fill="#0000b3"/>
<circle cx="769.0" cy="804.3" r="3.75" fill="#0000b3"/>
<circle cx="770.6" cy="803.0" r="3.75" fill="#0000b3"/>
<circle cx="773.9" cy="801.7" r="3.75" fill="#0000b3"/>
<circle cx="709.0" cy="864.1" r="3.75" fill="#0000dc"/>
<circle cx="708.1" cy="866.3" r="3.75" fill="#0000dc"/>
<circle cx="709.7" cy="867.0" r="3.75" fill="#0000dc"/>
<circle cx="710.5" cy="869.5" r="3.75" fill="#0000dc"/>
<circle cx="710.1" cy="869.9" r="3.75" fill="#0000dc"/>
<circle cx="713.2" cy="870.9" r="3.75" fill="#0000dc"/>
<circle cx="713.7" cy="873.8" r="3.75" fill="#0000dc"/>
<circle cx="714.4" cy="875.3" r="3.75" fill="#0000dc"/>
<circle cx="715.5" cy="874.8" r="3.75" fill="#0000dc"/>
<circle cx="716.5" cy="876.8" r="3.75" fill="#0000dc"/>
<circle cx="717.5" cy="877.4" r="3.75" fill="#0000dc"/>
<circle cx="720.0" cy="880.0" r="3.75" fill="#0000dc"/>
<circle cx="721.1" cy="880.0" r="3.75" fill="#0000dc"/>
<circle cx="722.1" cy="881.9" r="3.75" fill="#0000dc"/>
<circle cx="725.0" cy="880.5" r="3.75" fill="#0000dc"/>
<circle cx="726.7" cy="881.3" r="3.75" fill="#0000dc"/>
<circle cx="726.7" cy="882.3" r="3.75" fill="#0000dc"/>
<circle cx="728.1" cy="883.1" r="3.75" fill="#0000dc"/>
<circle cx="730.8" cy="883.9" r="3.75" fill="#0000dc"/>
<circle cx="730.8" cy="884.4" r="3.75" fill="#0000dc"/>
<circle cx="732.8" cy="885.3" r="3.75" fill="#0000dc"/>
<circle cx="734.3" cy="886.6" r="3.75" fill="#0000dc"/>
<circle cx="735.2" cy="887.5" r="3.75" fill="#0000dc"/>
<circle cx="737.2" cy="889.1" r="3.75" fill="#0000dc"/>
<circle cx="739.0" cy="889.7" r="3.75" fill="#0000dc"/>
<circle cx="739.6" cy="891.2" r="3.75" fill="#0000dc"/>
<circle cx="741.3" cy="890.1" r="3.75" fill="#0000dc"/>
<circle cx="743.4" cy="892.2" r="3.75" fill="#0000dc"/>
<circle cx="744.4" cy="892.2" r="3.75" fill="#0000dc"/>
<circle cx="747.6" cy="893.4" r="3.75" fill="#0000dc"/>
<circle cx="747.6" cy="894.6" r="3.75" fill="#0000dc"/>
<circle cx="749.3" cy="896.4" r="3.75" fill="#0000dc"/>
<circle cx="751.6" cy="896.5" r="3.75" fill="#0000dc"/>
<circle cx="752.9" cy="896.6" r="3.75" fill="#0000dc"/>
<circle cx="753.9" cy="898.3" r="3.75" fill="#0000dc"/>
<circle cx="756.8" cy="896.7" r="3.75" fill="#0000dc"/>
<circle cx="757.4" cy="898.8" r="3.75" fill="#0000dc"/>
<circle cx="757.3" cy="899.7" r="3.75" fill="#0000e9"/>
<circle cx="759.2" cy="896.9" r="3.75" fill="#0000e9"/>
<circle cx="760.4" cy="896.9" r="3.75" fill="#0000e9"/>
<circle cx="760.0" cy="894.3" r="3.75" fill="#0000e9"/>
<circle cx="762.6" cy="893.6" r="3.75" fill="#0000e9"/>
<circle cx="761.5" cy="892.3" r="3.75" fill="#0000e9"/>
<circle cx="762.9" cy="890.4" r="3.75" fill="#0000e9"/>
<circle cx="763.3" cy="891.0" r="3.75" fill="#0000e9"/>
<circle cx="762.7" cy="891.7" r="3.75" fill="#0000e9"/>
<circle cx="763.8" cy="893.1" r="3.75" fill="#0000e9"/>
<circle cx="765.2" cy="896.1" r="3.75" fill="#0000e9"/>
<circle cx="765.9" cy="895.7" r="3.75" fill="#0000e9"/>
<circle cx="766.7" cy="898.4" r="3.75" fill="#0000e9"/>
<circle cx="768.7" cy="898.0" r="3.75" fill="#0000e9"/>
<circle cx="768.0" cy="900.4" r="3.75" fill="#0000e9"/>
<circle cx="771.0" cy="899.1" r="3.75" fill="#0000e9"/>
<circle cx="771.5" cy="899.3" r="3.75" fill="#0000e9"/>
<circle cx="774.6" cy="899.5" r="3.75" fill="#0000e9"/>
<circle cx="775.3" cy="899.1" r="3.75" fill="#0000e9"/>
<circle cx="776.4" cy="899.4" r="3.75" fill="#0000e9"/>
<circle cx="777.3" cy="900.6" r="3.75" fill="#0000e9"/>
<circle cx="778.8" cy="901.5" r="3.75" fill="#0000e9"/>
<circle cx="778.5" cy="902.8" r="3.75" fill="#0000e9"/>
<circle cx="779.8" cy="905.3" r="3.75" fill="#0000e9"/>
<circle cx="782.7" cy="905.0" r="3.75" fill="#0000e9"/>
<circle cx="781.7" cy="907.3" r="3.75" fill="#0000e9"/>
<circle cx="784.3" cy="907.4" r="3.75" fill="#0000e9"/>
<circle cx="785.2" cy="910.4" r="3.75" fill="#0000e9"/>
<circle cx="786.4" cy="910.1" r="3.75" fill="#0000e9"/>
<circle cx="787.7" cy="911.3" r="3.75" fill="#0000e9"/>
<circle cx="789.7" cy="912.5" r="3.75" fill="#0000e9"/>
<circle cx="791.7" cy="912.0" r="3.75" fill="#0000e9"/>
<circle cx="736.6" cy="859.7" r="3.75" fill="#0000f9"/>
<circle cx="736.8" cy="862.6" r="3.75" fill="#0000f9"/>
<circle cx="736.8" cy="864.2" r="3.75" fill="#0000f9"/>
<circle cx="735.9" cy="865.9" r="3.75" fill="#0000f9"/>
<circle cx="734.4" cy="868.4" r="3.75" fill="#0000f9"/>
<circle cx="733.9" cy="870.7" r="3.75" fill="#0000f9"/>
<circle cx="734.4" cy="873.3" r="3.75" fill="#0000f9"/>
<circle cx="736.4" cy="873.9" r="3.75" fill="#0000f9"/>
<circle cx="736.5" cy="875.9" r="3.75" fill="#0000f9"/>
<circle cx="737.4" cy="879.1" r="3.75" fill="#0000f9"/>
<circle cx="738.3" cy="879.8" r="3.75" fill="#0000f9"/>
<circle cx="471.6" cy="778.2" r="3.75" fill="#0000cf"/>
<circle cx="472.5" cy="781.4" r="3.75" fill="#0000cf"/>
<circle cx="470.8" cy="781.3" r="3.75" fill="#0000cf"/>
<circle cx="470.0" cy="784.7" r="3.75" fill="#0000cf"/>
<circle cx="468.5" cy="786.3" r="3.75" fill="#0000cf"/>
<circle cx="467.8" cy="789.9" r="3.75" fill="#0000cf"/>
<circle cx="465.5" cy="791.9" r="3.75" fill="#0000cf"/>
<circle cx="464.6" cy="795.9" r="3.75" fill="#0000cf"/>
<circle cx="463.3" cy="796.8" r="3.75" fill="#0000cf"/>
<circle cx="462.3" cy="798.5" r="3.75" fill="#0000cf"/>
<circle cx="462.3" cy="800.5" r="3.75" fill="#0000cf"/>
<circle cx="460.3" cy="804.3" r="3.75" fill="#0000cf"/>
<circle cx="460.5" cy="806.6" r="3.75" fill="#0000cf"/>
<circle cx="460.1" cy="808.3" r="3.75" fill="#0000cf"/>
<circle cx="460.2" cy="810.6" r="3.75" fill="#0000cf"/>
<circle cx="455.8" cy="812.5" r="3.75" fill="#0000cf"/>
<circle cx="454.6" cy="815.2" r="3.75" fill="#0000cf"/>
<circle cx="455.4" cy="820.6" r="3.75" fill="#0000cf"/>
<circle cx="454.1" cy="821.5" r="3.75" fill="#0000cf"/>
<circle cx="453.7" cy="823.0" r="3.75" fill="#0000cf"/>
<circle cx="452.3" cy="825.8" r="3.75" fill="#0000cf"/>
<circle cx="451.8" cy="829.5" r="3.75" fill="#0000cf"/>
<circle cx="448.4" cy="830.8" r="3.75" fill="#0000cf"/>
<circle cx="447.6" cy="833.4" r="3.75" fill="#0000cf"/>
<circle cx="447.3" cy="836.8" r="3.75" fill="#0000cf"/>
<circle cx="449.2" cy="837.7" r="3.75" fill="#0000cf"/>
<circle cx="445.0" cy="841.7" r="3.75" fill="#0000cf"/>
<circle cx="443.5" cy="841.6" r="3.75" fill="#0000cf"/>
<circle cx="441.2" cy="844.3" r="3.75" fill="#0000cf"/>
<circle cx="444.3" cy="848.9" r="3.75" fill="#0000cf"/>
<circle cx="441.1" cy="850.6" r="3.75" fill="#0000cf"/>
<circle cx="439.8" cy="851.2" r="3.75" fill="#0000cf"/>
<circle cx="438.8" cy="855.6" r="3.75" fill="#0000cf"/>
<circle cx="438.1" cy="857.5" r="3.75" fill="#0000cf"/>
<circle cx="446.4" cy="809.1" r="3.75" fill="#000070"/>
<circle cx="440.8" cy="818.1" r="3.75" fill="#000070"/>
<circle cx="449.2" cy="823.6" r="3.75" fill="#000070"/>
<circle cx="454.8" cy="827.8" r="3.75" fill="#000070"/>
<circle cx="443.6" cy="834.8" r="3.75" fill="#000070"/>
<circle cx="438.0" cy="826.4" r="3.75" fill="#000070"/>
<circle cx="442.1" cy="837.4" r="3.75" fill="#0000bc"/>
<circle cx="443.1" cy="839.6" r="3.75" fill="#0000bc"/>
<circle cx="442.5" cy="840.6" r="3.75" fill="#0000bc"/>
<circle cx="442.1" cy="843.3" r="3.75" fill="#0000bc"/>
<circle cx="440.2" cy="845.2" r="3.75" fill="#0000bc"/>
<circle cx="440.5" cy="848.2" r="3.75" fill="#0000bc"/>
<circle cx="438.6" cy="851.3" r="3.75" fill="#0000bc"/>
<circle cx="440.0" cy="852.8" r="3.75" fill="#0000bc"/>
<circle cx="439.2" cy="853.4" r="3.75" fill="#0000bc"/>
<circle cx="439.3" cy="855.8" r="3.75" fill="#0000bc"/>
<circle cx="438.7" cy="858.2" r="3.75" fill="#0000bc"/>
<circle cx="436.9" cy="861.3" r="3.75" fill="#0000bc"/>
<circle cx="437.4" cy="861.2" r="3.75" fill="#0000bc"/>
<g stroke="#c4c4c4" stroke-width="1.7" stroke-dasharray="5.5 7" fill="none">
<line x1="262.0" y1="964.0" x2="262.0" y2="42.5"/>
<line x1="449.2" y1="964.0" x2="449.2" y2="42.5"/>
<line x1="636.4" y1="964.0" x2="636.4" y2="42.5"/>
<line x1="823.6" y1="964.0" x2="823.6" y2="42.5"/>
<line x1="1010.8" y1="964.0" x2="1010.8" y2="42.5"/>
<line x1="134.8" y1="929.5" x2="1045.0" y2="929.5"/>
<line x1="134.8" y1="807.6" x2="1045.0" y2="807.6"/>
<line x1="134.8" y1="685.8" x2="1045.0" y2="685.8"/>
<line x1="134.8" y1="564.0" x2="1045.0" y2="564.0"/>
<line x1="134.8" y1="442.1" x2="1045.0" y2="442.1"/>
<line x1="134.8" y1="320.2" x2="1045.0" y2="320.2"/>
<line x1="134.8" y1="198.4" x2="1045.0" y2="198.4"/>
<line x1="134.8" y1="76.6" x2="1045.0" y2="76.6"/>
</g>
<g stroke="#555555" stroke-width="1.9" fill="none">
<path d="M874.7 76.6 L862.1 112.1 L849.9 147.7 L838.0 183.2 L826.4 218.8 L815.2 254.3 L804.4 289.9 L793.9 325.4 L783.7 360.9 L773.9 396.5 L764.4 432.0 L755.3 467.6 L746.5 503.1 L738.1 538.6 L730.1 574.2 L722.3 609.7 L715.0 645.3 L707.9 680.8 L701.3 716.4 L694.9 751.9 L689.0 787.4 L683.4 823.0 L678.1 858.5 L673.1 894.1 L668.6 929.6"/>
<path d="M1057.6 76.6 L1041.4 112.1 L1025.4 147.7 L1009.9 183.2 L994.6 218.8 L979.8 254.3 L965.3 289.9 L951.1 325.4 L937.3 360.9 L923.8 396.5 L910.7 432.0 L898.0 467.6 L885.6 503.1 L873.5 538.6 L861.8 574.2 L850.5 609.7 L839.5 645.3 L828.8 680.8 L818.5 716.4 L808.6 751.9 L799.0 787.4 L789.8 823.0 L780.9 858.5 L772.3 894.1 L764.2 929.6"/>
</g>
<line x1="134.8" y1="894.9" x2="1045.0" y2="908.5" stroke="#000" stroke-width="2.3"/>
<g stroke="#ff0000" stroke-width="2.4" stroke-linejoin="round" fill="none">
<rect x="842.3" y="76.6" width="121.7" height="121.8"/>
<rect x="701.9" y="442.1" width="159.1" height="292.4"/>
<rect x="842.3" y="746.7" width="65.5" height="97.5"/>
<rect x="776.8" y="892.9" width="149.8" height="24.4"/>
<rect x="926.6" y="892.9" width="84.2" height="24.4"/>
<rect x="823.6" y="917.3" width="121.7" height="17.1"/>
</g>
<g font-size="33.5" fill="#000">
<text x="748.4" y="113.2">CDW</text>
<text x="355.5" y="442.4">AASW</text>
<text x="880.6" y="564.3">mCDW</text>
<text x="917.0" y="771.3">mSW</text>
<text x="927.0" y="883.4">HSSW</text>
<text x="955.7" y="957.2">ISW</text>
<text x="702.4" y="957.0">WW</text>
</g>
<g font-size="27.5" fill="#5a5a5a">
<text x="842.8" y="72.0">28.00</text>
<text x="973.8" y="101.8">28.27</text>
</g>
</g>
<rect x="134.8" y="42.5" width="910.3" height="921.5" fill="none" stroke="#000" stroke-width="3.1" stroke-linejoin="round"/>
<g stroke="#000" stroke-width="2.4" stroke-linecap="round" fill="none">
<line x1="262.0" y1="964.0" x2="262.0" y2="987.5"/>
<line x1="449.2" y1="964.0" x2="449.2" y2="987.5"/>
<line x1="636.4" y1="964.0" x2="636.4" y2="987.5"/>
<line x1="823.6" y1="964.0" x2="823.6" y2="987.5"/>
<line x1="1010.8" y1="964.0" x2="1010.8" y2="987.5"/>
<line x1="134.8" y1="929.5" x2="111.2" y2="929.5"/>
<line x1="134.8" y1="807.6" x2="111.2" y2="807.6"/>
<line x1="134.8" y1="685.8" x2="111.2" y2="685.8"/>
<line x1="134.8" y1="564.0" x2="111.2" y2="564.0"/>
<line x1="134.8" y1="442.1" x2="111.2" y2="442.1"/>
<line x1="134.8" y1="320.2" x2="111.2" y2="320.2"/>
<line x1="134.8" y1="198.4" x2="111.2" y2="198.4"/>
<line x1="134.8" y1="76.6" x2="111.2" y2="76.6"/>
</g>
<g font-size="37.5" fill="#000" text-anchor="middle">
<text x="262.0" y="1031.5">34.0</text>
<text x="449.2" y="1031.5">34.2</text>
<text x="636.4" y="1031.5">34.4</text>
<text x="823.6" y="1031.5">34.6</text>
<text x="1010.8" y="1031.5">34.8</text>
<text transform="translate(94.6 929.5) rotate(-90)">-2.0</text>
<text transform="translate(94.6 807.6) rotate(-90)">-1.5</text>
<text transform="translate(94.6 685.8) rotate(-90)">-1.0</text>
<text transform="translate(94.6 564.0) rotate(-90)">-0.5</text>
<text transform="translate(94.6 442.1) rotate(-90)">0.0</text>
<text transform="translate(94.6 320.2) rotate(-90)">0.5</text>
<text transform="translate(94.6 198.4) rotate(-90)">1.0</text>
<text transform="translate(94.6 76.6) rotate(-90)">1.5</text>
<text x="590" y="1089">Salinity</text>
<text transform="translate(28.8 503.2) rotate(-90)">θ [°C]</text>
</g>
<rect x="1067.4" y="42.2" width="45.3" height="921.2" fill="url(#jet)" stroke="#000" stroke-width="2.4" stroke-linejoin="round"/>
<g stroke="#000" stroke-width="2.4" stroke-linecap="round" fill="none">
<line x1="1112.7" y1="962.3" x2="1135.2" y2="962.3"/>
<line x1="1112.7" y1="860.3" x2="1135.2" y2="860.3"/>
<line x1="1112.7" y1="758.3" x2="1135.2" y2="758.3"/>
<line x1="1112.7" y1="656.3" x2="1135.2" y2="656.3"/>
<line x1="1112.7" y1="554.3" x2="1135.2" y2="554.3"/>
<line x1="1112.7" y1="452.3" x2="1135.2" y2="452.3"/>
<line x1="1112.7" y1="350.3" x2="1135.2" y2="350.3"/>
<line x1="1112.7" y1="248.3" x2="1135.2" y2="248.3"/>
<line x1="1112.7" y1="146.3" x2="1135.2" y2="146.3"/>
<line x1="1112.7" y1="44.3" x2="1135.2" y2="44.3"/>
</g>
<g font-size="37.5" fill="#000" text-anchor="middle">
<text transform="translate(1179.8 962.3) rotate(-90)">0</text>
<text transform="translate(1179.8 860.3) rotate(-90)">200</text>
<text transform="translate(1179.8 758.3) rotate(-90)">400</text>
<text transform="translate(1179.8 656.3) rotate(-90)">600</text>
<text transform="translate(1179.8 554.3) rotate(-90)">800</text>
<text transform="translate(1179.8 350.3) rotate(-90)">1200</text>
<text transform="translate(1179.8 146.3) rotate(-90)">1600</text>
</g>
<text x="1087.8" y="22" font-size="30" text-anchor="middle" fill="#000">Depth [m]</text>
</svg></body></html>
